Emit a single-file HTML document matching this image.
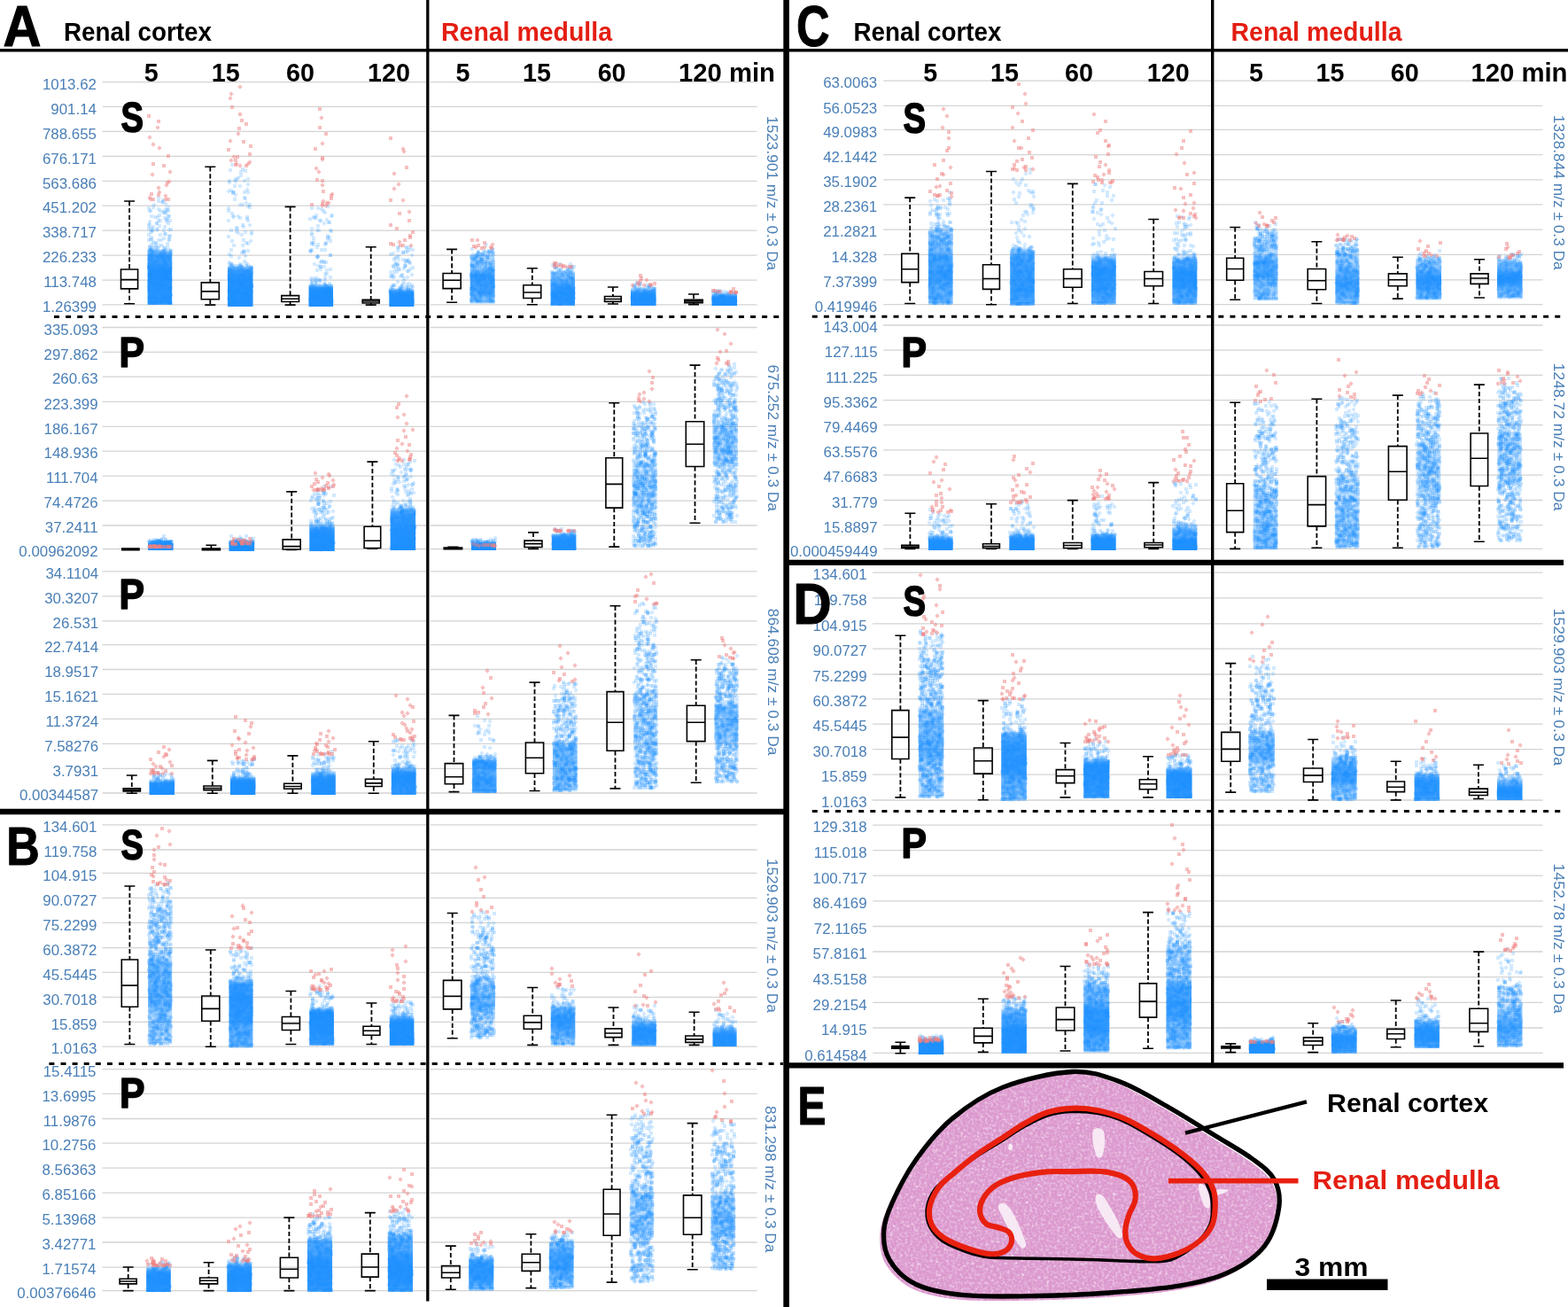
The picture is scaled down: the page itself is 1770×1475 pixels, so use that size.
<!DOCTYPE html><html><head><meta charset="utf-8"><title>Figure</title><style>
html,body{margin:0;padding:0;background:#fff;overflow:hidden}svg{display:block}stop{stop-color:#1e90ff}
text{font-family:"Liberation Sans",Arial,sans-serif}
.k{stroke:#000;stroke-width:1.1;stroke-linejoin:round}.h{font-weight:bold;fill:#000}.r{fill:#e41e12}.t{font-size:16.9px;fill:#4a7fb6}
.g{stroke:#d4d4d4;stroke-width:1.3;fill:none}
.b,.rd{fill:none;stroke:none}
.bx{fill:none;stroke:#000;stroke-width:1.6}.wh{stroke:#000;stroke-width:1.8;stroke-dasharray:5.2 2.7;fill:none}
</style></head><body>
<svg width="1770" height="1475" viewBox="0 0 1770 1475">
<defs>
<marker id="mb" markerUnits="userSpaceOnUse" markerWidth="4" markerHeight="4" refX="2" refY="2" overflow="visible"><rect width="4" height="4" fill="#1e90ff" fill-opacity="0.2"/></marker>
<marker id="mr" markerUnits="userSpaceOnUse" markerWidth="4" markerHeight="4" refX="2" refY="2" overflow="visible"><rect width="4" height="4" fill="#f08080" fill-opacity="0.5"/></marker>
<marker id="mbd" markerUnits="userSpaceOnUse" markerWidth="6" markerHeight="6" refX="0" refY="0" overflow="visible"><path d="M0-2.7L2.7 0 0 2.7-2.7 0z" fill="#1e90ff" fill-opacity="0.2"/></marker>
<marker id="mrd" markerUnits="userSpaceOnUse" markerWidth="6" markerHeight="6" refX="0" refY="0" overflow="visible"><path d="M0-2.7L2.7 0 0 2.7-2.7 0z" fill="#f08080" fill-opacity="0.5"/></marker>
</defs>
<rect width="1770" height="1475" fill="#fff"/>
<path class="g" d="M115.5 92.6H481M486 92.6H854.5M115.5 120.3H481M486 120.3H854.5M115.5 148.3H481M486 148.3H854.5M115.5 176.3H481M486 176.3H854.5M115.5 204.3H481M486 204.3H854.5M115.5 232.2H481M486 232.2H854.5M115.5 260.1H481M486 260.1H854.5M115.5 288.1H481M486 288.1H854.5M115.5 316.1H481M486 316.1H854.5M115.5 343.8H481M486 343.8H854.5M115.5 369.5H481M486 369.5H854.5M115.5 397.3H481M486 397.3H854.5M115.5 425.2H481M486 425.2H854.5M115.5 453.3H481M486 453.3H854.5M115.5 481.3H481M486 481.3H854.5M115.5 509.2H481M486 509.2H854.5M115.5 537.2H481M486 537.2H854.5M115.5 565.2H481M486 565.2H854.5M115.5 593H481M486 593H854.5M115.5 619.5H481M486 619.5H854.5M115.5 644.9H481M486 644.9H854.5M115.5 672.9H481M486 672.9H854.5M115.5 700.9H481M486 700.9H854.5M115.5 727.7H481M486 727.7H854.5M115.5 755.5H481M486 755.5H854.5M115.5 783.4H481M486 783.4H854.5M115.5 811.4H481M486 811.4H854.5M115.5 839.4H481M486 839.4H854.5M115.5 867.3H481M486 867.3H854.5M115.5 895H481M486 895H854.5M115.5 930.8H481M486 930.8H854.5M115.5 959H481M486 959H854.5M115.5 985.3H481M486 985.3H854.5M115.5 1013.4H481M486 1013.4H854.5M115.5 1041.4H481M486 1041.4H854.5M115.5 1069.6H481M486 1069.6H854.5M115.5 1097.3H481M486 1097.3H854.5M115.5 1125.3H481M486 1125.3H854.5M115.5 1153.4H481M486 1153.4H854.5M115.5 1181.2H481M486 1181.2H854.5M115.5 1206.6H481M486 1206.6H854.5M115.5 1234.4H481M486 1234.4H854.5M115.5 1262.5H481M486 1262.5H854.5M115.5 1290.2H481M486 1290.2H854.5M115.5 1318.2H481M486 1318.2H854.5M115.5 1346.1H481M486 1346.1H854.5M115.5 1374.1H481M486 1374.1H854.5M115.5 1402H481M486 1402H854.5M115.5 1430.1H481M486 1430.1H854.5M115.5 1456.7H481M486 1456.7H854.5M997.1 91.1H1367M1371 91.1H1741.5M997.1 119.3H1367M1371 119.3H1741.5M997.1 146.4H1367M1371 146.4H1741.5M997.1 174.6H1367M1371 174.6H1741.5M997.1 202.8H1367M1371 202.8H1741.5M997.1 230.9H1367M1371 230.9H1741.5M997.1 259.1H1367M1371 259.1H1741.5M997.1 287.4H1367M1371 287.4H1741.5M997.1 315.8H1367M1371 315.8H1741.5M997.1 343.6H1367M1371 343.6H1741.5M997.1 367H1367M1371 367H1741.5M997.1 395.1H1367M1371 395.1H1741.5M997.1 423.4H1367M1371 423.4H1741.5M997.1 451.6H1367M1371 451.6H1741.5M997.1 479.6H1367M1371 479.6H1741.5M997.1 507.9H1367M1371 507.9H1741.5M997.1 536.1H1367M1371 536.1H1741.5M997.1 564.5H1367M1371 564.5H1741.5M997.1 592.6H1367M1371 592.6H1741.5M997.1 619.4H1367M1371 619.4H1741.5M984.9 646.1H1367M1371 646.1H1741.5M984.9 674.8H1367M1371 674.8H1741.5M984.9 703.8H1367M1371 703.8H1741.5M984.9 732.1H1367M1371 732.1H1741.5M984.9 761H1367M1371 761H1741.5M984.9 788.8H1367M1371 788.8H1741.5M984.9 817.1H1367M1371 817.1H1741.5M984.9 845.7H1367M1371 845.7H1741.5M984.9 874.2H1367M1371 874.2H1741.5M984.9 903H1367M1371 903H1741.5M985.2 931.1H1367M1371 931.1H1741.5M985.2 959.6H1367M1371 959.6H1741.5M985.2 988.2H1367M1371 988.2H1741.5M985.2 1016.8H1367M1371 1016.8H1741.5M985.2 1045.5H1367M1371 1045.5H1741.5M985.2 1074H1367M1371 1074H1741.5M985.2 1102.7H1367M1371 1102.7H1741.5M985.2 1131.3H1367M1371 1131.3H1741.5M985.2 1160H1367M1371 1160H1741.5M985.2 1188.3H1367M1371 1188.3H1741.5"/>
<defs><linearGradient id="g1" gradientUnits="userSpaceOnUse" x1="0" y1="281" x2="0" y2="344"><stop offset="0.008" stop-opacity="0.13"/><stop offset="0.024" stop-opacity="0.33"/><stop offset="0.040" stop-opacity="0.48"/><stop offset="0.056" stop-opacity="0.57"/><stop offset="0.071" stop-opacity="0.70"/><stop offset="0.087" stop-opacity="0.75"/><stop offset="0.103" stop-opacity="0.80"/><stop offset="0.119" stop-opacity="0.85"/><stop offset="0.262" stop-opacity="0.88"/><stop offset="0.278" stop-opacity="0.90"/><stop offset="0.310" stop-opacity="0.92"/><stop offset="0.325" stop-opacity="0.94"/><stop offset="0.373" stop-opacity="0.97"/><stop offset="0.389" stop-opacity="0.98"/><stop offset="0.913" stop-opacity="0.95"/><stop offset="0.929" stop-opacity="0.93"/><stop offset="0.944" stop-opacity="0.98"/><stop offset="0.960" stop-opacity="0.95"/><stop offset="0.976" stop-opacity="0.90"/><stop offset="0.992" stop-opacity="0.80"/></linearGradient><linearGradient id="g2" gradientUnits="userSpaceOnUse" x1="0" y1="300" x2="0" y2="346"><stop offset="0.011" stop-opacity="0.20"/><stop offset="0.033" stop-opacity="0.42"/><stop offset="0.054" stop-opacity="0.55"/><stop offset="0.076" stop-opacity="0.68"/><stop offset="0.098" stop-opacity="0.78"/><stop offset="0.120" stop-opacity="0.83"/><stop offset="0.141" stop-opacity="0.88"/><stop offset="0.185" stop-opacity="0.92"/><stop offset="0.207" stop-opacity="0.92"/><stop offset="0.337" stop-opacity="0.96"/><stop offset="0.359" stop-opacity="0.97"/><stop offset="0.989" stop-opacity="0.98"/></linearGradient><linearGradient id="g3" gradientUnits="userSpaceOnUse" x1="0" y1="320" x2="0" y2="346"><stop offset="0.019" stop-opacity="0.08"/><stop offset="0.058" stop-opacity="0.35"/><stop offset="0.096" stop-opacity="0.57"/><stop offset="0.135" stop-opacity="0.74"/><stop offset="0.173" stop-opacity="0.87"/><stop offset="0.212" stop-opacity="0.94"/><stop offset="0.250" stop-opacity="0.97"/><stop offset="0.288" stop-opacity="0.99"/><stop offset="0.981" stop-opacity="1.00"/></linearGradient><linearGradient id="g4" gradientUnits="userSpaceOnUse" x1="0" y1="325" x2="0" y2="346"><stop offset="0.024" stop-opacity="0.05"/><stop offset="0.071" stop-opacity="0.29"/><stop offset="0.119" stop-opacity="0.55"/><stop offset="0.167" stop-opacity="0.71"/><stop offset="0.214" stop-opacity="0.86"/><stop offset="0.262" stop-opacity="0.94"/><stop offset="0.310" stop-opacity="0.98"/><stop offset="0.357" stop-opacity="0.99"/><stop offset="0.976" stop-opacity="1.00"/></linearGradient><linearGradient id="g5" gradientUnits="userSpaceOnUse" x1="0" y1="288" x2="0" y2="343"><stop offset="0.009" stop-opacity="0.08"/><stop offset="0.027" stop-opacity="0.15"/><stop offset="0.045" stop-opacity="0.19"/><stop offset="0.064" stop-opacity="0.26"/><stop offset="0.082" stop-opacity="0.29"/><stop offset="0.100" stop-opacity="0.34"/><stop offset="0.118" stop-opacity="0.39"/><stop offset="0.227" stop-opacity="0.42"/><stop offset="0.245" stop-opacity="0.43"/><stop offset="0.264" stop-opacity="0.45"/><stop offset="0.282" stop-opacity="0.48"/><stop offset="0.300" stop-opacity="0.54"/><stop offset="0.318" stop-opacity="0.59"/><stop offset="0.336" stop-opacity="0.65"/><stop offset="0.355" stop-opacity="0.71"/><stop offset="0.373" stop-opacity="0.77"/><stop offset="0.391" stop-opacity="0.81"/><stop offset="0.409" stop-opacity="0.85"/><stop offset="0.427" stop-opacity="0.87"/><stop offset="0.645" stop-opacity="0.84"/><stop offset="0.664" stop-opacity="0.82"/><stop offset="0.700" stop-opacity="0.79"/><stop offset="0.718" stop-opacity="0.76"/><stop offset="0.736" stop-opacity="0.73"/><stop offset="0.755" stop-opacity="0.71"/><stop offset="0.809" stop-opacity="0.68"/><stop offset="0.827" stop-opacity="0.66"/><stop offset="0.864" stop-opacity="0.62"/><stop offset="0.882" stop-opacity="0.59"/><stop offset="0.900" stop-opacity="0.56"/><stop offset="0.918" stop-opacity="0.51"/><stop offset="0.936" stop-opacity="0.66"/><stop offset="0.955" stop-opacity="0.53"/><stop offset="0.973" stop-opacity="0.38"/><stop offset="0.991" stop-opacity="0.19"/></linearGradient><linearGradient id="g6" gradientUnits="userSpaceOnUse" x1="0" y1="305" x2="0" y2="345"><stop offset="0.013" stop-opacity="0.12"/><stop offset="0.037" stop-opacity="0.23"/><stop offset="0.062" stop-opacity="0.31"/><stop offset="0.087" stop-opacity="0.41"/><stop offset="0.113" stop-opacity="0.46"/><stop offset="0.138" stop-opacity="0.51"/><stop offset="0.163" stop-opacity="0.56"/><stop offset="0.188" stop-opacity="0.57"/><stop offset="0.212" stop-opacity="0.60"/><stop offset="0.287" stop-opacity="0.63"/><stop offset="0.312" stop-opacity="0.66"/><stop offset="0.338" stop-opacity="0.70"/><stop offset="0.362" stop-opacity="0.72"/><stop offset="0.388" stop-opacity="0.76"/><stop offset="0.412" stop-opacity="0.79"/><stop offset="0.438" stop-opacity="0.82"/><stop offset="0.463" stop-opacity="0.85"/><stop offset="0.512" stop-opacity="0.89"/><stop offset="0.537" stop-opacity="0.90"/><stop offset="0.637" stop-opacity="0.94"/><stop offset="0.662" stop-opacity="0.95"/><stop offset="0.938" stop-opacity="0.94"/><stop offset="0.963" stop-opacity="0.88"/><stop offset="0.988" stop-opacity="0.77"/></linearGradient><linearGradient id="g7" gradientUnits="userSpaceOnUse" x1="0" y1="324" x2="0" y2="345"><stop offset="0.024" stop-opacity="0.10"/><stop offset="0.071" stop-opacity="0.28"/><stop offset="0.119" stop-opacity="0.46"/><stop offset="0.167" stop-opacity="0.62"/><stop offset="0.214" stop-opacity="0.75"/><stop offset="0.262" stop-opacity="0.84"/><stop offset="0.310" stop-opacity="0.90"/><stop offset="0.357" stop-opacity="0.95"/><stop offset="0.452" stop-opacity="0.98"/><stop offset="0.500" stop-opacity="0.99"/><stop offset="0.976" stop-opacity="0.97"/></linearGradient><linearGradient id="g8" gradientUnits="userSpaceOnUse" x1="0" y1="331" x2="0" y2="345"><stop offset="0.036" stop-opacity="0.30"/><stop offset="0.107" stop-opacity="0.59"/><stop offset="0.179" stop-opacity="0.80"/><stop offset="0.250" stop-opacity="0.92"/><stop offset="0.321" stop-opacity="0.98"/><stop offset="0.964" stop-opacity="1.00"/></linearGradient><linearGradient id="g9" gradientUnits="userSpaceOnUse" x1="0" y1="613" x2="0" y2="621"><stop offset="0.062" stop-opacity="0.98"/><stop offset="0.938" stop-opacity="1.00"/></linearGradient><linearGradient id="g10" gradientUnits="userSpaceOnUse" x1="0" y1="609" x2="0" y2="622"><stop offset="0.038" stop-opacity="0.05"/><stop offset="0.115" stop-opacity="0.52"/><stop offset="0.192" stop-opacity="0.85"/><stop offset="0.269" stop-opacity="0.97"/><stop offset="0.962" stop-opacity="1.00"/></linearGradient><linearGradient id="g11" gradientUnits="userSpaceOnUse" x1="0" y1="591" x2="0" y2="622"><stop offset="0.016" stop-opacity="0.18"/><stop offset="0.048" stop-opacity="0.38"/><stop offset="0.081" stop-opacity="0.52"/><stop offset="0.113" stop-opacity="0.66"/><stop offset="0.145" stop-opacity="0.78"/><stop offset="0.177" stop-opacity="0.84"/><stop offset="0.210" stop-opacity="0.90"/><stop offset="0.242" stop-opacity="0.93"/><stop offset="0.274" stop-opacity="0.94"/><stop offset="0.435" stop-opacity="0.97"/><stop offset="0.468" stop-opacity="0.98"/><stop offset="0.984" stop-opacity="1.00"/></linearGradient><linearGradient id="g12" gradientUnits="userSpaceOnUse" x1="0" y1="572" x2="0" y2="621"><stop offset="0.010" stop-opacity="0.07"/><stop offset="0.031" stop-opacity="0.24"/><stop offset="0.051" stop-opacity="0.44"/><stop offset="0.071" stop-opacity="0.54"/><stop offset="0.092" stop-opacity="0.67"/><stop offset="0.112" stop-opacity="0.75"/><stop offset="0.133" stop-opacity="0.79"/><stop offset="0.153" stop-opacity="0.85"/><stop offset="0.194" stop-opacity="0.87"/><stop offset="0.214" stop-opacity="0.89"/><stop offset="0.418" stop-opacity="0.93"/><stop offset="0.439" stop-opacity="0.93"/><stop offset="0.663" stop-opacity="0.97"/><stop offset="0.684" stop-opacity="0.98"/><stop offset="0.990" stop-opacity="1.00"/></linearGradient><linearGradient id="g13" gradientUnits="userSpaceOnUse" x1="0" y1="611" x2="0" y2="621"><stop offset="0.050" stop-opacity="0.36"/><stop offset="0.150" stop-opacity="0.76"/><stop offset="0.250" stop-opacity="0.94"/><stop offset="0.350" stop-opacity="0.99"/><stop offset="0.950" stop-opacity="1.00"/></linearGradient><linearGradient id="g14" gradientUnits="userSpaceOnUse" x1="0" y1="601" x2="0" y2="621"><stop offset="0.025" stop-opacity="0.05"/><stop offset="0.075" stop-opacity="0.26"/><stop offset="0.125" stop-opacity="0.46"/><stop offset="0.175" stop-opacity="0.66"/><stop offset="0.225" stop-opacity="0.80"/><stop offset="0.275" stop-opacity="0.89"/><stop offset="0.325" stop-opacity="0.95"/><stop offset="0.425" stop-opacity="0.98"/><stop offset="0.475" stop-opacity="0.99"/><stop offset="0.975" stop-opacity="0.99"/></linearGradient><linearGradient id="g15" gradientUnits="userSpaceOnUse" x1="0" y1="516" x2="0" y2="596"><stop offset="0.006" stop-opacity="0.05"/><stop offset="0.019" stop-opacity="0.08"/><stop offset="0.031" stop-opacity="0.10"/><stop offset="0.044" stop-opacity="0.13"/><stop offset="0.056" stop-opacity="0.15"/><stop offset="0.069" stop-opacity="0.18"/><stop offset="0.081" stop-opacity="0.20"/><stop offset="0.256" stop-opacity="0.23"/><stop offset="0.269" stop-opacity="0.25"/><stop offset="0.531" stop-opacity="0.28"/><stop offset="0.544" stop-opacity="0.30"/><stop offset="0.656" stop-opacity="0.27"/><stop offset="0.669" stop-opacity="0.25"/><stop offset="0.694" stop-opacity="0.21"/><stop offset="0.706" stop-opacity="0.19"/><stop offset="0.719" stop-opacity="0.17"/><stop offset="0.731" stop-opacity="0.14"/><stop offset="0.744" stop-opacity="0.10"/><stop offset="0.756" stop-opacity="0.08"/><stop offset="0.769" stop-opacity="0.06"/><stop offset="0.781" stop-opacity="0.05"/><stop offset="0.794" stop-opacity="0.02"/><stop offset="0.994" stop-opacity="0.02"/></linearGradient><linearGradient id="g16" gradientUnits="userSpaceOnUse" x1="0" y1="474" x2="0" y2="529"><stop offset="0.009" stop-opacity="0.05"/><stop offset="0.027" stop-opacity="0.08"/><stop offset="0.045" stop-opacity="0.13"/><stop offset="0.064" stop-opacity="0.16"/><stop offset="0.082" stop-opacity="0.19"/><stop offset="0.100" stop-opacity="0.24"/><stop offset="0.118" stop-opacity="0.26"/><stop offset="0.136" stop-opacity="0.28"/><stop offset="0.336" stop-opacity="0.32"/><stop offset="0.355" stop-opacity="0.33"/><stop offset="0.864" stop-opacity="0.29"/><stop offset="0.882" stop-opacity="0.27"/><stop offset="0.900" stop-opacity="0.24"/><stop offset="0.918" stop-opacity="0.21"/><stop offset="0.936" stop-opacity="0.18"/><stop offset="0.955" stop-opacity="0.13"/><stop offset="0.973" stop-opacity="0.08"/><stop offset="0.991" stop-opacity="0.03"/></linearGradient><linearGradient id="g17" gradientUnits="userSpaceOnUse" x1="0" y1="879" x2="0" y2="897"><stop offset="0.028" stop-opacity="0.15"/><stop offset="0.083" stop-opacity="0.34"/><stop offset="0.139" stop-opacity="0.54"/><stop offset="0.194" stop-opacity="0.73"/><stop offset="0.250" stop-opacity="0.88"/><stop offset="0.306" stop-opacity="0.96"/><stop offset="0.972" stop-opacity="1.00"/></linearGradient><linearGradient id="g18" gradientUnits="userSpaceOnUse" x1="0" y1="875" x2="0" y2="897"><stop offset="0.023" stop-opacity="0.06"/><stop offset="0.068" stop-opacity="0.25"/><stop offset="0.114" stop-opacity="0.46"/><stop offset="0.159" stop-opacity="0.63"/><stop offset="0.205" stop-opacity="0.79"/><stop offset="0.250" stop-opacity="0.89"/><stop offset="0.295" stop-opacity="0.95"/><stop offset="0.341" stop-opacity="0.98"/><stop offset="0.386" stop-opacity="0.99"/><stop offset="0.977" stop-opacity="1.00"/></linearGradient><linearGradient id="g19" gradientUnits="userSpaceOnUse" x1="0" y1="870" x2="0" y2="897"><stop offset="0.019" stop-opacity="0.03"/><stop offset="0.056" stop-opacity="0.22"/><stop offset="0.093" stop-opacity="0.37"/><stop offset="0.130" stop-opacity="0.53"/><stop offset="0.167" stop-opacity="0.67"/><stop offset="0.204" stop-opacity="0.78"/><stop offset="0.241" stop-opacity="0.86"/><stop offset="0.278" stop-opacity="0.90"/><stop offset="0.315" stop-opacity="0.94"/><stop offset="0.352" stop-opacity="0.96"/><stop offset="0.981" stop-opacity="0.98"/></linearGradient><linearGradient id="g20" gradientUnits="userSpaceOnUse" x1="0" y1="865" x2="0" y2="897"><stop offset="0.016" stop-opacity="0.03"/><stop offset="0.047" stop-opacity="0.23"/><stop offset="0.078" stop-opacity="0.38"/><stop offset="0.109" stop-opacity="0.56"/><stop offset="0.141" stop-opacity="0.68"/><stop offset="0.172" stop-opacity="0.79"/><stop offset="0.203" stop-opacity="0.85"/><stop offset="0.234" stop-opacity="0.90"/><stop offset="0.266" stop-opacity="0.92"/><stop offset="0.297" stop-opacity="0.94"/><stop offset="0.359" stop-opacity="0.98"/><stop offset="0.391" stop-opacity="0.99"/><stop offset="0.984" stop-opacity="0.88"/></linearGradient><linearGradient id="g21" gradientUnits="userSpaceOnUse" x1="0" y1="855" x2="0" y2="895"><stop offset="0.013" stop-opacity="0.10"/><stop offset="0.037" stop-opacity="0.32"/><stop offset="0.062" stop-opacity="0.54"/><stop offset="0.087" stop-opacity="0.70"/><stop offset="0.113" stop-opacity="0.81"/><stop offset="0.138" stop-opacity="0.87"/><stop offset="0.263" stop-opacity="0.85"/><stop offset="0.287" stop-opacity="0.82"/><stop offset="0.312" stop-opacity="0.77"/><stop offset="0.338" stop-opacity="0.73"/><stop offset="0.362" stop-opacity="0.70"/><stop offset="0.463" stop-opacity="0.72"/><stop offset="0.487" stop-opacity="0.74"/><stop offset="0.512" stop-opacity="0.77"/><stop offset="0.537" stop-opacity="0.80"/><stop offset="0.588" stop-opacity="0.83"/><stop offset="0.613" stop-opacity="0.86"/><stop offset="0.887" stop-opacity="0.82"/><stop offset="0.912" stop-opacity="0.92"/><stop offset="0.938" stop-opacity="0.85"/><stop offset="0.963" stop-opacity="0.75"/><stop offset="0.988" stop-opacity="0.60"/></linearGradient><linearGradient id="g22" gradientUnits="userSpaceOnUse" x1="0" y1="835" x2="0" y2="894"><stop offset="0.008" stop-opacity="0.06"/><stop offset="0.025" stop-opacity="0.15"/><stop offset="0.042" stop-opacity="0.21"/><stop offset="0.059" stop-opacity="0.27"/><stop offset="0.076" stop-opacity="0.34"/><stop offset="0.093" stop-opacity="0.39"/><stop offset="0.110" stop-opacity="0.45"/><stop offset="0.127" stop-opacity="0.50"/><stop offset="0.161" stop-opacity="0.54"/><stop offset="0.178" stop-opacity="0.55"/><stop offset="0.686" stop-opacity="0.51"/><stop offset="0.703" stop-opacity="0.48"/><stop offset="0.856" stop-opacity="0.47"/><stop offset="0.873" stop-opacity="0.44"/><stop offset="0.890" stop-opacity="0.41"/><stop offset="0.907" stop-opacity="0.40"/><stop offset="0.924" stop-opacity="0.35"/><stop offset="0.941" stop-opacity="0.53"/><stop offset="0.958" stop-opacity="0.40"/><stop offset="0.975" stop-opacity="0.24"/><stop offset="0.992" stop-opacity="0.06"/></linearGradient><linearGradient id="g23" gradientUnits="userSpaceOnUse" x1="0" y1="783" x2="0" y2="888"><stop offset="0.005" stop-opacity="0.03"/><stop offset="0.014" stop-opacity="0.07"/><stop offset="0.024" stop-opacity="0.09"/><stop offset="0.033" stop-opacity="0.11"/><stop offset="0.205" stop-opacity="0.15"/><stop offset="0.214" stop-opacity="0.17"/><stop offset="0.271" stop-opacity="0.14"/><stop offset="0.281" stop-opacity="0.13"/><stop offset="0.310" stop-opacity="0.15"/><stop offset="0.319" stop-opacity="0.18"/><stop offset="0.576" stop-opacity="0.16"/><stop offset="0.586" stop-opacity="0.14"/><stop offset="0.624" stop-opacity="0.12"/><stop offset="0.633" stop-opacity="0.09"/><stop offset="0.662" stop-opacity="0.05"/><stop offset="0.671" stop-opacity="0.04"/><stop offset="0.995" stop-opacity="0.11"/></linearGradient><linearGradient id="g24" gradientUnits="userSpaceOnUse" x1="0" y1="789" x2="0" y2="859"><stop offset="0.007" stop-opacity="0.03"/><stop offset="0.036" stop-opacity="0.05"/><stop offset="0.050" stop-opacity="0.08"/><stop offset="0.064" stop-opacity="0.10"/><stop offset="0.079" stop-opacity="0.17"/><stop offset="0.093" stop-opacity="0.23"/><stop offset="0.107" stop-opacity="0.28"/><stop offset="0.121" stop-opacity="0.34"/><stop offset="0.136" stop-opacity="0.37"/><stop offset="0.150" stop-opacity="0.40"/><stop offset="0.164" stop-opacity="0.45"/><stop offset="0.179" stop-opacity="0.48"/><stop offset="0.193" stop-opacity="0.49"/><stop offset="0.436" stop-opacity="0.45"/><stop offset="0.450" stop-opacity="0.45"/><stop offset="0.607" stop-opacity="0.42"/><stop offset="0.621" stop-opacity="0.41"/><stop offset="0.636" stop-opacity="0.38"/><stop offset="0.650" stop-opacity="0.36"/><stop offset="0.664" stop-opacity="0.32"/><stop offset="0.679" stop-opacity="0.28"/><stop offset="0.693" stop-opacity="0.23"/><stop offset="0.707" stop-opacity="0.19"/><stop offset="0.721" stop-opacity="0.13"/><stop offset="0.736" stop-opacity="0.10"/><stop offset="0.750" stop-opacity="0.06"/><stop offset="0.764" stop-opacity="0.04"/><stop offset="0.779" stop-opacity="0.02"/><stop offset="0.993" stop-opacity="0.04"/></linearGradient><linearGradient id="g25" gradientUnits="userSpaceOnUse" x1="0" y1="1035" x2="0" y2="1179"><stop offset="0.003" stop-opacity="0.04"/><stop offset="0.302" stop-opacity="0.07"/><stop offset="0.309" stop-opacity="0.11"/><stop offset="0.316" stop-opacity="0.16"/><stop offset="0.323" stop-opacity="0.20"/><stop offset="0.330" stop-opacity="0.28"/><stop offset="0.337" stop-opacity="0.33"/><stop offset="0.344" stop-opacity="0.38"/><stop offset="0.351" stop-opacity="0.42"/><stop offset="0.358" stop-opacity="0.46"/><stop offset="0.365" stop-opacity="0.50"/><stop offset="0.378" stop-opacity="0.53"/><stop offset="0.385" stop-opacity="0.54"/><stop offset="0.524" stop-opacity="0.58"/><stop offset="0.531" stop-opacity="0.59"/><stop offset="0.545" stop-opacity="0.63"/><stop offset="0.552" stop-opacity="0.64"/><stop offset="0.684" stop-opacity="0.61"/><stop offset="0.691" stop-opacity="0.58"/><stop offset="0.698" stop-opacity="0.56"/><stop offset="0.705" stop-opacity="0.53"/><stop offset="0.712" stop-opacity="0.50"/><stop offset="0.719" stop-opacity="0.46"/><stop offset="0.726" stop-opacity="0.43"/><stop offset="0.733" stop-opacity="0.41"/><stop offset="0.740" stop-opacity="0.38"/><stop offset="0.747" stop-opacity="0.35"/><stop offset="0.774" stop-opacity="0.32"/><stop offset="0.781" stop-opacity="0.31"/><stop offset="0.830" stop-opacity="0.33"/><stop offset="0.837" stop-opacity="0.37"/><stop offset="0.858" stop-opacity="0.35"/><stop offset="0.865" stop-opacity="0.31"/><stop offset="0.962" stop-opacity="0.28"/><stop offset="0.969" stop-opacity="0.26"/><stop offset="0.976" stop-opacity="0.19"/><stop offset="0.983" stop-opacity="0.38"/><stop offset="0.990" stop-opacity="0.23"/><stop offset="0.997" stop-opacity="0.09"/></linearGradient><linearGradient id="g26" gradientUnits="userSpaceOnUse" x1="0" y1="1104" x2="0" y2="1183"><stop offset="0.006" stop-opacity="0.04"/><stop offset="0.019" stop-opacity="0.17"/><stop offset="0.032" stop-opacity="0.35"/><stop offset="0.044" stop-opacity="0.45"/><stop offset="0.057" stop-opacity="0.59"/><stop offset="0.070" stop-opacity="0.69"/><stop offset="0.082" stop-opacity="0.75"/><stop offset="0.095" stop-opacity="0.80"/><stop offset="0.108" stop-opacity="0.82"/><stop offset="0.120" stop-opacity="0.84"/><stop offset="0.196" stop-opacity="0.87"/><stop offset="0.209" stop-opacity="0.88"/><stop offset="0.272" stop-opacity="0.92"/><stop offset="0.285" stop-opacity="0.92"/><stop offset="0.614" stop-opacity="0.89"/><stop offset="0.627" stop-opacity="0.86"/><stop offset="0.639" stop-opacity="0.84"/><stop offset="0.652" stop-opacity="0.80"/><stop offset="0.665" stop-opacity="0.78"/><stop offset="0.677" stop-opacity="0.75"/><stop offset="0.690" stop-opacity="0.73"/><stop offset="0.703" stop-opacity="0.71"/><stop offset="0.892" stop-opacity="0.68"/><stop offset="0.905" stop-opacity="0.66"/><stop offset="0.918" stop-opacity="0.65"/><stop offset="0.930" stop-opacity="0.62"/><stop offset="0.943" stop-opacity="0.58"/><stop offset="0.956" stop-opacity="0.72"/><stop offset="0.968" stop-opacity="0.59"/><stop offset="0.981" stop-opacity="0.44"/><stop offset="0.994" stop-opacity="0.25"/></linearGradient><linearGradient id="g27" gradientUnits="userSpaceOnUse" x1="0" y1="1137" x2="0" y2="1180"><stop offset="0.012" stop-opacity="0.10"/><stop offset="0.035" stop-opacity="0.29"/><stop offset="0.058" stop-opacity="0.51"/><stop offset="0.081" stop-opacity="0.71"/><stop offset="0.105" stop-opacity="0.85"/><stop offset="0.128" stop-opacity="0.94"/><stop offset="0.151" stop-opacity="0.97"/><stop offset="0.174" stop-opacity="0.99"/><stop offset="0.686" stop-opacity="0.96"/><stop offset="0.709" stop-opacity="0.95"/><stop offset="0.826" stop-opacity="0.91"/><stop offset="0.849" stop-opacity="0.90"/><stop offset="0.895" stop-opacity="0.86"/><stop offset="0.919" stop-opacity="0.94"/><stop offset="0.942" stop-opacity="0.89"/><stop offset="0.965" stop-opacity="0.80"/><stop offset="0.988" stop-opacity="0.65"/></linearGradient><linearGradient id="g28" gradientUnits="userSpaceOnUse" x1="0" y1="1146" x2="0" y2="1180"><stop offset="0.015" stop-opacity="0.13"/><stop offset="0.044" stop-opacity="0.31"/><stop offset="0.074" stop-opacity="0.49"/><stop offset="0.103" stop-opacity="0.66"/><stop offset="0.132" stop-opacity="0.81"/><stop offset="0.162" stop-opacity="0.90"/><stop offset="0.191" stop-opacity="0.95"/><stop offset="0.250" stop-opacity="0.99"/><stop offset="0.279" stop-opacity="0.99"/><stop offset="0.926" stop-opacity="0.98"/><stop offset="0.956" stop-opacity="0.94"/><stop offset="0.985" stop-opacity="0.87"/></linearGradient><linearGradient id="g29" gradientUnits="userSpaceOnUse" x1="0" y1="1104" x2="0" y2="1171"><stop offset="0.007" stop-opacity="0.02"/><stop offset="0.022" stop-opacity="0.10"/><stop offset="0.037" stop-opacity="0.17"/><stop offset="0.052" stop-opacity="0.25"/><stop offset="0.067" stop-opacity="0.30"/><stop offset="0.082" stop-opacity="0.36"/><stop offset="0.097" stop-opacity="0.41"/><stop offset="0.112" stop-opacity="0.44"/><stop offset="0.127" stop-opacity="0.46"/><stop offset="0.216" stop-opacity="0.49"/><stop offset="0.231" stop-opacity="0.50"/><stop offset="0.291" stop-opacity="0.54"/><stop offset="0.306" stop-opacity="0.55"/><stop offset="0.366" stop-opacity="0.59"/><stop offset="0.381" stop-opacity="0.59"/><stop offset="0.470" stop-opacity="0.57"/><stop offset="0.485" stop-opacity="0.53"/><stop offset="0.500" stop-opacity="0.49"/><stop offset="0.515" stop-opacity="0.46"/><stop offset="0.530" stop-opacity="0.42"/><stop offset="0.545" stop-opacity="0.36"/><stop offset="0.560" stop-opacity="0.30"/><stop offset="0.575" stop-opacity="0.25"/><stop offset="0.590" stop-opacity="0.22"/><stop offset="0.604" stop-opacity="0.19"/><stop offset="0.619" stop-opacity="0.16"/><stop offset="0.634" stop-opacity="0.14"/><stop offset="0.903" stop-opacity="0.11"/><stop offset="0.918" stop-opacity="0.09"/><stop offset="0.948" stop-opacity="0.05"/><stop offset="0.963" stop-opacity="0.03"/><stop offset="0.978" stop-opacity="0.21"/><stop offset="0.993" stop-opacity="0.08"/></linearGradient><linearGradient id="g30" gradientUnits="userSpaceOnUse" x1="0" y1="1134" x2="0" y2="1181"><stop offset="0.011" stop-opacity="0.04"/><stop offset="0.032" stop-opacity="0.18"/><stop offset="0.053" stop-opacity="0.32"/><stop offset="0.074" stop-opacity="0.44"/><stop offset="0.096" stop-opacity="0.53"/><stop offset="0.117" stop-opacity="0.61"/><stop offset="0.138" stop-opacity="0.65"/><stop offset="0.160" stop-opacity="0.68"/><stop offset="0.181" stop-opacity="0.72"/><stop offset="0.202" stop-opacity="0.75"/><stop offset="0.223" stop-opacity="0.78"/><stop offset="0.245" stop-opacity="0.80"/><stop offset="0.266" stop-opacity="0.83"/><stop offset="0.309" stop-opacity="0.86"/><stop offset="0.330" stop-opacity="0.88"/><stop offset="0.564" stop-opacity="0.84"/><stop offset="0.585" stop-opacity="0.79"/><stop offset="0.606" stop-opacity="0.76"/><stop offset="0.628" stop-opacity="0.72"/><stop offset="0.649" stop-opacity="0.66"/><stop offset="0.670" stop-opacity="0.62"/><stop offset="0.691" stop-opacity="0.58"/><stop offset="0.713" stop-opacity="0.56"/><stop offset="0.777" stop-opacity="0.53"/><stop offset="0.798" stop-opacity="0.50"/><stop offset="0.840" stop-opacity="0.48"/><stop offset="0.862" stop-opacity="0.44"/><stop offset="0.883" stop-opacity="0.41"/><stop offset="0.904" stop-opacity="0.36"/><stop offset="0.926" stop-opacity="0.53"/><stop offset="0.947" stop-opacity="0.41"/><stop offset="0.968" stop-opacity="0.25"/><stop offset="0.989" stop-opacity="0.07"/></linearGradient><linearGradient id="g31" gradientUnits="userSpaceOnUse" x1="0" y1="1150" x2="0" y2="1181"><stop offset="0.016" stop-opacity="0.13"/><stop offset="0.048" stop-opacity="0.28"/><stop offset="0.081" stop-opacity="0.42"/><stop offset="0.113" stop-opacity="0.54"/><stop offset="0.145" stop-opacity="0.64"/><stop offset="0.177" stop-opacity="0.72"/><stop offset="0.210" stop-opacity="0.77"/><stop offset="0.242" stop-opacity="0.82"/><stop offset="0.274" stop-opacity="0.86"/><stop offset="0.306" stop-opacity="0.89"/><stop offset="0.339" stop-opacity="0.91"/><stop offset="0.403" stop-opacity="0.95"/><stop offset="0.435" stop-opacity="0.96"/><stop offset="0.726" stop-opacity="0.93"/><stop offset="0.758" stop-opacity="0.91"/><stop offset="0.790" stop-opacity="0.89"/><stop offset="0.823" stop-opacity="0.86"/><stop offset="0.855" stop-opacity="0.81"/><stop offset="0.887" stop-opacity="0.90"/><stop offset="0.919" stop-opacity="0.82"/><stop offset="0.952" stop-opacity="0.69"/><stop offset="0.984" stop-opacity="0.53"/></linearGradient><linearGradient id="g32" gradientUnits="userSpaceOnUse" x1="0" y1="1159" x2="0" y2="1181"><stop offset="0.023" stop-opacity="0.15"/><stop offset="0.068" stop-opacity="0.31"/><stop offset="0.114" stop-opacity="0.49"/><stop offset="0.159" stop-opacity="0.61"/><stop offset="0.205" stop-opacity="0.72"/><stop offset="0.250" stop-opacity="0.80"/><stop offset="0.295" stop-opacity="0.86"/><stop offset="0.341" stop-opacity="0.91"/><stop offset="0.386" stop-opacity="0.94"/><stop offset="0.432" stop-opacity="0.96"/><stop offset="0.977" stop-opacity="0.96"/></linearGradient><linearGradient id="g33" gradientUnits="userSpaceOnUse" x1="0" y1="1429" x2="0" y2="1458"><stop offset="0.017" stop-opacity="0.19"/><stop offset="0.052" stop-opacity="0.36"/><stop offset="0.086" stop-opacity="0.54"/><stop offset="0.121" stop-opacity="0.69"/><stop offset="0.155" stop-opacity="0.80"/><stop offset="0.190" stop-opacity="0.88"/><stop offset="0.224" stop-opacity="0.93"/><stop offset="0.259" stop-opacity="0.96"/><stop offset="0.293" stop-opacity="0.98"/><stop offset="0.983" stop-opacity="0.95"/></linearGradient><linearGradient id="g34" gradientUnits="userSpaceOnUse" x1="0" y1="1424" x2="0" y2="1458"><stop offset="0.015" stop-opacity="0.20"/><stop offset="0.044" stop-opacity="0.36"/><stop offset="0.074" stop-opacity="0.51"/><stop offset="0.103" stop-opacity="0.64"/><stop offset="0.132" stop-opacity="0.72"/><stop offset="0.162" stop-opacity="0.80"/><stop offset="0.191" stop-opacity="0.84"/><stop offset="0.221" stop-opacity="0.87"/><stop offset="0.250" stop-opacity="0.90"/><stop offset="0.338" stop-opacity="0.94"/><stop offset="0.368" stop-opacity="0.95"/><stop offset="0.426" stop-opacity="0.98"/><stop offset="0.456" stop-opacity="0.99"/><stop offset="0.985" stop-opacity="0.95"/></linearGradient><linearGradient id="g35" gradientUnits="userSpaceOnUse" x1="0" y1="1396" x2="0" y2="1458"><stop offset="0.008" stop-opacity="0.10"/><stop offset="0.024" stop-opacity="0.24"/><stop offset="0.040" stop-opacity="0.36"/><stop offset="0.056" stop-opacity="0.42"/><stop offset="0.073" stop-opacity="0.55"/><stop offset="0.089" stop-opacity="0.61"/><stop offset="0.105" stop-opacity="0.66"/><stop offset="0.121" stop-opacity="0.72"/><stop offset="0.234" stop-opacity="0.75"/><stop offset="0.250" stop-opacity="0.76"/><stop offset="0.298" stop-opacity="0.79"/><stop offset="0.315" stop-opacity="0.81"/><stop offset="0.331" stop-opacity="0.83"/><stop offset="0.347" stop-opacity="0.86"/><stop offset="0.379" stop-opacity="0.90"/><stop offset="0.395" stop-opacity="0.91"/><stop offset="0.444" stop-opacity="0.95"/><stop offset="0.460" stop-opacity="0.95"/><stop offset="0.895" stop-opacity="0.92"/><stop offset="0.911" stop-opacity="0.91"/><stop offset="0.927" stop-opacity="0.89"/><stop offset="0.944" stop-opacity="0.96"/><stop offset="0.960" stop-opacity="0.91"/><stop offset="0.976" stop-opacity="0.84"/><stop offset="0.992" stop-opacity="0.71"/></linearGradient><linearGradient id="g36" gradientUnits="userSpaceOnUse" x1="0" y1="1390" x2="0" y2="1458"><stop offset="0.007" stop-opacity="0.05"/><stop offset="0.022" stop-opacity="0.15"/><stop offset="0.037" stop-opacity="0.28"/><stop offset="0.051" stop-opacity="0.37"/><stop offset="0.066" stop-opacity="0.46"/><stop offset="0.081" stop-opacity="0.56"/><stop offset="0.096" stop-opacity="0.60"/><stop offset="0.110" stop-opacity="0.65"/><stop offset="0.125" stop-opacity="0.68"/><stop offset="0.140" stop-opacity="0.70"/><stop offset="0.272" stop-opacity="0.72"/><stop offset="0.287" stop-opacity="0.74"/><stop offset="0.316" stop-opacity="0.78"/><stop offset="0.331" stop-opacity="0.79"/><stop offset="0.346" stop-opacity="0.82"/><stop offset="0.360" stop-opacity="0.84"/><stop offset="0.390" stop-opacity="0.88"/><stop offset="0.404" stop-opacity="0.89"/><stop offset="0.449" stop-opacity="0.92"/><stop offset="0.463" stop-opacity="0.93"/><stop offset="0.640" stop-opacity="0.97"/><stop offset="0.654" stop-opacity="0.97"/><stop offset="0.860" stop-opacity="0.93"/><stop offset="0.875" stop-opacity="0.93"/><stop offset="0.919" stop-opacity="0.89"/><stop offset="0.934" stop-opacity="0.87"/><stop offset="0.949" stop-opacity="0.95"/><stop offset="0.963" stop-opacity="0.90"/><stop offset="0.978" stop-opacity="0.82"/><stop offset="0.993" stop-opacity="0.68"/></linearGradient><linearGradient id="g37" gradientUnits="userSpaceOnUse" x1="0" y1="1418" x2="0" y2="1457"><stop offset="0.013" stop-opacity="0.15"/><stop offset="0.038" stop-opacity="0.30"/><stop offset="0.064" stop-opacity="0.45"/><stop offset="0.090" stop-opacity="0.56"/><stop offset="0.115" stop-opacity="0.67"/><stop offset="0.141" stop-opacity="0.73"/><stop offset="0.167" stop-opacity="0.78"/><stop offset="0.192" stop-opacity="0.82"/><stop offset="0.218" stop-opacity="0.84"/><stop offset="0.269" stop-opacity="0.88"/><stop offset="0.295" stop-opacity="0.88"/><stop offset="0.397" stop-opacity="0.92"/><stop offset="0.423" stop-opacity="0.93"/><stop offset="0.628" stop-opacity="0.90"/><stop offset="0.654" stop-opacity="0.87"/><stop offset="0.679" stop-opacity="0.84"/><stop offset="0.705" stop-opacity="0.81"/><stop offset="0.731" stop-opacity="0.79"/><stop offset="0.756" stop-opacity="0.76"/><stop offset="0.782" stop-opacity="0.73"/><stop offset="0.808" stop-opacity="0.71"/><stop offset="0.833" stop-opacity="0.67"/><stop offset="0.859" stop-opacity="0.62"/><stop offset="0.885" stop-opacity="0.57"/><stop offset="0.910" stop-opacity="0.71"/><stop offset="0.936" stop-opacity="0.59"/><stop offset="0.962" stop-opacity="0.44"/><stop offset="0.987" stop-opacity="0.26"/></linearGradient><linearGradient id="g38" gradientUnits="userSpaceOnUse" x1="0" y1="1400" x2="0" y2="1455"><stop offset="0.009" stop-opacity="0.09"/><stop offset="0.027" stop-opacity="0.19"/><stop offset="0.045" stop-opacity="0.27"/><stop offset="0.064" stop-opacity="0.36"/><stop offset="0.082" stop-opacity="0.44"/><stop offset="0.100" stop-opacity="0.51"/><stop offset="0.118" stop-opacity="0.55"/><stop offset="0.136" stop-opacity="0.58"/><stop offset="0.155" stop-opacity="0.59"/><stop offset="0.191" stop-opacity="0.63"/><stop offset="0.209" stop-opacity="0.65"/><stop offset="0.227" stop-opacity="0.68"/><stop offset="0.245" stop-opacity="0.71"/><stop offset="0.282" stop-opacity="0.75"/><stop offset="0.300" stop-opacity="0.78"/><stop offset="0.336" stop-opacity="0.82"/><stop offset="0.355" stop-opacity="0.83"/><stop offset="0.573" stop-opacity="0.81"/><stop offset="0.591" stop-opacity="0.79"/><stop offset="0.609" stop-opacity="0.76"/><stop offset="0.627" stop-opacity="0.74"/><stop offset="0.645" stop-opacity="0.70"/><stop offset="0.664" stop-opacity="0.67"/><stop offset="0.682" stop-opacity="0.62"/><stop offset="0.700" stop-opacity="0.59"/><stop offset="0.718" stop-opacity="0.56"/><stop offset="0.791" stop-opacity="0.52"/><stop offset="0.809" stop-opacity="0.51"/><stop offset="0.845" stop-opacity="0.48"/><stop offset="0.864" stop-opacity="0.47"/><stop offset="0.882" stop-opacity="0.44"/><stop offset="0.900" stop-opacity="0.41"/><stop offset="0.918" stop-opacity="0.37"/><stop offset="0.936" stop-opacity="0.56"/><stop offset="0.955" stop-opacity="0.43"/><stop offset="0.973" stop-opacity="0.29"/><stop offset="0.991" stop-opacity="0.11"/></linearGradient><linearGradient id="g39" gradientUnits="userSpaceOnUse" x1="0" y1="1342" x2="0" y2="1398"><stop offset="0.009" stop-opacity="0.04"/><stop offset="0.027" stop-opacity="0.10"/><stop offset="0.045" stop-opacity="0.14"/><stop offset="0.062" stop-opacity="0.17"/><stop offset="0.080" stop-opacity="0.22"/><stop offset="0.116" stop-opacity="0.25"/><stop offset="0.134" stop-opacity="0.26"/><stop offset="0.366" stop-opacity="0.30"/><stop offset="0.384" stop-opacity="0.30"/><stop offset="0.527" stop-opacity="0.34"/><stop offset="0.545" stop-opacity="0.35"/><stop offset="0.866" stop-opacity="0.32"/><stop offset="0.884" stop-opacity="0.29"/><stop offset="0.902" stop-opacity="0.26"/><stop offset="0.920" stop-opacity="0.23"/><stop offset="0.938" stop-opacity="0.18"/><stop offset="0.955" stop-opacity="0.15"/><stop offset="0.973" stop-opacity="0.09"/><stop offset="0.991" stop-opacity="0.04"/></linearGradient><linearGradient id="g40" gradientUnits="userSpaceOnUse" x1="0" y1="1348" x2="0" y2="1432"><stop offset="0.006" stop-opacity="0.03"/><stop offset="0.018" stop-opacity="0.10"/><stop offset="0.030" stop-opacity="0.14"/><stop offset="0.042" stop-opacity="0.19"/><stop offset="0.054" stop-opacity="0.24"/><stop offset="0.065" stop-opacity="0.26"/><stop offset="0.077" stop-opacity="0.29"/><stop offset="0.208" stop-opacity="0.33"/><stop offset="0.220" stop-opacity="0.34"/><stop offset="0.292" stop-opacity="0.38"/><stop offset="0.304" stop-opacity="0.39"/><stop offset="0.315" stop-opacity="0.41"/><stop offset="0.327" stop-opacity="0.43"/><stop offset="0.351" stop-opacity="0.47"/><stop offset="0.363" stop-opacity="0.48"/><stop offset="0.494" stop-opacity="0.46"/><stop offset="0.506" stop-opacity="0.44"/><stop offset="0.518" stop-opacity="0.39"/><stop offset="0.530" stop-opacity="0.37"/><stop offset="0.542" stop-opacity="0.33"/><stop offset="0.554" stop-opacity="0.28"/><stop offset="0.565" stop-opacity="0.25"/><stop offset="0.577" stop-opacity="0.19"/><stop offset="0.589" stop-opacity="0.16"/><stop offset="0.601" stop-opacity="0.12"/><stop offset="0.613" stop-opacity="0.10"/><stop offset="0.625" stop-opacity="0.08"/><stop offset="0.923" stop-opacity="0.05"/><stop offset="0.935" stop-opacity="0.04"/><stop offset="0.970" stop-opacity="0.00"/><stop offset="0.982" stop-opacity="0.14"/><stop offset="0.994" stop-opacity="0.02"/></linearGradient><linearGradient id="g41" gradientUnits="userSpaceOnUse" x1="0" y1="258" x2="0" y2="344"><stop offset="0.006" stop-opacity="0.02"/><stop offset="0.017" stop-opacity="0.11"/><stop offset="0.029" stop-opacity="0.22"/><stop offset="0.041" stop-opacity="0.28"/><stop offset="0.052" stop-opacity="0.35"/><stop offset="0.064" stop-opacity="0.40"/><stop offset="0.087" stop-opacity="0.44"/><stop offset="0.099" stop-opacity="0.44"/><stop offset="0.250" stop-opacity="0.46"/><stop offset="0.262" stop-opacity="0.49"/><stop offset="0.273" stop-opacity="0.52"/><stop offset="0.285" stop-opacity="0.53"/><stop offset="0.297" stop-opacity="0.56"/><stop offset="0.308" stop-opacity="0.60"/><stop offset="0.320" stop-opacity="0.64"/><stop offset="0.331" stop-opacity="0.67"/><stop offset="0.343" stop-opacity="0.70"/><stop offset="0.355" stop-opacity="0.72"/><stop offset="0.366" stop-opacity="0.75"/><stop offset="0.378" stop-opacity="0.77"/><stop offset="0.459" stop-opacity="0.81"/><stop offset="0.471" stop-opacity="0.82"/><stop offset="0.587" stop-opacity="0.86"/><stop offset="0.599" stop-opacity="0.86"/><stop offset="0.680" stop-opacity="0.83"/><stop offset="0.692" stop-opacity="0.81"/><stop offset="0.715" stop-opacity="0.78"/><stop offset="0.727" stop-opacity="0.76"/><stop offset="0.738" stop-opacity="0.74"/><stop offset="0.750" stop-opacity="0.71"/><stop offset="0.773" stop-opacity="0.68"/><stop offset="0.785" stop-opacity="0.66"/><stop offset="0.901" stop-opacity="0.64"/><stop offset="0.913" stop-opacity="0.62"/><stop offset="0.936" stop-opacity="0.59"/><stop offset="0.948" stop-opacity="0.54"/><stop offset="0.959" stop-opacity="0.71"/><stop offset="0.971" stop-opacity="0.59"/><stop offset="0.983" stop-opacity="0.42"/><stop offset="0.994" stop-opacity="0.25"/></linearGradient><linearGradient id="g42" gradientUnits="userSpaceOnUse" x1="0" y1="281" x2="0" y2="345"><stop offset="0.008" stop-opacity="0.09"/><stop offset="0.023" stop-opacity="0.22"/><stop offset="0.039" stop-opacity="0.36"/><stop offset="0.055" stop-opacity="0.50"/><stop offset="0.070" stop-opacity="0.57"/><stop offset="0.086" stop-opacity="0.66"/><stop offset="0.102" stop-opacity="0.71"/><stop offset="0.133" stop-opacity="0.75"/><stop offset="0.148" stop-opacity="0.76"/><stop offset="0.227" stop-opacity="0.79"/><stop offset="0.242" stop-opacity="0.80"/><stop offset="0.336" stop-opacity="0.84"/><stop offset="0.352" stop-opacity="0.84"/><stop offset="0.492" stop-opacity="0.88"/><stop offset="0.508" stop-opacity="0.89"/><stop offset="0.758" stop-opacity="0.85"/><stop offset="0.773" stop-opacity="0.84"/><stop offset="0.867" stop-opacity="0.81"/><stop offset="0.883" stop-opacity="0.80"/><stop offset="0.914" stop-opacity="0.76"/><stop offset="0.930" stop-opacity="0.72"/><stop offset="0.945" stop-opacity="0.87"/><stop offset="0.961" stop-opacity="0.79"/><stop offset="0.977" stop-opacity="0.67"/><stop offset="0.992" stop-opacity="0.51"/></linearGradient><linearGradient id="g43" gradientUnits="userSpaceOnUse" x1="0" y1="289" x2="0" y2="344"><stop offset="0.009" stop-opacity="0.14"/><stop offset="0.027" stop-opacity="0.29"/><stop offset="0.045" stop-opacity="0.47"/><stop offset="0.064" stop-opacity="0.60"/><stop offset="0.082" stop-opacity="0.70"/><stop offset="0.100" stop-opacity="0.77"/><stop offset="0.118" stop-opacity="0.80"/><stop offset="0.136" stop-opacity="0.83"/><stop offset="0.191" stop-opacity="0.87"/><stop offset="0.209" stop-opacity="0.88"/><stop offset="0.282" stop-opacity="0.92"/><stop offset="0.300" stop-opacity="0.93"/><stop offset="0.664" stop-opacity="0.90"/><stop offset="0.682" stop-opacity="0.88"/><stop offset="0.700" stop-opacity="0.86"/><stop offset="0.718" stop-opacity="0.83"/><stop offset="0.809" stop-opacity="0.80"/><stop offset="0.827" stop-opacity="0.79"/><stop offset="0.864" stop-opacity="0.77"/><stop offset="0.882" stop-opacity="0.75"/><stop offset="0.900" stop-opacity="0.72"/><stop offset="0.918" stop-opacity="0.68"/><stop offset="0.936" stop-opacity="0.82"/><stop offset="0.955" stop-opacity="0.73"/><stop offset="0.973" stop-opacity="0.60"/><stop offset="0.991" stop-opacity="0.42"/></linearGradient><linearGradient id="g44" gradientUnits="userSpaceOnUse" x1="0" y1="289" x2="0" y2="344"><stop offset="0.009" stop-opacity="0.07"/><stop offset="0.027" stop-opacity="0.21"/><stop offset="0.045" stop-opacity="0.34"/><stop offset="0.064" stop-opacity="0.49"/><stop offset="0.082" stop-opacity="0.58"/><stop offset="0.100" stop-opacity="0.66"/><stop offset="0.118" stop-opacity="0.72"/><stop offset="0.136" stop-opacity="0.75"/><stop offset="0.155" stop-opacity="0.76"/><stop offset="0.209" stop-opacity="0.78"/><stop offset="0.227" stop-opacity="0.81"/><stop offset="0.245" stop-opacity="0.84"/><stop offset="0.264" stop-opacity="0.86"/><stop offset="0.282" stop-opacity="0.89"/><stop offset="0.300" stop-opacity="0.91"/><stop offset="0.336" stop-opacity="0.95"/><stop offset="0.355" stop-opacity="0.96"/><stop offset="0.627" stop-opacity="0.93"/><stop offset="0.645" stop-opacity="0.91"/><stop offset="0.664" stop-opacity="0.88"/><stop offset="0.682" stop-opacity="0.85"/><stop offset="0.700" stop-opacity="0.82"/><stop offset="0.718" stop-opacity="0.80"/><stop offset="0.809" stop-opacity="0.77"/><stop offset="0.827" stop-opacity="0.75"/><stop offset="0.864" stop-opacity="0.72"/><stop offset="0.882" stop-opacity="0.70"/><stop offset="0.900" stop-opacity="0.69"/><stop offset="0.918" stop-opacity="0.65"/><stop offset="0.936" stop-opacity="0.79"/><stop offset="0.955" stop-opacity="0.69"/><stop offset="0.973" stop-opacity="0.54"/><stop offset="0.991" stop-opacity="0.35"/></linearGradient><linearGradient id="g45" gradientUnits="userSpaceOnUse" x1="0" y1="266" x2="0" y2="339"><stop offset="0.007" stop-opacity="0.03"/><stop offset="0.021" stop-opacity="0.06"/><stop offset="0.034" stop-opacity="0.10"/><stop offset="0.048" stop-opacity="0.14"/><stop offset="0.062" stop-opacity="0.15"/><stop offset="0.103" stop-opacity="0.18"/><stop offset="0.116" stop-opacity="0.19"/><stop offset="0.267" stop-opacity="0.22"/><stop offset="0.281" stop-opacity="0.27"/><stop offset="0.295" stop-opacity="0.32"/><stop offset="0.308" stop-opacity="0.36"/><stop offset="0.322" stop-opacity="0.41"/><stop offset="0.336" stop-opacity="0.46"/><stop offset="0.349" stop-opacity="0.52"/><stop offset="0.363" stop-opacity="0.57"/><stop offset="0.377" stop-opacity="0.62"/><stop offset="0.390" stop-opacity="0.66"/><stop offset="0.404" stop-opacity="0.69"/><stop offset="0.432" stop-opacity="0.72"/><stop offset="0.445" stop-opacity="0.73"/><stop offset="0.637" stop-opacity="0.70"/><stop offset="0.651" stop-opacity="0.68"/><stop offset="0.664" stop-opacity="0.65"/><stop offset="0.678" stop-opacity="0.63"/><stop offset="0.692" stop-opacity="0.61"/><stop offset="0.705" stop-opacity="0.57"/><stop offset="0.719" stop-opacity="0.54"/><stop offset="0.733" stop-opacity="0.51"/><stop offset="0.747" stop-opacity="0.47"/><stop offset="0.760" stop-opacity="0.46"/><stop offset="0.856" stop-opacity="0.43"/><stop offset="0.870" stop-opacity="0.42"/><stop offset="0.897" stop-opacity="0.39"/><stop offset="0.911" stop-opacity="0.37"/><stop offset="0.925" stop-opacity="0.35"/><stop offset="0.938" stop-opacity="0.32"/><stop offset="0.952" stop-opacity="0.27"/><stop offset="0.966" stop-opacity="0.44"/><stop offset="0.979" stop-opacity="0.30"/><stop offset="0.993" stop-opacity="0.14"/></linearGradient><linearGradient id="g46" gradientUnits="userSpaceOnUse" x1="0" y1="279" x2="0" y2="344"><stop offset="0.008" stop-opacity="0.03"/><stop offset="0.023" stop-opacity="0.07"/><stop offset="0.038" stop-opacity="0.10"/><stop offset="0.054" stop-opacity="0.14"/><stop offset="0.069" stop-opacity="0.18"/><stop offset="0.085" stop-opacity="0.20"/><stop offset="0.100" stop-opacity="0.24"/><stop offset="0.115" stop-opacity="0.26"/><stop offset="0.285" stop-opacity="0.30"/><stop offset="0.300" stop-opacity="0.30"/><stop offset="0.315" stop-opacity="0.36"/><stop offset="0.331" stop-opacity="0.39"/><stop offset="0.346" stop-opacity="0.44"/><stop offset="0.362" stop-opacity="0.49"/><stop offset="0.377" stop-opacity="0.53"/><stop offset="0.392" stop-opacity="0.56"/><stop offset="0.408" stop-opacity="0.60"/><stop offset="0.423" stop-opacity="0.64"/><stop offset="0.454" stop-opacity="0.68"/><stop offset="0.469" stop-opacity="0.70"/><stop offset="0.531" stop-opacity="0.74"/><stop offset="0.546" stop-opacity="0.76"/><stop offset="0.592" stop-opacity="0.79"/><stop offset="0.608" stop-opacity="0.80"/><stop offset="0.731" stop-opacity="0.77"/><stop offset="0.746" stop-opacity="0.75"/><stop offset="0.762" stop-opacity="0.73"/><stop offset="0.777" stop-opacity="0.70"/><stop offset="0.808" stop-opacity="0.67"/><stop offset="0.823" stop-opacity="0.66"/><stop offset="0.869" stop-opacity="0.63"/><stop offset="0.885" stop-opacity="0.61"/><stop offset="0.900" stop-opacity="0.57"/><stop offset="0.915" stop-opacity="0.54"/><stop offset="0.931" stop-opacity="0.50"/><stop offset="0.946" stop-opacity="0.67"/><stop offset="0.962" stop-opacity="0.55"/><stop offset="0.977" stop-opacity="0.40"/><stop offset="0.992" stop-opacity="0.22"/></linearGradient><linearGradient id="g47" gradientUnits="userSpaceOnUse" x1="0" y1="292" x2="0" y2="339"><stop offset="0.011" stop-opacity="0.08"/><stop offset="0.032" stop-opacity="0.18"/><stop offset="0.053" stop-opacity="0.27"/><stop offset="0.074" stop-opacity="0.36"/><stop offset="0.096" stop-opacity="0.40"/><stop offset="0.117" stop-opacity="0.45"/><stop offset="0.138" stop-opacity="0.49"/><stop offset="0.202" stop-opacity="0.53"/><stop offset="0.223" stop-opacity="0.54"/><stop offset="0.245" stop-opacity="0.56"/><stop offset="0.266" stop-opacity="0.60"/><stop offset="0.287" stop-opacity="0.65"/><stop offset="0.309" stop-opacity="0.69"/><stop offset="0.330" stop-opacity="0.74"/><stop offset="0.351" stop-opacity="0.79"/><stop offset="0.372" stop-opacity="0.82"/><stop offset="0.394" stop-opacity="0.86"/><stop offset="0.436" stop-opacity="0.90"/><stop offset="0.457" stop-opacity="0.91"/><stop offset="0.628" stop-opacity="0.88"/><stop offset="0.649" stop-opacity="0.87"/><stop offset="0.670" stop-opacity="0.84"/><stop offset="0.691" stop-opacity="0.82"/><stop offset="0.713" stop-opacity="0.78"/><stop offset="0.734" stop-opacity="0.75"/><stop offset="0.755" stop-opacity="0.72"/><stop offset="0.777" stop-opacity="0.70"/><stop offset="0.798" stop-opacity="0.68"/><stop offset="0.819" stop-opacity="0.66"/><stop offset="0.840" stop-opacity="0.64"/><stop offset="0.862" stop-opacity="0.59"/><stop offset="0.883" stop-opacity="0.56"/><stop offset="0.904" stop-opacity="0.50"/><stop offset="0.926" stop-opacity="0.65"/><stop offset="0.947" stop-opacity="0.52"/><stop offset="0.968" stop-opacity="0.37"/><stop offset="0.989" stop-opacity="0.17"/></linearGradient><linearGradient id="g48" gradientUnits="userSpaceOnUse" x1="0" y1="293" x2="0" y2="338"><stop offset="0.011" stop-opacity="0.08"/><stop offset="0.033" stop-opacity="0.20"/><stop offset="0.056" stop-opacity="0.30"/><stop offset="0.078" stop-opacity="0.40"/><stop offset="0.100" stop-opacity="0.46"/><stop offset="0.122" stop-opacity="0.52"/><stop offset="0.144" stop-opacity="0.55"/><stop offset="0.167" stop-opacity="0.57"/><stop offset="0.211" stop-opacity="0.60"/><stop offset="0.233" stop-opacity="0.64"/><stop offset="0.256" stop-opacity="0.68"/><stop offset="0.278" stop-opacity="0.72"/><stop offset="0.300" stop-opacity="0.78"/><stop offset="0.322" stop-opacity="0.83"/><stop offset="0.344" stop-opacity="0.87"/><stop offset="0.367" stop-opacity="0.90"/><stop offset="0.411" stop-opacity="0.94"/><stop offset="0.433" stop-opacity="0.95"/><stop offset="0.567" stop-opacity="0.92"/><stop offset="0.589" stop-opacity="0.90"/><stop offset="0.611" stop-opacity="0.88"/><stop offset="0.633" stop-opacity="0.84"/><stop offset="0.656" stop-opacity="0.81"/><stop offset="0.678" stop-opacity="0.76"/><stop offset="0.700" stop-opacity="0.71"/><stop offset="0.722" stop-opacity="0.69"/><stop offset="0.744" stop-opacity="0.66"/><stop offset="0.789" stop-opacity="0.62"/><stop offset="0.811" stop-opacity="0.61"/><stop offset="0.833" stop-opacity="0.58"/><stop offset="0.856" stop-opacity="0.54"/><stop offset="0.878" stop-opacity="0.50"/><stop offset="0.900" stop-opacity="0.44"/><stop offset="0.922" stop-opacity="0.59"/><stop offset="0.944" stop-opacity="0.46"/><stop offset="0.967" stop-opacity="0.29"/><stop offset="0.989" stop-opacity="0.10"/></linearGradient><linearGradient id="g49" gradientUnits="userSpaceOnUse" x1="0" y1="604" x2="0" y2="621"><stop offset="0.029" stop-opacity="0.14"/><stop offset="0.088" stop-opacity="0.36"/><stop offset="0.147" stop-opacity="0.57"/><stop offset="0.206" stop-opacity="0.75"/><stop offset="0.265" stop-opacity="0.87"/><stop offset="0.324" stop-opacity="0.94"/><stop offset="0.382" stop-opacity="0.98"/><stop offset="0.441" stop-opacity="0.99"/><stop offset="0.971" stop-opacity="1.00"/></linearGradient><linearGradient id="g50" gradientUnits="userSpaceOnUse" x1="0" y1="602" x2="0" y2="621"><stop offset="0.026" stop-opacity="0.14"/><stop offset="0.079" stop-opacity="0.34"/><stop offset="0.132" stop-opacity="0.52"/><stop offset="0.184" stop-opacity="0.70"/><stop offset="0.237" stop-opacity="0.82"/><stop offset="0.289" stop-opacity="0.89"/><stop offset="0.342" stop-opacity="0.94"/><stop offset="0.395" stop-opacity="0.97"/><stop offset="0.447" stop-opacity="0.99"/><stop offset="0.974" stop-opacity="1.00"/></linearGradient><linearGradient id="g51" gradientUnits="userSpaceOnUse" x1="0" y1="601" x2="0" y2="621"><stop offset="0.025" stop-opacity="0.02"/><stop offset="0.075" stop-opacity="0.23"/><stop offset="0.125" stop-opacity="0.44"/><stop offset="0.175" stop-opacity="0.65"/><stop offset="0.225" stop-opacity="0.79"/><stop offset="0.275" stop-opacity="0.89"/><stop offset="0.325" stop-opacity="0.95"/><stop offset="0.375" stop-opacity="0.97"/><stop offset="0.425" stop-opacity="0.99"/><stop offset="0.975" stop-opacity="1.00"/></linearGradient><linearGradient id="g52" gradientUnits="userSpaceOnUse" x1="0" y1="593" x2="0" y2="621"><stop offset="0.018" stop-opacity="0.10"/><stop offset="0.054" stop-opacity="0.21"/><stop offset="0.089" stop-opacity="0.35"/><stop offset="0.125" stop-opacity="0.46"/><stop offset="0.161" stop-opacity="0.52"/><stop offset="0.196" stop-opacity="0.61"/><stop offset="0.232" stop-opacity="0.65"/><stop offset="0.268" stop-opacity="0.67"/><stop offset="0.304" stop-opacity="0.70"/><stop offset="0.411" stop-opacity="0.73"/><stop offset="0.446" stop-opacity="0.76"/><stop offset="0.482" stop-opacity="0.81"/><stop offset="0.518" stop-opacity="0.87"/><stop offset="0.554" stop-opacity="0.93"/><stop offset="0.589" stop-opacity="0.97"/><stop offset="0.625" stop-opacity="0.99"/><stop offset="0.982" stop-opacity="1.00"/></linearGradient><linearGradient id="g53" gradientUnits="userSpaceOnUse" x1="0" y1="547" x2="0" y2="621"><stop offset="0.007" stop-opacity="0.06"/><stop offset="0.020" stop-opacity="0.09"/><stop offset="0.034" stop-opacity="0.12"/><stop offset="0.047" stop-opacity="0.14"/><stop offset="0.061" stop-opacity="0.17"/><stop offset="0.101" stop-opacity="0.20"/><stop offset="0.115" stop-opacity="0.21"/><stop offset="0.385" stop-opacity="0.25"/><stop offset="0.399" stop-opacity="0.28"/><stop offset="0.453" stop-opacity="0.32"/><stop offset="0.466" stop-opacity="0.33"/><stop offset="0.669" stop-opacity="0.37"/><stop offset="0.682" stop-opacity="0.37"/><stop offset="0.696" stop-opacity="0.38"/><stop offset="0.709" stop-opacity="0.41"/><stop offset="0.736" stop-opacity="0.45"/><stop offset="0.750" stop-opacity="0.47"/><stop offset="0.818" stop-opacity="0.51"/><stop offset="0.831" stop-opacity="0.52"/><stop offset="0.885" stop-opacity="0.49"/><stop offset="0.899" stop-opacity="0.48"/><stop offset="0.912" stop-opacity="0.45"/><stop offset="0.926" stop-opacity="0.42"/><stop offset="0.939" stop-opacity="0.37"/><stop offset="0.953" stop-opacity="0.55"/><stop offset="0.966" stop-opacity="0.41"/><stop offset="0.980" stop-opacity="0.26"/><stop offset="0.993" stop-opacity="0.08"/></linearGradient><linearGradient id="g54" gradientUnits="userSpaceOnUse" x1="0" y1="539" x2="0" y2="619"><stop offset="0.006" stop-opacity="0.05"/><stop offset="0.019" stop-opacity="0.08"/><stop offset="0.031" stop-opacity="0.11"/><stop offset="0.044" stop-opacity="0.14"/><stop offset="0.056" stop-opacity="0.15"/><stop offset="0.094" stop-opacity="0.17"/><stop offset="0.106" stop-opacity="0.19"/><stop offset="0.356" stop-opacity="0.22"/><stop offset="0.369" stop-opacity="0.24"/><stop offset="0.381" stop-opacity="0.25"/><stop offset="0.394" stop-opacity="0.30"/><stop offset="0.469" stop-opacity="0.33"/><stop offset="0.481" stop-opacity="0.34"/><stop offset="0.919" stop-opacity="0.31"/><stop offset="0.931" stop-opacity="0.30"/><stop offset="0.944" stop-opacity="0.26"/><stop offset="0.956" stop-opacity="0.21"/><stop offset="0.969" stop-opacity="0.38"/><stop offset="0.981" stop-opacity="0.23"/><stop offset="0.994" stop-opacity="0.07"/></linearGradient><linearGradient id="g55" gradientUnits="userSpaceOnUse" x1="0" y1="502" x2="0" y2="566"><stop offset="0.008" stop-opacity="0.04"/><stop offset="0.023" stop-opacity="0.07"/><stop offset="0.039" stop-opacity="0.11"/><stop offset="0.070" stop-opacity="0.14"/><stop offset="0.086" stop-opacity="0.18"/><stop offset="0.117" stop-opacity="0.22"/><stop offset="0.133" stop-opacity="0.23"/><stop offset="0.539" stop-opacity="0.19"/><stop offset="0.555" stop-opacity="0.17"/><stop offset="0.914" stop-opacity="0.14"/><stop offset="0.930" stop-opacity="0.11"/><stop offset="0.961" stop-opacity="0.08"/><stop offset="0.977" stop-opacity="0.06"/><stop offset="0.992" stop-opacity="0.05"/></linearGradient><linearGradient id="g56" gradientUnits="userSpaceOnUse" x1="0" y1="487" x2="0" y2="549"><stop offset="0.008" stop-opacity="0.04"/><stop offset="0.024" stop-opacity="0.09"/><stop offset="0.040" stop-opacity="0.11"/><stop offset="0.056" stop-opacity="0.13"/><stop offset="0.089" stop-opacity="0.17"/><stop offset="0.105" stop-opacity="0.21"/><stop offset="0.169" stop-opacity="0.25"/><stop offset="0.185" stop-opacity="0.25"/><stop offset="0.460" stop-opacity="0.22"/><stop offset="0.476" stop-opacity="0.21"/><stop offset="0.589" stop-opacity="0.18"/><stop offset="0.605" stop-opacity="0.17"/><stop offset="0.960" stop-opacity="0.13"/><stop offset="0.976" stop-opacity="0.08"/><stop offset="0.992" stop-opacity="0.05"/></linearGradient><linearGradient id="g57" gradientUnits="userSpaceOnUse" x1="0" y1="796" x2="0" y2="900"><stop offset="0.005" stop-opacity="0.03"/><stop offset="0.014" stop-opacity="0.05"/><stop offset="0.024" stop-opacity="0.08"/><stop offset="0.034" stop-opacity="0.13"/><stop offset="0.043" stop-opacity="0.18"/><stop offset="0.053" stop-opacity="0.26"/><stop offset="0.062" stop-opacity="0.30"/><stop offset="0.072" stop-opacity="0.35"/><stop offset="0.082" stop-opacity="0.39"/><stop offset="0.091" stop-opacity="0.41"/><stop offset="0.101" stop-opacity="0.45"/><stop offset="0.120" stop-opacity="0.48"/><stop offset="0.130" stop-opacity="0.49"/><stop offset="0.332" stop-opacity="0.53"/><stop offset="0.341" stop-opacity="0.54"/><stop offset="0.351" stop-opacity="0.57"/><stop offset="0.361" stop-opacity="0.60"/><stop offset="0.457" stop-opacity="0.63"/><stop offset="0.466" stop-opacity="0.64"/><stop offset="0.543" stop-opacity="0.60"/><stop offset="0.553" stop-opacity="0.59"/><stop offset="0.562" stop-opacity="0.55"/><stop offset="0.572" stop-opacity="0.53"/><stop offset="0.582" stop-opacity="0.51"/><stop offset="0.591" stop-opacity="0.47"/><stop offset="0.601" stop-opacity="0.45"/><stop offset="0.611" stop-opacity="0.41"/><stop offset="0.620" stop-opacity="0.37"/><stop offset="0.630" stop-opacity="0.35"/><stop offset="0.639" stop-opacity="0.32"/><stop offset="0.649" stop-opacity="0.30"/><stop offset="0.938" stop-opacity="0.26"/><stop offset="0.947" stop-opacity="0.25"/><stop offset="0.957" stop-opacity="0.23"/><stop offset="0.966" stop-opacity="0.18"/><stop offset="0.976" stop-opacity="0.38"/><stop offset="0.986" stop-opacity="0.25"/><stop offset="0.995" stop-opacity="0.11"/></linearGradient><linearGradient id="g58" gradientUnits="userSpaceOnUse" x1="0" y1="825" x2="0" y2="904"><stop offset="0.006" stop-opacity="0.11"/><stop offset="0.019" stop-opacity="0.27"/><stop offset="0.032" stop-opacity="0.38"/><stop offset="0.044" stop-opacity="0.52"/><stop offset="0.057" stop-opacity="0.62"/><stop offset="0.070" stop-opacity="0.69"/><stop offset="0.082" stop-opacity="0.75"/><stop offset="0.095" stop-opacity="0.77"/><stop offset="0.108" stop-opacity="0.80"/><stop offset="0.184" stop-opacity="0.82"/><stop offset="0.196" stop-opacity="0.84"/><stop offset="0.247" stop-opacity="0.88"/><stop offset="0.259" stop-opacity="0.88"/><stop offset="0.411" stop-opacity="0.92"/><stop offset="0.424" stop-opacity="0.92"/><stop offset="0.576" stop-opacity="0.89"/><stop offset="0.589" stop-opacity="0.88"/><stop offset="0.614" stop-opacity="0.84"/><stop offset="0.627" stop-opacity="0.80"/><stop offset="0.639" stop-opacity="0.77"/><stop offset="0.652" stop-opacity="0.74"/><stop offset="0.665" stop-opacity="0.71"/><stop offset="0.677" stop-opacity="0.69"/><stop offset="0.690" stop-opacity="0.66"/><stop offset="0.703" stop-opacity="0.63"/><stop offset="0.905" stop-opacity="0.61"/><stop offset="0.918" stop-opacity="0.58"/><stop offset="0.930" stop-opacity="0.55"/><stop offset="0.943" stop-opacity="0.52"/><stop offset="0.956" stop-opacity="0.69"/><stop offset="0.968" stop-opacity="0.57"/><stop offset="0.981" stop-opacity="0.42"/><stop offset="0.994" stop-opacity="0.25"/></linearGradient><linearGradient id="g59" gradientUnits="userSpaceOnUse" x1="0" y1="856" x2="0" y2="901"><stop offset="0.011" stop-opacity="0.12"/><stop offset="0.033" stop-opacity="0.32"/><stop offset="0.056" stop-opacity="0.49"/><stop offset="0.078" stop-opacity="0.65"/><stop offset="0.100" stop-opacity="0.79"/><stop offset="0.122" stop-opacity="0.87"/><stop offset="0.144" stop-opacity="0.92"/><stop offset="0.167" stop-opacity="0.95"/><stop offset="0.189" stop-opacity="0.97"/><stop offset="0.700" stop-opacity="0.93"/><stop offset="0.722" stop-opacity="0.92"/><stop offset="0.833" stop-opacity="0.89"/><stop offset="0.856" stop-opacity="0.87"/><stop offset="0.878" stop-opacity="0.85"/><stop offset="0.900" stop-opacity="0.83"/><stop offset="0.922" stop-opacity="0.93"/><stop offset="0.944" stop-opacity="0.88"/><stop offset="0.967" stop-opacity="0.79"/><stop offset="0.989" stop-opacity="0.66"/></linearGradient><linearGradient id="g60" gradientUnits="userSpaceOnUse" x1="0" y1="864" x2="0" y2="901"><stop offset="0.014" stop-opacity="0.08"/><stop offset="0.041" stop-opacity="0.23"/><stop offset="0.068" stop-opacity="0.38"/><stop offset="0.095" stop-opacity="0.50"/><stop offset="0.122" stop-opacity="0.63"/><stop offset="0.149" stop-opacity="0.74"/><stop offset="0.176" stop-opacity="0.82"/><stop offset="0.203" stop-opacity="0.87"/><stop offset="0.230" stop-opacity="0.91"/><stop offset="0.257" stop-opacity="0.93"/><stop offset="0.311" stop-opacity="0.96"/><stop offset="0.338" stop-opacity="0.97"/><stop offset="0.986" stop-opacity="0.91"/></linearGradient><linearGradient id="g61" gradientUnits="userSpaceOnUse" x1="0" y1="825" x2="0" y2="893"><stop offset="0.007" stop-opacity="0.05"/><stop offset="0.022" stop-opacity="0.11"/><stop offset="0.037" stop-opacity="0.18"/><stop offset="0.051" stop-opacity="0.25"/><stop offset="0.066" stop-opacity="0.29"/><stop offset="0.081" stop-opacity="0.35"/><stop offset="0.096" stop-opacity="0.38"/><stop offset="0.110" stop-opacity="0.40"/><stop offset="0.199" stop-opacity="0.43"/><stop offset="0.213" stop-opacity="0.44"/><stop offset="0.257" stop-opacity="0.48"/><stop offset="0.272" stop-opacity="0.49"/><stop offset="0.301" stop-opacity="0.52"/><stop offset="0.316" stop-opacity="0.54"/><stop offset="0.346" stop-opacity="0.57"/><stop offset="0.360" stop-opacity="0.58"/><stop offset="0.463" stop-opacity="0.55"/><stop offset="0.478" stop-opacity="0.50"/><stop offset="0.493" stop-opacity="0.47"/><stop offset="0.507" stop-opacity="0.42"/><stop offset="0.522" stop-opacity="0.37"/><stop offset="0.537" stop-opacity="0.30"/><stop offset="0.551" stop-opacity="0.25"/><stop offset="0.566" stop-opacity="0.19"/><stop offset="0.581" stop-opacity="0.15"/><stop offset="0.596" stop-opacity="0.12"/><stop offset="0.610" stop-opacity="0.10"/><stop offset="0.625" stop-opacity="0.08"/><stop offset="0.919" stop-opacity="0.05"/><stop offset="0.934" stop-opacity="0.03"/><stop offset="0.993" stop-opacity="0.07"/></linearGradient><linearGradient id="g62" gradientUnits="userSpaceOnUse" x1="0" y1="853" x2="0" y2="904"><stop offset="0.010" stop-opacity="0.08"/><stop offset="0.029" stop-opacity="0.20"/><stop offset="0.049" stop-opacity="0.29"/><stop offset="0.069" stop-opacity="0.38"/><stop offset="0.088" stop-opacity="0.45"/><stop offset="0.108" stop-opacity="0.48"/><stop offset="0.127" stop-opacity="0.52"/><stop offset="0.167" stop-opacity="0.55"/><stop offset="0.186" stop-opacity="0.58"/><stop offset="0.206" stop-opacity="0.61"/><stop offset="0.225" stop-opacity="0.65"/><stop offset="0.245" stop-opacity="0.70"/><stop offset="0.265" stop-opacity="0.72"/><stop offset="0.284" stop-opacity="0.76"/><stop offset="0.304" stop-opacity="0.80"/><stop offset="0.324" stop-opacity="0.82"/><stop offset="0.363" stop-opacity="0.85"/><stop offset="0.382" stop-opacity="0.86"/><stop offset="0.539" stop-opacity="0.84"/><stop offset="0.559" stop-opacity="0.82"/><stop offset="0.578" stop-opacity="0.78"/><stop offset="0.598" stop-opacity="0.73"/><stop offset="0.618" stop-opacity="0.69"/><stop offset="0.637" stop-opacity="0.62"/><stop offset="0.657" stop-opacity="0.55"/><stop offset="0.676" stop-opacity="0.51"/><stop offset="0.696" stop-opacity="0.47"/><stop offset="0.716" stop-opacity="0.45"/><stop offset="0.794" stop-opacity="0.43"/><stop offset="0.814" stop-opacity="0.40"/><stop offset="0.853" stop-opacity="0.38"/><stop offset="0.873" stop-opacity="0.35"/><stop offset="0.892" stop-opacity="0.33"/><stop offset="0.912" stop-opacity="0.29"/><stop offset="0.931" stop-opacity="0.50"/><stop offset="0.951" stop-opacity="0.38"/><stop offset="0.971" stop-opacity="0.24"/><stop offset="0.990" stop-opacity="0.07"/></linearGradient><linearGradient id="g63" gradientUnits="userSpaceOnUse" x1="0" y1="872" x2="0" y2="904"><stop offset="0.016" stop-opacity="0.14"/><stop offset="0.047" stop-opacity="0.30"/><stop offset="0.078" stop-opacity="0.46"/><stop offset="0.109" stop-opacity="0.57"/><stop offset="0.141" stop-opacity="0.68"/><stop offset="0.172" stop-opacity="0.74"/><stop offset="0.203" stop-opacity="0.80"/><stop offset="0.234" stop-opacity="0.83"/><stop offset="0.266" stop-opacity="0.87"/><stop offset="0.328" stop-opacity="0.90"/><stop offset="0.359" stop-opacity="0.92"/><stop offset="0.766" stop-opacity="0.89"/><stop offset="0.797" stop-opacity="0.86"/><stop offset="0.828" stop-opacity="0.83"/><stop offset="0.859" stop-opacity="0.79"/><stop offset="0.891" stop-opacity="0.90"/><stop offset="0.922" stop-opacity="0.83"/><stop offset="0.953" stop-opacity="0.72"/><stop offset="0.984" stop-opacity="0.57"/></linearGradient><linearGradient id="g64" gradientUnits="userSpaceOnUse" x1="0" y1="877" x2="0" y2="903"><stop offset="0.019" stop-opacity="0.03"/><stop offset="0.058" stop-opacity="0.15"/><stop offset="0.096" stop-opacity="0.26"/><stop offset="0.135" stop-opacity="0.38"/><stop offset="0.173" stop-opacity="0.48"/><stop offset="0.212" stop-opacity="0.55"/><stop offset="0.250" stop-opacity="0.62"/><stop offset="0.288" stop-opacity="0.67"/><stop offset="0.327" stop-opacity="0.72"/><stop offset="0.365" stop-opacity="0.78"/><stop offset="0.404" stop-opacity="0.84"/><stop offset="0.442" stop-opacity="0.89"/><stop offset="0.481" stop-opacity="0.93"/><stop offset="0.519" stop-opacity="0.95"/><stop offset="0.635" stop-opacity="0.98"/><stop offset="0.673" stop-opacity="0.99"/><stop offset="0.981" stop-opacity="0.91"/></linearGradient><linearGradient id="g65" gradientUnits="userSpaceOnUse" x1="0" y1="1172" x2="0" y2="1190"><stop offset="0.028" stop-opacity="0.30"/><stop offset="0.083" stop-opacity="0.63"/><stop offset="0.139" stop-opacity="0.87"/><stop offset="0.194" stop-opacity="0.97"/><stop offset="0.972" stop-opacity="1.00"/></linearGradient><linearGradient id="g66" gradientUnits="userSpaceOnUse" x1="0" y1="1137" x2="0" y2="1189"><stop offset="0.010" stop-opacity="0.08"/><stop offset="0.029" stop-opacity="0.17"/><stop offset="0.048" stop-opacity="0.26"/><stop offset="0.067" stop-opacity="0.38"/><stop offset="0.087" stop-opacity="0.43"/><stop offset="0.106" stop-opacity="0.53"/><stop offset="0.125" stop-opacity="0.61"/><stop offset="0.144" stop-opacity="0.64"/><stop offset="0.163" stop-opacity="0.71"/><stop offset="0.202" stop-opacity="0.73"/><stop offset="0.221" stop-opacity="0.75"/><stop offset="0.337" stop-opacity="0.78"/><stop offset="0.356" stop-opacity="0.81"/><stop offset="0.375" stop-opacity="0.84"/><stop offset="0.394" stop-opacity="0.87"/><stop offset="0.413" stop-opacity="0.89"/><stop offset="0.433" stop-opacity="0.92"/><stop offset="0.471" stop-opacity="0.96"/><stop offset="0.490" stop-opacity="0.97"/><stop offset="0.952" stop-opacity="0.96"/><stop offset="0.971" stop-opacity="0.91"/><stop offset="0.990" stop-opacity="0.81"/></linearGradient><linearGradient id="g67" gradientUnits="userSpaceOnUse" x1="0" y1="1109" x2="0" y2="1188"><stop offset="0.006" stop-opacity="0.09"/><stop offset="0.019" stop-opacity="0.20"/><stop offset="0.032" stop-opacity="0.27"/><stop offset="0.044" stop-opacity="0.36"/><stop offset="0.057" stop-opacity="0.42"/><stop offset="0.070" stop-opacity="0.47"/><stop offset="0.082" stop-opacity="0.52"/><stop offset="0.108" stop-opacity="0.56"/><stop offset="0.120" stop-opacity="0.57"/><stop offset="0.272" stop-opacity="0.59"/><stop offset="0.285" stop-opacity="0.61"/><stop offset="0.297" stop-opacity="0.66"/><stop offset="0.310" stop-opacity="0.68"/><stop offset="0.323" stop-opacity="0.72"/><stop offset="0.335" stop-opacity="0.76"/><stop offset="0.348" stop-opacity="0.79"/><stop offset="0.361" stop-opacity="0.83"/><stop offset="0.373" stop-opacity="0.86"/><stop offset="0.386" stop-opacity="0.88"/><stop offset="0.411" stop-opacity="0.91"/><stop offset="0.424" stop-opacity="0.92"/><stop offset="0.690" stop-opacity="0.89"/><stop offset="0.703" stop-opacity="0.87"/><stop offset="0.715" stop-opacity="0.85"/><stop offset="0.728" stop-opacity="0.83"/><stop offset="0.753" stop-opacity="0.79"/><stop offset="0.766" stop-opacity="0.77"/><stop offset="0.892" stop-opacity="0.74"/><stop offset="0.905" stop-opacity="0.71"/><stop offset="0.918" stop-opacity="0.71"/><stop offset="0.930" stop-opacity="0.67"/><stop offset="0.943" stop-opacity="0.61"/><stop offset="0.956" stop-opacity="0.75"/><stop offset="0.968" stop-opacity="0.62"/><stop offset="0.981" stop-opacity="0.45"/><stop offset="0.994" stop-opacity="0.27"/></linearGradient><linearGradient id="g68" gradientUnits="userSpaceOnUse" x1="0" y1="1065" x2="0" y2="1185"><stop offset="0.004" stop-opacity="0.05"/><stop offset="0.013" stop-opacity="0.12"/><stop offset="0.021" stop-opacity="0.15"/><stop offset="0.029" stop-opacity="0.18"/><stop offset="0.054" stop-opacity="0.22"/><stop offset="0.062" stop-opacity="0.22"/><stop offset="0.071" stop-opacity="0.25"/><stop offset="0.079" stop-opacity="0.27"/><stop offset="0.121" stop-opacity="0.25"/><stop offset="0.129" stop-opacity="0.23"/><stop offset="0.296" stop-opacity="0.25"/><stop offset="0.304" stop-opacity="0.30"/><stop offset="0.338" stop-opacity="0.31"/><stop offset="0.346" stop-opacity="0.37"/><stop offset="0.354" stop-opacity="0.45"/><stop offset="0.362" stop-opacity="0.53"/><stop offset="0.371" stop-opacity="0.58"/><stop offset="0.379" stop-opacity="0.63"/><stop offset="0.388" stop-opacity="0.67"/><stop offset="0.396" stop-opacity="0.71"/><stop offset="0.404" stop-opacity="0.75"/><stop offset="0.412" stop-opacity="0.78"/><stop offset="0.421" stop-opacity="0.80"/><stop offset="0.529" stop-opacity="0.83"/><stop offset="0.537" stop-opacity="0.84"/><stop offset="0.671" stop-opacity="0.82"/><stop offset="0.679" stop-opacity="0.80"/><stop offset="0.688" stop-opacity="0.78"/><stop offset="0.696" stop-opacity="0.75"/><stop offset="0.704" stop-opacity="0.72"/><stop offset="0.713" stop-opacity="0.69"/><stop offset="0.721" stop-opacity="0.64"/><stop offset="0.729" stop-opacity="0.62"/><stop offset="0.738" stop-opacity="0.58"/><stop offset="0.754" stop-opacity="0.55"/><stop offset="0.762" stop-opacity="0.53"/><stop offset="0.938" stop-opacity="0.49"/><stop offset="0.946" stop-opacity="0.48"/><stop offset="0.954" stop-opacity="0.45"/><stop offset="0.963" stop-opacity="0.39"/><stop offset="0.971" stop-opacity="0.54"/><stop offset="0.979" stop-opacity="0.40"/><stop offset="0.988" stop-opacity="0.23"/><stop offset="0.996" stop-opacity="0.07"/></linearGradient><linearGradient id="g69" gradientUnits="userSpaceOnUse" x1="0" y1="1173" x2="0" y2="1189"><stop offset="0.031" stop-opacity="0.11"/><stop offset="0.094" stop-opacity="0.42"/><stop offset="0.156" stop-opacity="0.71"/><stop offset="0.219" stop-opacity="0.88"/><stop offset="0.281" stop-opacity="0.96"/><stop offset="0.469" stop-opacity="1.00"/><stop offset="0.531" stop-opacity="1.00"/><stop offset="0.969" stop-opacity="0.95"/></linearGradient><linearGradient id="g70" gradientUnits="userSpaceOnUse" x1="0" y1="1160" x2="0" y2="1189"><stop offset="0.017" stop-opacity="0.11"/><stop offset="0.052" stop-opacity="0.23"/><stop offset="0.086" stop-opacity="0.38"/><stop offset="0.121" stop-opacity="0.52"/><stop offset="0.155" stop-opacity="0.63"/><stop offset="0.190" stop-opacity="0.72"/><stop offset="0.224" stop-opacity="0.79"/><stop offset="0.259" stop-opacity="0.85"/><stop offset="0.293" stop-opacity="0.89"/><stop offset="0.328" stop-opacity="0.92"/><stop offset="0.362" stop-opacity="0.94"/><stop offset="0.776" stop-opacity="0.91"/><stop offset="0.810" stop-opacity="0.89"/><stop offset="0.845" stop-opacity="0.84"/><stop offset="0.879" stop-opacity="0.93"/><stop offset="0.914" stop-opacity="0.86"/><stop offset="0.948" stop-opacity="0.75"/><stop offset="0.983" stop-opacity="0.60"/></linearGradient><linearGradient id="g71" gradientUnits="userSpaceOnUse" x1="0" y1="1150" x2="0" y2="1183"><stop offset="0.015" stop-opacity="0.08"/><stop offset="0.045" stop-opacity="0.24"/><stop offset="0.076" stop-opacity="0.38"/><stop offset="0.106" stop-opacity="0.49"/><stop offset="0.136" stop-opacity="0.58"/><stop offset="0.167" stop-opacity="0.66"/><stop offset="0.197" stop-opacity="0.70"/><stop offset="0.227" stop-opacity="0.75"/><stop offset="0.258" stop-opacity="0.80"/><stop offset="0.288" stop-opacity="0.84"/><stop offset="0.318" stop-opacity="0.87"/><stop offset="0.348" stop-opacity="0.90"/><stop offset="0.409" stop-opacity="0.93"/><stop offset="0.439" stop-opacity="0.94"/><stop offset="0.712" stop-opacity="0.91"/><stop offset="0.742" stop-opacity="0.90"/><stop offset="0.773" stop-opacity="0.88"/><stop offset="0.803" stop-opacity="0.85"/><stop offset="0.833" stop-opacity="0.82"/><stop offset="0.864" stop-opacity="0.78"/><stop offset="0.894" stop-opacity="0.90"/><stop offset="0.924" stop-opacity="0.82"/><stop offset="0.955" stop-opacity="0.70"/><stop offset="0.985" stop-opacity="0.55"/></linearGradient><linearGradient id="g72" gradientUnits="userSpaceOnUse" x1="0" y1="1116" x2="0" y2="1182"><stop offset="0.008" stop-opacity="0.05"/><stop offset="0.023" stop-opacity="0.08"/><stop offset="0.038" stop-opacity="0.11"/><stop offset="0.220" stop-opacity="0.12"/><stop offset="0.235" stop-opacity="0.15"/><stop offset="0.265" stop-opacity="0.19"/><stop offset="0.280" stop-opacity="0.23"/><stop offset="0.295" stop-opacity="0.24"/><stop offset="0.311" stop-opacity="0.28"/><stop offset="0.326" stop-opacity="0.32"/><stop offset="0.341" stop-opacity="0.35"/><stop offset="0.356" stop-opacity="0.39"/><stop offset="0.371" stop-opacity="0.41"/><stop offset="0.386" stop-opacity="0.45"/><stop offset="0.402" stop-opacity="0.48"/><stop offset="0.432" stop-opacity="0.52"/><stop offset="0.447" stop-opacity="0.53"/><stop offset="0.508" stop-opacity="0.56"/><stop offset="0.523" stop-opacity="0.58"/><stop offset="0.538" stop-opacity="0.60"/><stop offset="0.553" stop-opacity="0.63"/><stop offset="0.568" stop-opacity="0.66"/><stop offset="0.583" stop-opacity="0.69"/><stop offset="0.614" stop-opacity="0.73"/><stop offset="0.629" stop-opacity="0.74"/><stop offset="0.735" stop-opacity="0.72"/><stop offset="0.750" stop-opacity="0.69"/><stop offset="0.765" stop-opacity="0.66"/><stop offset="0.780" stop-opacity="0.63"/><stop offset="0.795" stop-opacity="0.60"/><stop offset="0.811" stop-opacity="0.59"/><stop offset="0.856" stop-opacity="0.56"/><stop offset="0.871" stop-opacity="0.54"/><stop offset="0.886" stop-opacity="0.53"/><stop offset="0.902" stop-opacity="0.49"/><stop offset="0.917" stop-opacity="0.46"/><stop offset="0.932" stop-opacity="0.42"/><stop offset="0.947" stop-opacity="0.61"/><stop offset="0.962" stop-opacity="0.49"/><stop offset="0.977" stop-opacity="0.35"/><stop offset="0.992" stop-opacity="0.17"/></linearGradient></defs>
<rect x="166.6" y="281" width="27.6" height="63" fill="url(#g1)"/><rect x="257" y="300" width="28.5" height="46" fill="url(#g2)"/><rect x="348.5" y="320" width="27.5" height="26" fill="url(#g3)"/><rect x="439.3" y="325" width="28.1" height="21" fill="url(#g4)"/><rect x="530.7" y="288" width="27.8" height="55" fill="url(#g5)"/><rect x="621.6" y="305" width="27.4" height="40" fill="url(#g6)"/><rect x="712" y="324" width="28.5" height="21" fill="url(#g7)"/><rect x="803.5" y="331" width="28.5" height="14" fill="url(#g8)"/><rect x="167" y="613" width="28.6" height="8" fill="url(#g9)"/><rect x="258.5" y="609" width="28.5" height="13" fill="url(#g10)"/><rect x="349.3" y="591" width="28.4" height="31" fill="url(#g11)"/><rect x="440.6" y="572" width="28.5" height="49" fill="url(#g12)"/><rect x="532" y="611" width="28" height="10" fill="url(#g13)"/><rect x="622.8" y="601" width="27.6" height="20" fill="url(#g14)"/><rect x="713.8" y="516" width="27.7" height="80" fill="url(#g15)"/><rect x="804.8" y="474" width="27.9" height="55" fill="url(#g16)"/><rect x="168.5" y="879" width="28.5" height="18" fill="url(#g17)"/><rect x="259.9" y="875" width="28.4" height="22" fill="url(#g18)"/><rect x="351.2" y="870" width="27.6" height="27" fill="url(#g19)"/><rect x="441.8" y="865" width="27.8" height="32" fill="url(#g20)"/><rect x="533.1" y="855" width="27.4" height="40" fill="url(#g21)"/><rect x="623.9" y="835" width="27.7" height="59" fill="url(#g22)"/><rect x="715" y="783" width="27.4" height="105" fill="url(#g23)"/><rect x="806.5" y="789" width="26.9" height="70" fill="url(#g24)"/><rect x="167.1" y="1035" width="27.1" height="144" fill="url(#g25)"/><rect x="258.5" y="1104" width="27" height="79" fill="url(#g26)"/><rect x="349.3" y="1137" width="27.6" height="43" fill="url(#g27)"/><rect x="439.8" y="1146" width="27.6" height="34" fill="url(#g28)"/><rect x="530.8" y="1104" width="28.1" height="67" fill="url(#g29)"/><rect x="621.8" y="1134" width="27.5" height="47" fill="url(#g30)"/><rect x="713.3" y="1150" width="27.5" height="31" fill="url(#g31)"/><rect x="804.6" y="1159" width="27" height="22" fill="url(#g32)"/><rect x="165.2" y="1429" width="27.6" height="29" fill="url(#g33)"/><rect x="256.3" y="1424" width="27.9" height="34" fill="url(#g34)"/><rect x="347" y="1396" width="28" height="62" fill="url(#g35)"/><rect x="437.9" y="1390" width="28.1" height="68" fill="url(#g36)"/><rect x="529.2" y="1418" width="28.1" height="39" fill="url(#g37)"/><rect x="620" y="1400" width="27.6" height="55" fill="url(#g38)"/><rect x="711" y="1342" width="27" height="56" fill="url(#g39)"/><rect x="802.5" y="1348" width="27.5" height="84" fill="url(#g40)"/><rect x="1048" y="258" width="27.6" height="86" fill="url(#g41)"/><rect x="1140.2" y="281" width="27.6" height="64" fill="url(#g42)"/><rect x="1232" y="289" width="27.7" height="55" fill="url(#g43)"/><rect x="1323.4" y="289" width="27.9" height="55" fill="url(#g44)"/><rect x="1414.7" y="266" width="27.7" height="73" fill="url(#g45)"/><rect x="1507.4" y="279" width="27" height="65" fill="url(#g46)"/><rect x="1598.4" y="292" width="28.6" height="47" fill="url(#g47)"/><rect x="1690" y="293" width="28.5" height="45" fill="url(#g48)"/><rect x="1048" y="604" width="27.6" height="17" fill="url(#g49)"/><rect x="1139.3" y="602" width="28.5" height="19" fill="url(#g50)"/><rect x="1231.5" y="601" width="28.2" height="20" fill="url(#g51)"/><rect x="1323.4" y="593" width="27.9" height="28" fill="url(#g52)"/><rect x="1414.7" y="547" width="27.7" height="74" fill="url(#g53)"/><rect x="1507" y="539" width="27.4" height="80" fill="url(#g54)"/><rect x="1598.4" y="502" width="28.1" height="64" fill="url(#g55)"/><rect x="1690" y="487" width="28" height="62" fill="url(#g56)"/><rect x="1036.9" y="796" width="28.4" height="104" fill="url(#g57)"/><rect x="1130.2" y="825" width="28.7" height="79" fill="url(#g58)"/><rect x="1223.2" y="856" width="29" height="45" fill="url(#g59)"/><rect x="1316.5" y="864" width="29" height="37" fill="url(#g60)"/><rect x="1409.6" y="825" width="29.3" height="68" fill="url(#g61)"/><rect x="1503" y="853" width="28.6" height="51" fill="url(#g62)"/><rect x="1596.6" y="872" width="28.3" height="32" fill="url(#g63)"/><rect x="1690" y="877" width="28.5" height="26" fill="url(#g64)"/><rect x="1036.9" y="1172" width="28.4" height="18" fill="url(#g65)"/><rect x="1130.5" y="1137" width="28.4" height="52" fill="url(#g66)"/><rect x="1223.2" y="1109" width="29" height="79" fill="url(#g67)"/><rect x="1316.5" y="1065" width="28.5" height="120" fill="url(#g68)"/><rect x="1410" y="1173" width="29" height="16" fill="url(#g69)"/><rect x="1503" y="1160" width="28.6" height="29" fill="url(#g70)"/><rect x="1596.6" y="1150" width="28.3" height="33" fill="url(#g71)"/><rect x="1690" y="1116" width="28.5" height="66" fill="url(#g72)"/>
<path class="b" marker-start="url(#mb)" marker-mid="url(#mb)" marker-end="url(#mb)" d="M274 191l-14 1 12 2 5-1-5 5-5 4 2-1-10 3 17 0-11 6-4 5 2 3 0-1 1 0 12 0 0 6 1 1-98 3 5-1 81-1-81 3 96 5 2-2 88 2-202 2 5-1 17 0 92 0 70 1-165 4 2-2 69 1 107 0-180 2 77 1-91 3 4 1 5-2 10 1 1 0 88 1 75 0 3-2 18 0-189 3 2 2 83-2 8 1 71 0 5-1-176 3 2 0 11 0 179 2 1 0-204 3 9-2 13 0 84 2-101 2 7-1 6 1 81 1 92-2-191 3 9 1 8 1 8-1 68 1 99 0 13 0-203 2 97-1 10 1 7 0 68 1 22-2-206 4 13 0 5-1 1 0 5 2 160-1 18 1-199 2 14 1 6-2 67 0 96 2 16-1 2 0-204 3 2-1 21 0 71 2 13-1 98 1-197 2 0 1 13 0 89-1 2 1 72 0 0-1 16 0-197 2 12 1 81 0 10 0 80-1 5 0-190 5 0-2 3 1 1-1 4 0 2 1 7 0 3-1 169 0 91 0 10 0 4 0 70 2-365 2 2-1 3 2 4-1 7 0 1 0 1 1 1-2 6 1 68-1 14 1 1 1 4-1 70 0 2-1 11 0 4 0 91 2 82 0 6-1 6 0 3 1-384 3 10 0 1-1 4 0 6 1 1-1 66 1 14-2 2 0 166 2 14-2 0 0 85 2 4 0 1 0 6 0 6-2-387 3 1 0 11 1 1-1 2 2 4-1 0 1 1 0 71-1 112-1 0 0 75 2 2-1 82 0 1 1 3-1 0 1 2-2 0 1 2 1 0-2 1 1 3-1 4 0 2 2 0 0 2 0 1-2 3 1-388 3 1 1 2-1 7-1 5 0 3 1 0 1 5 0 254 0 10 0 79 0 2-2 1 2 6-1 0 1 1-1 0 1 2 0 5-1 5 1-382 3 0-1 9-1 4 2 4-1 85 0 87 0 3 1 2 0 91-2 2 1 1 1 76 0 0-1 3 0 0 0 16 1-385 3 12-1 1 0 2 1 0-1 1 1 5-2 68 1 1 0 9 0 177 1 1-1 14-1 70 1 6 0 0-1 6 0 3 1 5-1 0 0 1 2 70 0 8-1-464 4 0-1 0 1 5-2 3 0 3 0 2 0 0 2 4-2 3 0 75 0 1 2 2-2 3 0 4 1 0 0 5-1 2 1 4 1 0 0 78-1 0 0 82-1 0 1 5-1 8 1 1-1 8 2 67-1 0-1 0 0 5 0 3 1 6 1 1-1 5 1 73 0 1 0 1-1 15 0 2 1 1-1 2 0-476 4 1-1 6 0 1 1 0-1 1 1 4 0 5 0 0-2 2 0 67 1 1 1 3 0 9 0 1-1 0 1 3-2 3 2 5-1 74 1 15-1 74-1 3 1 1 0 5-1 82 1 6 0 2 1 4 0 0-1 3 0 1-1 1 1 1 1 1-1 71-1 3 1 2 1 8-1-470 3 0 0 2 1 1 0 1 0 3 0 2 0 3 0 1-1 2-1 1 1 2 0 1 0 0 0 1 1 70-2 2 2 1-1 5 0 7 1 1-2 2 1 2 1 3 0 177-2 73 0 5 1 10 0 2-1 5 0 1 0 66 1 6 0 5 1 3-1 2 0 5 1-475 1 0 0 0 1 0 1 0-2 1 0 1 2 2-1 2 1 0-1 3 0 0 1 2-1 2 0 3-1 1 1 3-1 71 1 3 0 3 1 1-1 2 1 2-1 1 0 2-1 95 0 73 2 2-1 10 1 78 0 3 0 2 0 0 0 5 0 1-1 2 0 0-1 2 1 2 0 3 0 1-1 2 2 69-2 1 0 2 0 9 2 4-2 1 0 6 1-477 2 1 2 2-2 0 1 2-1 0 2 0-2 4 0 1 0 2 1 1 1 3-1 1-1 1 1 0 0 1 1 77 0 9 0 2 0 1-2 4 1 73 1 18-1 79-1 4 2 76-1 2 0 3-1 1 0 1 1 3 0 1-1 4 2 0-1 0 0 6-1 72 2 0-2 4 1 3-1 9 1 2 0 1 1 1 0-476 1 3 2 3-1 6 0 1 0 0-1 1 1 7 0 0-1 1 1 2 0 67-1 1 2 3 0 4-2 4 0 5 0 3 2 1-1 75 0 4 0 1 1 1-1 5 0 167 1 4 0 0-2 3 1 12-1 3 0 0 1 67 1 4-2 4 0 3 2 2 0 3-1 6-1 2 1-479 4 1-2 7 2 88 0 0 0 7-2 3 0 1 0 81 1 1 0 9 1 6 0 83 0 7 0 78 0 2-2 6 1 6 1 1-2 1 0 1 2 68 0 2 0 12-2 2 1 4 0 2 0 72 0-538 2 2 0 1 2 76 0 5-2 5 0 2 0 9 2 2 0 1 0 0-1 67 1 1-2 1 1 2 1 12-2 2 2 0 0 75-1 0 0 9 1 6-2 6 1 74-1 4 1 1-1 3 0 1 2 8 0 1 0 66-1 2 0 1-1 1 1 2 1 2 0 9 0 2-1 1 1 73-1 2-1 4 0 8 1 3 0 1 1-566 2 8 0 5 1 10-1 1 0 76 1 4-2 4 1 3-1 0 0 73 0 6 2 4-1 1 1 2-2 5 1 1 0 0 1 1-1 70-1 1 0 8 1 4 0 3 0 2-1 1 0 3 0 68 2 0 0 2-1 3 1 6 0 4-1 2-1 2 1 4-1 2 0 72 2 6-1 4 0 3 0 2 1 1-1 3 0 68-1 6 2 9-2 1 2 1-2 5 2 1 0-563 1 2 0 1 0 0 0 0 0 1 0 4 0 75 1 0 1 2 0 0 0 1-1 4-1 1 1 2 0 1 0 1 1 0 0 8 0 79-1 0 1 2 0 6 0 1-2 4 0 0 0 1 0 68 2 1-1 0 1 2-2 1 0 1 2 16-2 1 1 1-1 69 2 2 0 2-2 1 0 3 1 5 1 3-2 3 1 2 0 2 1 0 0 0-1 2 1 73-1 1 0 2 1 3-2 5 1 2-1 3 2 0-1 75-1 6 2 0-1 8 0 0 1 1-1 2 0 67 1 3 0 2 0 2-1 0 1 5 0-645 1 17 1 3-1 70 0 2 1 2 0 4-1 3 2 1 0 4 0 0 0 6-2 71 0 0 2 5-1 2-1 2 0 2 2 3 0 0-2 2 1 2 1 68-2 2 2 1-1 6 1 0-1 4-1 2 0 6 0 2 1 1 0 0 0 67 1 0 0 8-2 0 0 1 2 6 0 3-2 1 1 2 1 0-1 1 0 69 1 3-1 0 1 1-1 4-1 3 1 0-1 1 1 0-1 2 1 3 1 0-2 0 0 2 0 2 1 4-1 69 0 1 1 0-1 2 2 3 0 6 0 1-2 2 0 1 0 0 1 4-1 71 1 0 1 0-1 5-1 0 2 10-1 5-1 2 1-656 3 2 0 7-1 1 2 2-1 0 1 2-2 2 2 2-1 72-1 15 1 1-1 3 0 1 2 70 0 6-1 0 1 0-1 1-1 1 2 2 0 2 0 3 0 3-2 74 1 0 0 1 1 1-2 3 1 2 1 5-1 3 0 1 0 1 1 1 0 1-1 69-1 2 1 6 1 2-2 10 0 0 0 3 1 0-1 68 1 1 0 1 1 1-1 6-1 0 1 4 0 8 1 1-2 67 2 9-2 2 2 3-1 1 1 0 0 0 0 1-1 1 1 6-2 0 1 1-1 75 1 0 0 0 1 2 0 2-1 12-1-653 4 2-1 7 0 4 2 69-1 5 1 0-2 5 1 1 0 3-1 1 2 6 0 1-2 71 2 2-2 1 2 4-2 1 1 6 1 1-1 3 0 1 0 2-1 2 2 0-1 0 0 0-1 72 1 7-1 6 0 2 1 4 0 0-1 69 1 2 0 1 1 1 0 3-2 2 0 9 0 1 0 1 2 74-2 5 2 2-1 2-1 2 2 1 0 0 0 0-1 3-1 1 0 69 0 2 0 2 2 4-2 0 1 1 0 1 0 2-1 0 0 2 2 1-1 1-1 3 1 0 1 4-1 69 1 3 0 0-1 3 1 5-2 8 0 1 1 0 1 2-1-655 2 8 2 2-1 1 0 1 0 2 1 2-2 0 1 3 1 1 0 0 0 68-1 0 0 1 1 4 0 2 0 1-2 3 2 13-1 66-1 10 1 2-1 1 0 5 2 1 0 0-1 2 1 3-1 76 1 4 0 0 0 4 0 3-2 1 1 4 0 0-1 66 1 0-1 6 1 1-1 0 1 1 0 2-1 9 1 2 0 1 0 2 0 68 1 1-1 4-1 4 2 2-2 2 1 3-1 3 0 2 0 2 2 70 0 2-1 0 1 0-2 1 2 3-2 1 2 0-2 7 1 1-1 2 2 4-1 1-1 68 0 4 0 2 2 8-2 5 2 2 0 0 0-658 1 3 0 3 0 0 0 16 0 0 0 1 0 68 0 3 0 2 1 2-1 10 1 0 0 3 0 2 0 68-1 3 1 3 0 1 0 5 0 3 0 1 0 0 0 1 0 5 0 69 0 2 0 0 0 6 0 1 0 2 0 4 0 6-1 1 0 159 1 2-1 7 1 2 0 6-1 3 0 2 1 73-1 1 0 2 0 2 0 3 0 2 0 2 0 0 0 77 1 1 0 1 0 0 0 1-1 2 1 2-1 1 0 10 1-2 69 6-1-4 5 4-1-8 3 1 0-10 4 6 0 6 0 4-1 1 1 2-2-22 5 1 0 6 0 4-2 6 0-18 4 3 1 1-1 13-1-19 5 8-2 3 0 3 1-14 4 6-1 4-1 2 0 1 2 3-2 1 2 1-2 3 1 4 0-22 2 2 0 6 0 7 1 1 0-15 2 2 1 3 1 5-2 6 2 6-2-21 3 3 2 1-2 3 1 3-1 1 0 2 2 7-2-20 4 13-1 0 1 3 1 1-1 0 1 3 0-19 1 4 0 3 2 6 0-15 3 2-2 2 2 2 0 5 0 2 0 1-1 6 0-22 4 0 0 5-1 1-1 7 1 8 0 1 1-102 1 6 0 4 0 72 0 1 2 3-1 4 0 4 0 3 1 2-2-110 4 2 1 15-1 4 1 72-1 6-1 2 1 4-1 6 1 2 1 0-1-104 3 3-1 78 2 3-1 1-1 7 1 7 1 4-2 1 1 1 1 1-1-116 3 3 0 1 0 2 1 5-1 8-1 5 2-20 3 0 0 16 0 0 0 1-2 69 0 0 1 2-1 3 1 14-1 1 1 1-1 3 0 0 2-111 3 2-1 1 0 7-1 1 1 1 1 0 0 7-2 1 2 67 0 0 0 2-1 6 1 1-2 3 1 1 1 2 0 10-1-115 3 5 1 9-2 1 2 4 0 71 0 4-1 5 0 3-1 3 1 5-1 6 0-117 4 6 1 4-2 4 0 82 0 5 0 1 1 3 0 2 0 2-1 2 2 1-1 0 0 1 0 0-1 3 1-114 2 5 1 84-1 2 2 2-2 1 2 3 0 0-2 1 1 0 1 1 0 1 0 0-2 5 0 7 1 2-1-116 3 1 1 3-1 6 2 2-1 1 0 1 0 10-1 0 2 1-1 66 0 2 1 1-2 6 2 3-2 7 2 4-1 2 1-112 2 4 1 5-1 7 1 71 0 1 0 3 0 6-1 2-1 1 0 7 1 0 1 5-1-116 2 0 0 2 0 1 2 1 0 1-2 3 0 2 0 1 2 2-2 2 2 6-1 0 1 1-2 76 1 5 0 0 1 3 0 6 0-107 1 7 1 79 0 2 0 2-1 2 2 5 0 8-2 0 2 3-2 1 2 1 0-115 2 5 1 5-1 5 0 1 1 7 0 0-2 69 0 0 2 2-2 4 2 3-2 3 2 1-2 2 0 0 1 6 0 3 1-107 1 7 2 7-1 68 1 1-1 4 1 2 0 7-2 1 2 0-1 1-1 4 2 0-2 2 1 3-1-115 5 7-1 2-1 0 2 1 0 3-1 3-1 78 0 3 1 6 0 4 1 2-1 2-1-108 3 6 1 12 1 69-1 2 0 1 1 0-1 12 1 1 0 1-1 2 0 3 0 2-1-113 3 3 1 3-1 2 2 3-2 2 1 3 1 3-1 72 0 1 1 6 0 0-2 3 0 1 2 3-2 0 0 2 2 1 0 3 0 3 0-115 2 0 1 1-2 6 2 5 0 0 0 1 0 0-1 10-1 1 2 68-2 2 2 6 0 6 0 0-1 0 0 2-1 1 1 6 1-111 1 0 1 3-1 4 2 2-1 0-1 5 2 4-1 1-1 0 1 1 0 71 1 1-1 5 1 9-2 0 0 3 1 0 1-110 2 1 1 3-2 9 0 0 2 6-1 1 1 71-1 9 0 0 0 6 1 1-1 1 1 1 0 3 0-375 1 7 2 5-1 256 1 2 0 10-2 0 1 1 0 1 1 71 0 2-2 8 1 1-1 1 2 3 0 2-2 1 2-371 3 4 0 1 0 260-2 1 1 2-1 0 0 1 2 4-1 1 1 6 0 1-2 70 1 2 1 2-1 4 1 2-1 1 1 8-2 2 2 4 0-382 1 2 2 7 0 258-2 2 1 2-1 6 0 1 2 1-2 3 0 1 1 4 1 2-2 69 0 3 2 2 0 5 0 5 0 4 0 3-2-384 5 11-1 278 0 1 0 80-1 15 2-388 1 1 1 14-1 6 0 254 0 8 1 3 0 0 0 2-1 4 0 2 2 3-2 71 2 4-2 1 2 0-2 4 1 2-1 2 2 5 0-387 2 16 0 1 1 257-1 1 0 0 0 3-1 9 0 1 0 7 1 3 1 0-2 69 1 2 0 0 0 1 1 6-2 2 2 10-2-381 4 7 0 259 1 4-1 0 1 1-2 5 2 0-2 0 0 11 2 1-2 1 0 68 1 3 1 7 0 3-1 1-1 10 1 0 1-385 3 4-1 10 0 1-1 260 1 2 0 3-1 2 0 1 1 2-1 6 2 2-1 69 1 1-1 7-1 6 0 10 1-384 3 9-1 261 2 4-1 2 0 0 1 2 0 0-1 9 0 1 0 2-1 2 0 1 2 0-2 71 2 0-1 8-1 8 0 5 1-388 2 12 2 10-1 249 0 1 1 0 0 2-2 2 2 1-2 1 2 3-2 0 2 0-2 1 2 0 0 2-2 4 2 1 0 3 0 3-1 69-1 2 0 4 1 3-1 5 1 3 1 0 0 6-1-465 2 8 0 68 2 276 0 1-2 1 2 0 0 2 0 6-1 1 1 5-1 2 0 1-1 3 0 67 1 14-1 1 1 1 0 3 1 1-2 1 2 3-2-472 4 83 1 6-2 1 1 12 1 4-2 252 0 8 1 5 0 10-1 0 0 69 0 0 2 3 0 4 0 2-1 1 0 0 1 4-1-464 3 6 1 1-1 0-1 2 2 79-1 11-1 6 2 252-1 0-1 0 2 1 0 0-1 1 1 0 0 6-1 3 0 0 0 3 0 5 1 2 0 1-1 72 1 6-1 12 0 0-1 3 0-478 5 8-1 16 0 72-1 11 1 1-1 255 2 1-2 0 0 1 1 2-1 1 2 8-1 3 1 1-1 3 1 2-1 70 0 2 1 18-1 4 1-480 2 4 1 4-1 1 0 102 1 252-1 5 1 2-1 4 1 6 0 2-1 73 1 2 0 0-2 0 2 2 0 3-2 2 1 1 1 13 0 1-1-480 3 7 0 2 1 5-1 8 1 72-1 18 0 256 1 4 0 2-2 1 2 5-1 2 1 0 0 5 0 68 0 6 0 2-1 7-1 8 0-470 5 0 0 7-1 3 0 75-1 5 0 14 0 260 2 1-1 8 0 2 0 2 1 1 0 72 0 3-2 4 0 0 2 8 0 5-2-463 4 6 1 73 0 7 0 1-1 5-1 5 0 3 2 249-2 3 0 1 1 2 0 1 1 2-1 1 1 0 0 3-1 1 1 1-2 0 2 0-2 6 0 0 0 73 2 6 0 5 0 7 0 0-2 3 1-470 4 5-2 1 0 3 2 75 0 6 0 1-2 3 1 0 0 9 0 2 0 0 1 254 0 7-1 4-1 1 1 4 0 0 1 80-2 1 1 5 0 1-1 1 2 1-2 2 0-470 3 6 2 1-2 1 2 7 0 83-1 0-1 2 0 2 1 3-1 2 0 1 0 3 0 248 2 3 0 7 0 0-2 2 2 1-2 1 0 2 1 2 1 76-1 2-1 5 1 3 1 5 0 1 0-468 1 12 0 75 0 9 1 0-1 4 2 10-1 0 1 253-1 5-1 1 0 2 1 0 0 0 0 8 0 3 1 0-2 70 0 3 0 0 2 1 0 8-2 3 2 1 0 1-1 1-1-471 4 9 0 11 1 66 0 3-1 0 0 1 1 2 0 1 0 0 0 7-2 5 2 3-2 251 0 1 2 8 0 1-2 4 1 1 0 1-1 2 1 3 0 70-1 17 0 0 2 1-2 2 2-464 1 6 1 4 0 2-1 68 2 0 0 2 0 10-2 4 0 0 1 3 0 5-1 252 1 3-1 5 1 0 1 7-1 2 0 0 0 2-1 3 1 0-1 69 0 2 1 2-1 1 1 3 1 8-1 0 0-474 2 6 2 0-1 2 0 10 1 1-2 2 1 3 1 69-2 6 1 0 0 5 0 0 0 0 1 0-2 2 2 2-2 1 2 4-2 3 1 248-1 4 2 0-2 2 1 0-1 5 1 0 0 2 0 1 1 1-1 1 1 0-1 1 1 3-2 3 2 70-1 8 0 10 0 4 0-479 2 2 0 15 0 1 0 3 0 1 1 2-1 68 1 1-1 1 0 3 2 2-1 1-1 2 1 5 0 3 1 4-1 252 1 0-2 2 1 1 1-364 3 2 0 5 0 1-1 2 1 4 0 2-1 75-1 3 0 1 0 0 2 2 0 4-2 2 2 1-2 2 1 1-1 2 2 1 0 2 0 248-1 1-1 2 0 5 0 1 2 2-1 5 0 2-1 1 1-379 2 0 1 3 1 4-2 1 1 3-1 1 1 1 0 4 1 70-1 1-1 1 2 1 0 0-1 2 0 6 1 1-2 2 0 1 0 2 0 0 2 0-1 1 1 3-1 2 0 1 0 159-1 2 1 2 1 4-2 11 2 0 0 74-1 3 1 2 0 0-1 2 0-375 4 2-1 3 0 1 1 1 0 0-2 2 2 3 0 2-2 1 1 77 0 5 0 5-1 1 2 3-2 5 0 1 1 4 0 162 1 7 0 6 0 4-2 2 0 74 2 4-1 2 0 2-1 3 1 1 0 0 0 2-1-551 5 76 0 17 0 74-1 3 0 0 0 1-1 1 2 3 0 4 0 2 0 1-2 1 0 3 0 2 0 2 2 68-1 0 1 5-1 2-1 4 0 2 1 10-1 1 1 157 1 3 0 8 0 0 0 3-1 0 0 1-1 5 0 1 1 2 1 1-1 0 0 67 1 6 0 0 0 6 0 6-1 4 0 0 1 2-2-555 5 88 0 14 0 68-2 1 1 2 1 1-1 2-1 0 2 1 0 2-2 9 0 2 0 82 2 0 0 2 0 0-1 3-1 7 2 157 0 2 0 3-2 0 0 3 2 7 0 1-1 4 1 3-2 0 2 0-1 75 0 0 1 1-2 5 2 0-2 3 2 1-2 4 0 3 2-570 2 3 1 1-2 2 1 2 1 0-1 0 0 0 0 1 1 1 0 0-1 1 1 1-2 5 0 0 0 2 2 3 0 0 0 1 0 1 0 68-1 5-1 0 2 2 0 3-1 0-1 3 0 1 1 1 1 1 0 6 0 1 0 73-1 3-1 4 2 4 0 4-2 0 0 2 0 82 2 2-1 1 0 0 1 0-1 2 1 1 0 2 0 2-1 70-1 2 1 1 1 2 0 0-2 4 2 4 0 1 0 0 0 3-2 1 2 2-1 2 0 66 0 5 0 9 0 3 0 1-1 1 0 3 1 0 0 0 0 68 0 2 0 3 0 1 1 1-1 5-1 0 0 4 2 2 0-564 1 0 1 2 0 1-1 1 1 0-1 1 1 0 0 1 0 1-1 1 1 0 0 0-1 1 2 0-1 2-1 0 0 0 0 1 1 0-1 1 0 1 2 0-2 0 0 0 0 1 1 0 0 1-1 1 0 0 0 0 2 1-2 0 0 0 1 1-1 0 0 0 0 1 1 1-1 1 0 0 0 0 1 0-1 1 2 0-1 0-1 1 0 0 0 67 2 1-2 6 1 6 0 1-1 0 2 3-1 1 0 2 0 1 0 1 0 2 0 0 0 1 1 1-2 70 1 8 0 3 1 2-2 0 1 5 0 79 0 5-1 1 1 0 1 74-1 1 0 7 1 1-1 3-1 0 2 3-2 1 0 1 0 4 1 1 1 72 0 5-2 0 2 2-2 12 1 71 1 10-2 1 2 10-1 2 0-570 4 3 0 6-1 2 1 13-2 67 1 1-1 3 0 3 0 3 2 4-2 6 1 1 0 2 1 1-2 0 2 0-2 1 0 66 0 1 2 3-1 3-1 3 2 3 0 0-2 6 2 3-1 70-1 1 0 1 0 1 0 9 2 7-2 75 0 4 2 0-1 1-1 5 2 0-2 5 2 4-1 68-1 3 1 5 0 0-1 5 1 0 1 10-2 68 1 2 0 4 0 3 0 1 0 5 0 1 0 0 0 2 0 3-1 0 0-566 4 1-1 0 1 1 0 3 0 2 0 1 0 3 0 3 0 1 0 2 0 4 0 1 0 69 0 0-1 3 0 0 1 2 0 5-1 2 1 1 0 4 0 0 0 0 0 3 0 2 0 0 0 0-1 71 2 10 0 3 0 4-2 0 2 1 0 71-2 1 0 1 0 0 0 2 0 2 0 1 0 2 0 1 0 3 0 3 0 2 0 1 0 4 0 0 0 72 0 0 0 1 0 0 0 5 0 4 0 0 0 2 0 0 0 1 0 6 0 67 0 3 0 2 0 8 0 1 0 8 0 75 65 3-2 14 1 1 4-21 3-2 3 2-2 10 0 2 0 0 2-5 4 9 1-10 2 3 0 13 2-15 1 1 0 1 2 2 0 3-1-10 2 13 1 2 1-16 2 16 1 2-2-21 4 10 1 10-1-18 3 3 1 10-1-13 3 5 0 13-1-22 3 1 0 13 2-13 1 3 2 3-2 8 1-2 3 2 0 5 1-16 2 1 1 14 0 1 0 1-1 0-1 2 2-23 3 2-2 1 1 2 0 3 1 12-1-20 4 16-2 1 2 7-1-20 3 7 0 1 1 1-2 2 1 0-1 1 1 3 0 2 0 0-1 1 1 2-1-11 5 7-1-16 2 1 2 13-1 2 0 3 1-11 3 5-1 5-1-20 3 11 2 0 0 1 0 4-1 5 1-15 1 4 0 2 0 1 2 5 0-13 1 8 0 5 1 2 1 0-1-14 2 2 2 2 1 0 0 6 0-16 3 3 1 1 1 2 0 6-2 1 2 5-1-101 4 82-2 5 0 1 2 15-1 2-1-104 4 4 0 7-1 1 1 1 0 71 0-95 2 11 1 11 0 72-1 5 2 0-1 2 1 8-2 2 0-101 4 4 1 83-1 0 1 1-1 6 1 3 0 7-2-100 5 0-1 4 1 75-1 3 0 1 1 9 0 4-1 0-1 1 1 4-1 83 2-190 1 3 0 5 1 76 1 0 0 6-2 1 2 3-1 1 1 1-2 0 0 1 1 0 0 4-1 4 1-104 4 2 0 0 0 0-1 10-1 2 2 68 0 10-2 1 2 0-1 10 0 3-1 72 2 7-2 4 0 5 1-204 4 2 0 3 0 2 0 5-1 0 0 5 0 74 1 1-2 5 1 1-1 1 0 3 0 6 1 0-1 2 0 74 0 1 2 1 0-169 1 3 2 1 0 70-2 4 2 7 0 0-2 0 1 3 1 8-2 3 0 82 1 0-1 2 2 2 0 0-1-200 4 4-1 1 0 7 0 2 1 5 0 3 0 74-1 7 0 0 0 0 0 7 0 4-1 67 1 4 1 1-1 0 0 1-1 9 0 0 0 4 2 3 0 0 0 2-2-206 5 4 0 3-2 0 0 4 2 1 0 2-2 5 0 77 1 4 1 2 0 2 0 2-1 3-1 4 1 70-1 1 1 3 0 3 0 0 1 1-1 1 0 5 1 2-2 2 0 2 0-204 5 4-1 2 0 1-1 2 1 2 1 0-2 2 1 5-1 5 2 69 0 6 0 1-2 1 2 2 0 5 0 0-2 0 2 2-1 1 0 0 1 3-1 1 0 1 1 0-1 69-1 3 0 2 0 3 1-190 4 3-2 14 0 0 2 78 0 1-1 1 1 2-2 2 2 2-1 7 0 3 0 72-1 5 0 3 2 1-2 3 1 0-1 0 2 6-1-291 3 89 0 1 1 2-1 0 0 5 1 14-1 66 0 0 1 1-1 5 0 2 1 1-1 6 1 2-1 5 1 2-2 70 2 8 0 7 0 1-2 3 2 3-1-201 4 0 0 19-2 66 2 11 0 9 0 1-1 2-1 1 1 68 0 0 1 12 0 2-2 0 2 7-1 1 0 0 0-283 2 78 1 2-1 3 0 0 2 5-2 4 2 2-2 3 1 1 1 72-2 7 0 2 2 1-2 1 2 1-2 0 1 8 1 77-2 1 0 1 2 5-2 3 0 2 0 1 0 0 1 2-1 1 0 1 1 1 0-207 2 11 1 2 0 3-1 1 2 3 0 3-1 0 1 69 0 2-2 6 0 1 1 3 0 1 1 0-2 2 2 0-2 2 0 0 2 3-2 2 2 2 0 68-1 0 0 6 1 1 0 5 0 2-2 0 2 1-1 1 1 3-2 3 1-291 3 12-1 80 2 2-2 6 1 0 0 7 1 71-1 3 1 4-1 9 1 2-1 0 0 73 1 5-1 2-1 1 1 3-1 5 0 3 0 4 0-281 5 74-2 3 2 3-1 2 0 3-1 0 2 12 0 69-1 5 1 1-2 1 2 1-2 1 2 2 0 3-2 8 0 71 0 10 1 1 0 4-1 6 1-290 4 11 0 76-1 12-1 6 1 0 0 1-1 2 1 72 0 3 1 4 0 2 0 0 0 0 0 2-1 1 1 3 0 5-1 69 0 8 0 5-1-276 4 83-1 8 1 4 1 1-1 5 1 70 0 5 0 3-1 6-1 0 0 1 2 3-1 0-1 3 0 1 1 68 0 2 0 3-1 0 1 6-1 7 1 4-1-196 3 2 0 7 0 0 1 7 1 0 0 67-2 0 0 1 2 2-1 1-1 3 2 9 0 2 0 73 0 4 0 0-2 0 2 8-1 4-1 5 2 1-2 1 1-383 4 1-1 15 0 79 0 10-1 4 2 80 0 3-2 0 1 8-1 0 2 2-2 0 1 67 1 3 0 1-1 4-1 5 0 4 0 5 2 75-2 12 2 5-1 1-1-388 3 181 2 3 0 1 0 0 0 2-2 4 1 11 0 2 1 1-1 68-1 10 1 3-1 1 2 0-2 5 2 2-1 2 1 0 0 69 0 1-2 0 0 2 1 2 0 4-1 3 2 9 0 1-2-383 5 6 0 7 0 5-1 159-1 3 2 0-1 1 0 1-1 1 2 2-2 1 0 1 1 8-1 0 1 1 1 0-2 4 1 2 1 72-1 2 0 6-1 1 0 1 2 3 0 4-2 1 0 1 1 69-1 2 2 1-2 1 0 5 2 0 0 5-2 5 1 0-1 2 1 1 1-380 2 7 0 88-1 86 1 2-1 5 2 1 0 3-1 1-1 1 2 1-2 71 1 5 1 0-1 4-1 3 1 3 1 0-1 1 0 75 0 4-1 5 2 2 0 2 0 4-1 4 1 1-2-456 5 69-1 2 0 12 1 5-1 164 1 0-2 1 2 12 0 0-2 3 0 2 0 1 1 2 0 71 1 3-1 3 1 6-1 6 0 1 1 2-2 1 0 73 2 3 0 10-2 1 0-368 3 8 0 158 1 0-1 5 2 4-2 10 2 1-2 4 0 73 0 0 0 5 0 1 1 5-1 2 0 2 1 1 0 1-1 1 2 70-1 1 0 5-1 0 2 2-2 5 0 0 2 5 0 3 0-457 3 77 0 6-1 2 1 7 0 74 0 1 0 3 0 3 0 4 0 2-1 1 1 73-2 1 1 0 0 1 1 5 0 2-2 82 0 0 0 1 1 2 1 3 0 4-2 5 1 3 1 71 0 4-2 9 2 7-2-541 5 66-1 3 1 15-2 0 1 6-1 74 0 85 0 6 0 1 2 10 0 4-1 76-1 1 2 0 0 4 0 1-1 0 0 4-1 77 2 5 0 1-2 2 1 0-1 2 0 2 0 1 1 4 1 2-1 69 0 1 1 2-1 3 1 1-1 3 1 0 0 7 0-555 3 5-1 4 1 5-1 75 0 1-1 7 2 4 0 0-1 5-1 70 0 9 2 84 0 1-2 1 2 1-1 2 0 1 0 1 0 4 0 4 1 71 0 5-1 4 0 5 1 2-1 1 0 5 1 3 0 69-2 2 2 0-1 8 1 0-1 3 1 1 0 3-1 2-1 72 2 2-1 9 0 1 1 0-2 9 0 1 0-569 4 12 1 1-1 9 0 0 1 69-2 7 1 2 0 0-1 3 0 85 1 9-1 75 0 1 0 0 1 0 1 1-2 11 1 1-1 1 2 0 0 76 0 1-2 0 0 0 0 2 0 3 2 5-2 0 2 2 0 7 0 1-2 73 1 1-1 1 0 3 0 1 0 0 2 3 0 2-2 2 1 0-1 1 2 0-2 4 2 2 0 1-2 68 1 4-1 3 0 1 2 1-1 6 1 4-1-550 4 88-2 77 1 3-1 2 1 2-1 10 1 1 0 2 0 1 0 1-1 1 1 69 0 2 1 3-1 3 1 3-1 1 1 3-2 2 2 1-1 0-1 0 0 3 1 0-1 2 2 68-2 2 0 1 1 3 1 10-1 7 1 71 0 3-2 4 0 6 2 1-2 75 0 4 0 2 0 4 2 4-1 5 0 0 1 1-1 2-1-557 5 1-1 82 0 1 1 7-2 5 0 74 1 1 0 3 0 1-1 0 1 1-1 4 2 0 0 5-2 8 0 1 2 67 0 1-1 1 1 2-1 8-1 5 2 5 0 1-1 0-1 76 1 1-1 0 1 8 0 1 1 5-2 1 0 1 1 67-1 3 1 1 1 4-1 8 0 0 0 1 1 2-2 3 0 1 0 68 2 1-2 3 1 1 1 1-2 2 0 7 0 3 0 1 1 1-1 1 0 0 1 1 0-653 4 86 0 5-1 2-1 3 1 1 1 4-1 85-1 0 0 1 2 0 0 3-2 3 0 74 0 3 2 1 0 2-1 2 0 9 0 74-1 0 2 3-1 3 1 3 0 0-2 3 0 2 2 3-1 3-1 1 0 75 1 1 0 2 0 2-1 1 1 0 1 1 0 3 0 2-1 5 0 68 1 1-1 4-1 2 1 3 0 3 0 1 0 3 0 1-1 1 2 2-1 1 1 1 0 0-2 69 1 2 1 6-2 4 2 2-2 1 2 3 0 5-2-659 4 1 1 7-1 0 1 13 0 70 0 0 0 0-2 5 2 9 0 2 0 0-2 2 1 74 1 4-2 1 1 1 1 0-2 1 2 0-2 1 2 4-2 2 1 1 1 1 0 3 0 70 0 2-2 7 1 2 1 0-1 2 1 1 0 1-2 0 0 3 1 3 1 1-2 0 0 69 0 1 0 1 2 1-1 2 1 0-1 5-1 0 0 2 1 0 1 2-1 6 1 72-1 4 1 1-2 2 2 3-2 8 2 4 0 0 0 70 0 8-1 1 0 2 0 2 1 4-2 3 1 1 1 70 0 1 0 6 0 4 0 1-1 5 1 0-2 2 0-656 4 2-1 3 2 5 0 10 0 68-2 2 1 2 1 5-1 4 1 2-2 2 0 5 0 69 1 5 1 1 0 3-1 6 0 3 0 1-1 2 2 3-1 67 1 0 0 0-1 1 1 10-1 4 1 0-1 1 0 1-1 0 0 2 2 74 0 1 0 2-1 1 1 0 0 4 0 1 0 9-1 70 1 3-1 1 1 5 0 1-1 1-1 3 0 1 2 2 0 1-1 1 1 4 0 70-2 2 0 6 2 4-1 4 0 74 1 1-2 4 0 7 0 0 0 0 1 1 0 2-1 4 1 1 0 1 0-652 3 1-1 3 2 6-1 4 1 3-2 2 1 67-1 1 0 2 1 3-1 0 2 2-2 3 2 1-2 1 2 4-1 7-1 68 2 2 0 1-1 8-1 7 2 1-1 0-1 3 2 80 0 1 0 1 0 0-2 1 1 0 0 1 1 0-2 1 1 4 0 0-1 1 0 68 1 5 1 4-2 2 1 2 1 8 0 71 0 2-2 0 2 4-2 1 1 2 1 6-2 0 0 1 1 1 0 1 0 1 0 2 1 2 0 74-2 4 1 1 0 1 1 5-1 1 0 74-1 11 0 0 2 2-1 4 1 2-1-653 3 5-1 1 2 4-2 0 1 1-1 2 0 4 0 0 1 2 1 0 0 68-1 1 0 5 0 1 0 7 1 4-1 3-1 2 1 73 1 1 0 2-1 2 0 9 0 0-1 80 1 3-1 5 0 5 2 68-1 5 0 0 1 1 0 1-2 9 1 1 0 3 0 71 1 13-2 1 2 3-2 7 2 70 0 0-1 2-1 3 0 4 2 3-1 2 0 4 0 3-1 0 1 69-1 0 0 2 0 3 0 11 0 7 0-645 5 2-2 4 0 69 1 4 0 0-1 1 2 0-2 2 0 1 0 3 1 1 0 2 1 6 0 2 0 3-1 66 1 1-2 0 0 1 2 0-2 1 2 7-2 0 0 1 0 0 1 3 0 2 1 1-1 4 1 2 0 1 0 68-2 0 1 10 1 1-2 1 0 8 1 70 1 3-2 0 0 2 2 3-1 11 1 0-1 1-1 2 1 1 1 71-2 1 0 0 2 2-2 1 0 4 1 1-1 2 0 2 1 1 1 0 0 8 0 67-2 0 0 6 0 3 1 1 0 3-1 3 0 7 2-569 2 3 0 1-1 0 2 2-1 10 1 0-2 1 0 73 0 1 2 1-2 1 0 6 0 2 2 1-1 0 0 7-1 0 2 6 0 67-2 1 1 4-1 4 1 3 0 1 0 2 0 0-1 1 0 0 2 1-2 5 0 67 2 1 0 2 0 5-1 1 0 1-1 5 1 1-1 1 2 0-1 5 0 4-1 67 2 3-1 7 0 3 1 4-2 73 2 0-1 1 0 2-1 0 1 3 1 3-2 1 2 8-2 3 1 3-1 66 1 7 0 2 0 3-1 1 1 4 0 1 0 1-1 0 1 3 0-567 3 2-1 1 0 0 2 5-1 1 0 0 0 8 1 1 0 4-1 69 0 9 1 4-1 10 0 73 0 5-1 10 2 2 0 89-1 3 0 72 0 3 1 5 0 0-1 1 1 4 0 0 0 5-1 1 1 1-1 66 0 5 0 2 0 0 0 1 0 2 0 4-1 4 1 0 0-469 2 4 0 4 0 1 0 0 0 6 0 4 0 69 0 3 0 1 0 1 0 1 0 1 0 11 0 3 0 3 0 67 0 1 0 2 0 0 0 2 0 1 0 0 0 15 0 72 0 1 0 5 0 1 0 2 0 7 0 1 0 0 0 2 0 0 0 3 0"/>
<path class="b" marker-start="url(#mb)" marker-mid="url(#mb)" marker-end="url(#mb)" d="M1144 202l10 0-2 4 6 3 3 6-89 2 79 1 15-2-96 8 80-2-95 3 10 1 7 0 73-1-73 4 75 0-88 4 13-2 92 0 2 2-108 1 1 2 3-1 5-1 3 2 97 0-110 1-7 5 0-2 7 1 4 1 8-1 3 0-15 2 2 2 11-2 85 0-2 5-80 3 69 0 15-1-106 2 4 1 3 0 7 0 84-1-92 4 2 0 7-1 4 1 0 0 80 0-99 2 5 0 1 1 0 1 0 0 2 0 1-1 1 0 2 1 1-1 4 0 5-1 1 2 0 0 76 0-101 2 1 1 9-1 2 0 1 1 6-2 0 2 85-1-103 4 2 0 12-2 2 0 3 0 2 2 3-1-21 4 2-1 2-1 1 1 1 1 0-2 1 1 6 1 1-2 3 0 0 0 0 0 0 1 4 1 88-2-112 4 12 1 0-2 0 1 0-1 1 2 2-2 1 1 83 1-100 2 1 1 0-1 3 1 0-2 1 0 2 1 2 1 5-2 2 2 1-1 3 0 2 1 1-2 0 0 2 1 77 0-101 3 1 0 6 1 3-2 3 0 6 1 78 1-95 3 8-1 3 1 3-2 3 2 1 0 1 0 0-1 72 1 1 0 7 0 0-1 5 0 5 1 1 0 2-2-114 4 1 0 0-1 1 0 17 0 1 1 75-1 3 0 4 0 4 2 3 0 1-2 1 2 1-1 1 0 3 1-115 3 1 0 15 0 78 0 5-1 5 0 1 1 7-2 2 1 0 1 2-2-117 3 5 1 0 0 7 0 2-1 2 2 0 0 2 0 1-1 0 1 78-1 1-1 3 0 5 2 6-2 0 0 1 2 1-1 2 1-112 3 1-2 0 1 1 1 2 0 1 0 3-2 2 1 2-1 3 2 3-2 70 2 3 0 1 0 1-2 2 0 0 0 0 2 2-2 0 1 2 0 3-1 7 1 2 0-115 4 3 0 7-2 11 0 78 1 4-1 0 0 1 1 7-1-94 4 5 1 3 0 68 0 0-1 6-1 3 1 6 1 2-2 5 1 2-1-103 4 7 0 1 1 1-1 74-1 2 0 5 0 3 2 2-1 4 0-100 2 8 2 1 0 1-2 72 1 0 0 4 1 9 0 1-1 6 1 1-2-115 3 1 1 6-1 1 2 1 0 2-1 1 0 3-1 2 0 1 2 4-1 1 0 70 1 6-2 2 1 1-1 1 2 6-1 0-1 3 2-109 3 10 0 3-1 0 0 4 0 76 0 2-1 1 2 6 0 5-2 1 2 1-1 1-1-96 4 1 0 3 1 1-2 82 1 7 0 1 0-112 2 5 0 1 1 5 1 81 0 1 0 1-1 1-1 8 2 11-1-115 4 0-1 3 0 2 0 2 1 0-2 1 0 2 1 1 0 9 0 0 0 2 0 69 0 4 0 11 1 7-1 3 1 0-2 0 1-117 3 1-1 3 2 2 0 6-1 2 1 3-2 0 1 1 0 0-1 3 0 1 0 73 2 3-2 1 0 3 1 0 1 3-2 0 0 2 2 4 0 3 0-114 3 3 0 0-1 1-1 2 2 7-2 2 0 1 1 3 1 79 0 1-2 2 2 5-2 1 2 3 0 0-1 1 0 4-1 1 1 1 1 81 0-194 3 0-2 1 0 14 2 2-1 74 1 1-1 4-1 0 2 1 0 2-2 0 1 3-1 3 0 1 0 2 1 3 1 1 0 1 0 0-1 67 0 5-1 7 2 10-1 0 1 1 0-202 1 14 1 3 0 1-1 1 1 74 0 7 1 4-1 1 0 3-1 80 1 7 0 1 0 1 1 3 0 4-1-207 2 7 0 0 0 2 2 2 0 2-2 8 0 75 2 9-2 1 1 0 0 4 1 73-2 0 1 4-1 4 0 8 1 1 0 2 1 1-2 1 0 0 1 3-1-207 3 3 2 2-2 0 1 1 0 0 1 3-2 1 2 3-2 3 2 77-2 2 0 0 2 2-1 0 0 1 1 0-2 8 1 1 0 79 0 7-1 1 2 0-2 1 0 3 2 3 0 4 0 1-1-206 3 4-1 7 0 2 0 5 2 2-2 0 1 72 1 2-2 9 1 4 1 1 0 8-1 73-1 6 0 3 1 0-1 1 2-196 1 0 0 2 0 0 0 8 0 1 0 5 0 1 0 78 1 1 0 1-1 4 0 3 1 81-1 6 0 9 0-440 406 9-1-12 3 1 0 7 0 7 0 1 0 0 0-15 4 6 1 2 0 8-1 0 1-19 2 7 0 7 0 5 0 3 1 1-1-23 3 3 0 0-1 1 2 1-1 0 1 15 0 2-1 0 1-19 2 4 0 1-1 5 2 5-2-17 3 2 0 0 0 2 0 0 1 3 0 13-1 0 2 1 0-22 2 4 0 5-1 1 0 3 2 0-2 2 0 1 2 4-1 3-1-22 4 5 0 1-1 2 1 3-1 1 2 3-1 7 0-23 2 6 1 1 1 1-2 5 0 1 1 1-1 2 0 1 0 1 0 0 1 4-1-22 4 2-1 9 0 0 2 1-2 5 1 1-1 3 2-22 2 1 1 2 0 0-1 15-1 1 1 2-1-17 4 1 0 4 0 5 1 1-1-16 3 4-1 1 1 6-1 1 0 7 0-17 5 3-2 0 2 2-2 12 1-2 4-635 202-4 3-17 4 2-1 10 1 1 0 6 1 4-2 1 0-22 4 19 0 0 1-20 2 6-1-4 3 1 2 11-2 5 2-20 3 3-1 1 1-3 3 15-2 5 1 2-1 0 1-13 2 14 2-25 3 1-2 3 0 0 1 4 0 3-1 1 2 2-2 6 0 5 1-16 2 1 1 1 1 1-2 1 0 2 0 3 1 2 1 4-2 0 0-22 5 1-2 0 1 7 0 0-1 4 0 1 1 0 1 4-2 3 2 3-1 350-1 3 1 12 1-385 1 1 0 0 1 5 0 2 1 4-1 4-1 1 2 3 0 342-2 14 2-374 2 4-1 1 2 3-2 0 0 2 1 1-1 1 2 6 0 340-1 5-1 3 2 6 0 5-2 0 2-382 3 2 0 2-2 3 1 3 1 2-1 0 0 1 0 5 0-19 2 4 1 3 0 1 0 1 1 9-1 3 0 1 1 2-1 340-1 10 0-375 3 2 2 1 0 0-2 4 0 1 0 1 1 2 1 3 0 3-1 1 1 3-1 2 1 342 0 18-1-383 2 3 1 7 0 2-1 12 0 353 0 11 0 0 1-384 3 0 0 11 1 3-1 5 1 342 0 6-1 8 1 7-2 4 2-390 3 2-2 4 2 3-2 2 2 1-2 10 1 0 1 3 0 347 0 5 0 0-2 5 2 1-2 5 0-381 4 2 1 1 0 3 0 1 0 2 0 5-2 351 2 3 0 0-2 5 2 1-1 1 1 5-1-386 2 4 2 2 0 4-1-10 4 0-2 1 2 4-2 2 1 2-1 1 1 1 1 0-2 5 2 3 0 350 0 1 0-370 1 1 2 3-2 1 2 9-1 1-1 1 1 3 0 346 1 11-1 7 1-382 3 1-1 2-1 3 0 11 1 97 1 248 0 6 0 0-1 1 1 1 0-364 1 0 0 2 1 4 0 5-1 0 1 3-1 2 0 1 0 353 2 8 0 1-1 2 1 0-2-388 3 1 1 1 0 1-1 10 0 0 1 2 1 3 0 2-2 2 1 1 1 1-2 74 0 12 2 256-1 1-1 15 1 4 0-385 4 3-1 0-1 4 0 3 2 1-2 9 0 0 0 74 1 5-1 10 1 253 1 5-2 2 2 5-2 0 1 3 1 1-2 5 1 3-1 2 1-387 4 1 0 1-1 1-1 4 0 0 0 2 2 3-1 2 0 1 1 86-1 12 0 256 1 0 0 7 0 0 0-379 2 2-1 0 0 1 0 0 0 2 1 5 0 2 0 1 1 3 0 4-2 0 1 76-1 273 1 12 0 4 1 3-1 0-1-388 4 9 1 1-1 2-1 0 1 2 0 2 0 4 1 1 0 2-1 2 1 83-1 4 0 1-1 1 0 1 0 255 2 8-2 9 1 2 1-388 2 1 0 3-1 1 1 0-1 1 1 3 1 4-2 7 0 1 2 80-1 265 0 4-1 1 0 7 1 1 0 0 1 1-1 3 1-384 3 2 0 3 0 1-2 2 0 1 1 4 0 6 1 0 0 76-2 280 2 1-2 12 2 1-2-389 4 8-1 2 1 1 1 7-1 0-1 1 1 1 1 2-1 74 0 3 0 1-1 8 0 1 0 6 1 252 0 10 0 3 0 3 0-381 3 2-1 1 2 0-2 1 0 0 2 4-1 7 0 1-1 4 1 1-1 72 1 1-1 0 1 19 0 256 0 4-1 4 1 2 1 7 0-388 3 1-2 0 0 1 2 0-1 6 1 3-2 2 0 6 1 4 0 89 1 256-1 1 0 0 1 5 0 4 0 1 0 0 0 3-2 8 2-387 3 2-2 3 1 2-1 0 0 1 1 6 1 0-1 2 0 2-1 78 0 3 1 1-1 1 1 2 0 7-1 2 0 256 2 3-1 0 0 6 0 1 0 1-1 1 2 0-1 1 1 4 0-387 3 2-2 4 2 1-1 0-1 1 2 3-1 5 0 5 1 1-2 1 2 68-2 0 1 20 0 2-1 2 0 250 2 3-1 1 0 1-1 1 1 2-1 14 1-382 4 8 0 3-2 3 2 5-1 67 1 2-1 3-1 1 1 1 1 2-2 2 2 1 0 3-1 0 0 2 1 2 0 2 0 3-2 250 1 1 0 1-1 1 2 1-1 0-1 3 2 6-1 8-1 1 2 0-2-386 3 6 2 1-2 0 1 1-1 2 2 6-1 2 0 0 0 5-1 67 1 1-1 5 2 0 0 3 0 10-1 1-1 252 0 3 0 0 1 1 1 7 0 4-1 1 0 1-1 3 0 1 0 3 0 0 1 1 0 0 1 1-1 72 1-462 2 2 0 3 0 1 0 1 1 2 0 10 0 4-1 72-1 2 2 2-2 2 2 2-1 1 0 1 0 0-1 4 0 1 1 73-1 182 1 2-1 1 2 1 0 2-2 1 1 7 0 3 0 5 0 2 0 82 0-470 2 4 1 3-1 7 0 1 2 2-2 1 1 1 0 1 0 71-1 6 2 3 0 3 0 79 0 7 0 6-1 6 0 167 1 0-1 1 0 7 1 0 0 100 0-475 1 0 1 5 0 1 1 1-1 1-1 1 1 8 0 1 0 1 1 1 0 0-2 3 2 71-2 4 2 3-2 2 1 2-1 9 1 66 0 11 0 9-1 0 0 163 2 1-1 3 1 10 0 5-1 1-1 0 2 70-1 11 1 9-2-474 5 1-1 0 0 5-1 7 0 1 0 0 1 8-1 69 1 2 1 7-1 2 1 1 0 1 0 2 0 1-2 0 2 1-2 0 2 1 0 2-2 2 0 71 2 15-1 3 0 2 0 160 1 0 0 1-1 0-1 0 1 2 0 9 1 1-1 4 0 0-1 1 1 1-1 1 1 70 0-452 4 5 0 2-2 3 0 5 0 4 2 3-2 0 2 68 0 4-2 3 1 0 1 3-1 0 0 1 0 1-1 3 2 2-2 75 1 13 0 87-1 83 1 3 1 1-2 0 1 3 1 14 0 68 0 15-1 7 1-475 1 3 0 6 2 5 0 1-1 3 0 82 1 4 0 0-2 3 0 3 2 1-1 0-1 70 1 11 1 6-1 91-1 3 2 69 0 1-1 0 0 4 0 5 0 2 0 3 0 8 1 73-2 2 2 5 0 4-1 0 1 4 0-475 2 1-1 2 2 3-1 1-1 1 2 9-2 3 1 3 0 0 0 69-1 2 1 0 0 2 0 1-1 4 1 3 1 4 0 1 0 2-2 89 0 81 1 7 0 9-1 66 1 1-1 4 0 4 2 2 0 1-1 2 0 2-1 4 1 5-1 67 1 1 0 8 0 6 1 5 0 75-1 20 0-564 4 1 0 5-2 0 2 1 0 2-2 3 0 4 1 1 0 70-1 16 1 5 1 0-2 1 0 68 0 1 2 2-1 4 1 1-1 6-1 3 2 2-1 1 0 2 0 0-1 1 1 71 0 1 0 4 0 6 1 3 0 4-1 68-1 2 2 0-1 3 0 1-1 2 0 2 1 0-1 0 2 3-1 3 0 1 1 3-2 74 0 3 2 3-1 2-1 3 2 1-2 0 1 6 0 0 1 2-1 2-1 68 0-546 5 4-1 4-1 5 0 7 1 72-1 4 1 0-1 4 1 3 0 11 0 0 0 67 1 2-1 1 0 0 1 2-1 0 1 1-2 2 0 5 1 4 1 1-1 0-1 2 0 0 2 1 0 1-2 0 2 1-1 70 0 0 0 2-1 14 1 74-1 6 1 1-1 2 1 0 0 3 0 3-1 1 1 1 1 3 0 0-2 71 2 1 0 1-1 5-1 6 2 4-1 0 1 1-1 0-1 2 0 78 0 0 0 9 0 3 1 73-1-638 4 9 1 2-1 0 1 4-1 2 1 73 0 7-1 0 0 1-1 4 2 7-2 2 0 1 0 2 1 67 0 0 0 3 0 1 0 6 0 1-1 9 2 3 0 71 0 10-2 1 0 4 2 1-2 3 2 1 0 68-1 1 1 0-2 4 0 2 2 7-1 0 1 2-1 0-1 1 2 1-2 3 1 3 0 74 0 1-1 5 2 2 0 3-2 0 0 5 2 1-1 69-1 19 1 2 0 75 1-645 2 6-1 7 2 1-1 1 0 3-1 0 0 1 2 0 0 2-2 72 0 4 0 1 1 0 0 7 1 5 0 2 0 78 0 4-2 0 1 4 0 7 1 2-1 69 1 2-2 1 2 2-1 1 1 3 0 1-1 1-1 2 0 1 0 2 2 1 0 2 0 71 0 2-1 0 0 3-1 0 2 3-2 1 1 5 0 1 1 3 0 1-1 4 1 67-2 3 1 1 0 1 0 1 1 0-1 6 0 1 1 2-2 6 1 0 1 1-2 0 1 69-1 0 2 1-1 16 0 83-1 2 0-648 3 7 1 3 0 1-1 1 1 1-1 1 0 2 1 1 0 1 1 2 0 2 0 76-2 1 0 7 0 1 0 3 0 2 1 1 1 1 0 69-1 7 1 2-2 5 0 1 1 1 0 0 1 0-1 75 0 7 1 4 0 2-2 1 2 1-1 1 1 1-1 3 1 1-2 71 2 0-1 1-1 6 0 0 1 0 1 1-2 1 0 8 0 3 2 72 0 7 0 4 0 2 0 3 0 76-1 3 0 1 1 3 0 3-2 9 0 78 0 3 1 3 0-652 4 3-2 0 2 0 0 4-1 1-1 4 0 4 0 2 1 1 1 2 0 71 0 7-2 1 0 1 0 2 0 0 2 5 0 3-2 2 2 0 0 68 0 0-2 7 0 2 0 10 1 5-1 67 1 3 1 1-2 4 2 6-1 5 0 1 0 2 0 1 0 67 0 4-1 1 0 0 0 1 2 10 0 2-1 3 1 1-1 71-1 3 0 2 0 3 1 0 0 7 0 3 1 73-2 2 2 8-1 2-1 6 1 5-1 69 1 2 1 7 0 9-1 4 0-653 4 2-1 4-1 8 0 72 0 1 1 5-1 7 1 3-1 71 1 1 0 0-1 6 0 2 2 2 0 0 0 1-1 3 1 3-1 1-1 2 1 1-1 3 1 67 1 0 0 1-2 3 1 5-1 4 0 2 0 4 1 74 0 2 1 2 0 0 0 0 0 2 0 2-1 11-1 76 1 1 0 1 1 1-1 2-1 1 0 7 1 79-1 1 0 2 1 1-1 1 2 7 0 2-2 70 1 10 1 1-1-648 2 7 0 1 2 0-2 1 2 3-2 2 0 4 2 2-2 71 1 1 0 3-1 5 2 5 0 2-1 1-1 5 0 68 2 4-1 2-1 1 2 2 0 1-1 2 0 2 1 2-1 1-1 1 1 73-1 0 0 8 1 4 0 1-1 0 1 1 1 1-2 1 2 5 0 1 0 2 0 71-2 2 2 1 0 1-1 3 1 2-2 3 2 3-2 1 2 1-1 77 0 1 0 2-1 2 0 2 2 7-1 72 0 4 1 1 0 6 0 0-2 1 2 4-2 75 0 5 1 3 0 0 1 0-1 6 1 1-1 1-1 2 0 1 1-652 2 3 0 2 0 3 1 1 0 4 0 1 1 1-2 1 0 70 0 0 1 0-1 5 0 2 1 0 0 0-1 10 2 1-2 80 1 2 0 4 1 4-1 5-1 74 2 0-1 2 0 1-1 0 0 0 0 3 0 1 0 2 2 77-1 0-1 3 2 2-2 8 2 2 0 1-1 3 0 1-1 2 0 3 2 72 0 2 0 0-1 5 1 0-2 4 0 0 0 6 2 69 0 2-2 1 0 3 0 1 1 1 0 3 0 1-1 79 0 6 1 2-1 1 2 2-2 1 1 5 0 2 0 2-1-658 3 1 1 3 0 4-1 9 0 2 0 1 2 71-2 0 0 7 2 1-1 4-1 2 2 1-1 0 1 1-1 3-1 71 2 2-2 7 0 2 1 0 0 5 1 1 0 5-2 69 1 2-1 1 2 0-2 1 0 1 0 3 2 5-1 3-1 2 0 3 2 81-1 4 1 0-1 2-1 0 0 1 0 2 2 5 0 83 0 0-1 4 1 0 0 2 0 1-1 68 0 7 0 8-1 2 0 3 2 0 0 3-2 67 2 8-2 1 1 1 0 0 1 3-2 1 2 2-2 1 0 2 2 0-2-656 4 1 1 1-1 0 1 3-1 1 0 0-1 3 1 2 1 3-2 0 0 8 1 70 0 2 1 3-1 1 0 0-1 2 1 2 0 6-1 2 1 1 1 0-2 1 0 1 0 70 2 3-1 15 1 3-2 1 0 1 0 67 0 3 0 3 1 1 1 2-2 4 1 1-1 2 2 2 0 5-1 1-1 67 1 5-1 2 1 0 1 3-1 4-1 6 0 76 1 0-1 0 0 1 0 2 2 3-2 1 1 3 0 1-1 2 0 0 0 2 2 3 0 75 0 0 0 3-1 0 0 1 1 2-1 5 1 78 0 1 0 7 0 4-1 1 1 2 0 2-1-655 4 8 0 6 0 1 0 74-1 7 0 0-1 3 0 5 2 4-2 74 1 1 1 6-2 1 0 2 1 8 1 69-1 2 1 2-2 1 0 0 1 4 0 3 1 1-1 1 1 1-2 6 1 1 1 0 0 68-1 8 0 2-1 1 1 7 0 73 0 1-1 0 0 2 2 0-1 3 1 0-1 0 1 13-2 4 1 71-1 3 0 3 2 0 0 2-2 0 1 4-1 1 0 3 1 4-1 2 1 72 1 0-1 0 1 4-1 1 1 2-2 1 2 2-2 3 2 2-2 0 2 3-1-661 3 4-1 2 2 4-1 1 0 7 0 2-1 3 1 1 1 68-1 1 1 8-1 2-1 5 0 1 0 73 0 1 0 9 0 2 1 7 0 0-1 4 0 2 1 69 1 9-2 2 1 11-1 0 2 161-2 7 1 1 0 6 1 6-1 68-1 6 2 8 0 1 0 7-1 2-1 73 2 12-1 3 1 0-2-656 3 0 2 4 0 7 0 0 0 7 0 74-1 9 0 2 0 1 0 2 1 2-1 72 0 10 0 3 1 1 0 0 0 1 0 2 0 3-2 75 2 7-1 0-1 12 2 160-2 2 2 0-1 0-1 3 0 5 2 0-1 1 0 0 1 5-2 2 0 4 2 67 0 3-2 5 2 1 0 1 0 3 0 3 0 1-2 0 1 4-1 0 1 2 1 2-2 73 0 2 1 2 1 0-1 1-1 1 2 0 0 0 0 1 0 4-2 2 1 3 1-568 2 2 0 0-1 1 1 1-1 4 1 8 0 5 0 0 0 450 73 1 3-4 3 4-1-18 3 3 0 6-1 2 1-4 2-2 5 5-2 9 1 2-1 81 1 9 1-112 1 4 2 5-2 4 2 0-2 92 2 7-2 4 0-105 4 6 0 77 0-88 3 6-1 88 1 4 0 9 0-105 3 2-1 12 1 71-1 2 1 1 1 2-2 18 2-111 1 8 0 2 0 4 2 1 0 80 0-100 1 1 2 1-2 2 1 1-1 5 2 3 0 87 0 8-2-105 4 15 1 2 0 2 0 1-1-19 2 1 2 2-2 1 0 12 2 73 0 1 0 13-2 0 1 6-1-112 4 0-1 0 2 5-1 12 0 79 0 2 1 4-1 0 1 3 0 4-2 3 1 0 0 1 1-115 2 5 0 3-1 3 1 86 0 9 0-102 3 0 0 3 0 3 1 8-2 4 1 1 1 74-2 0 1 1-1 3 1 0 0 3-1 1 2 1 0 1-2 9 0 1 1-111 3 12-1 4 2 70-1 17 0 0-1 4 0 3 2-100 2 2-1 2 2 2-2 80 0 10 2 4-2 0 0-112 5 6-1 11 1 73 0 1-2 2 0 10 2 0-1 5 1-105 3 3-2 0 0 4 2 7-2 81 1 5-1 1 2 2-2-108 4 11 1 1 0 10-2 76 0 3 1 0 1 0 0 1-2 3 0 0 2 4 0 2 0-110 1 2 1 9-1 3 2 1-2 3 0 74 0 6 1 4-1 3 0-106 3 1 1 6 1 4 0 6 0 1 0 76-1 4 1 4 0 3 0 4-1 4 1-115 2 17 1 1-1 0-1 2 0 2 2 2-2 68 2 0-1 4 1 3-2 8 2 5-1 2 0 2-1-111 3 2 2 1-1 1-1 8 0 6 1 2 0 67 1 1-2 2 2 7 0 5-2-97 3 7 1 5 0 78 0 2-1-100 4 3-1 1 2 12 0 3 0 3 0 69-1 3-1 2 1 0 1 2-1 2-1 2 2 12-2-114 4 2 0 3 1 9 0 7-2 1 0 68 0 5 2 1 0 3-2-101 3 2 1 8 0 3 0 2 1 3-1 4 0 1 1 80-2 8 0 5 0 0 2-116 1 1 0 2 2 3-2 1 1 0 1 6-2 0 1 2-1 2 2 2-1 3-1 1 2 1-2 68 1 15 1 7-1 0 1-113 1 1 1 0 1 1-1 0-1 1 2 19-2 78 2 11 0 1 0-111 2 1 1 2-1 1-1 0 1 2 1 2-2 7 1 0 1 0-1 2-1 0 2 6-2 80 1 1-1 7 0 2 2-108 1 6 1 1 0 3-1 0 1 1-1 1 0 4 1 1 0 68 1 0-2 4 2 4 0 0-2 1 1 1 1 7-2 0 1 1 0 5 1-114 1 5 1 2 1 2-2 4 1 5 0 3 0 0-1 75 0 6 1 4 0 0 1 1 0 3-2 2 1 1 0 2-1-109 4 0 0 4 1 4-2 4 1 73 0 0-1 1 2 8-1 1-1 4 1 1 1 4 0 3-1 1-1-108 5 0-2 1 1 3 1 1-2 1 2 2 0 2 0 1-2 1 2 5-1 1 0 68 1 6 0 0 0 2-2 9 1 2 1-111 2 5 0 1-1 6 2 4-1 5-1 73 2 3-1 1 1 2-1 2 0 10 0-385 4 8 0 9-2 261 0 2 2 2-1 5-1 1 0 0 0 3 0 2 1 72 0 2-1 1 0 5 2 4-2 3 1 0 1 8-2-475 5 96 0 3-1 261 1 1-2 0 1 2 0 15-1 1 0 1 0 1 1 1 1 0-1 71 0 1-1 0 0 1 1 1-1 4 1 4-1 5 2 0-1 1-1 1 1-379 4 1 0 10 0 5-1 251-1 7 2 6 0 5-2 2 1 1 1 3-2 70 0 6 2 0-1 2-1 2 2 2-2 1 2 2-2 1 1 1 1 2-1 4 1-474 3 3 0 3-2 6 1 4-1 1 0 69 0 10 0 1 1 1 1 4-1 3 1 5-2 249 1 8 1 3-2 3 2 0 0 1-1 6-1 1 2 68 0 3-1 0-1 2 1 1 0 4-1 6 1 2 1 0-2 2 0 2 2-473 3 1 0 89 0 0-1 5-1 2 0 1 1 5-1 2 0 1 1 3 0 260-1 5 0 4 2 74 0 3-1 1 1 6-1 1 1 3-1 2 0 5 0 1-1 1 2-478 3 0 0 4-1 0-1 1 2 1-2 7 1 1 0 84-1 265 2 3-1 2 1 3-1 4-1 0 1 1 1 7-2 1 0 2 2 72-2 5 0 0 1 1 0 0-1 11 0-476 5 0-2 2 1 9 1 3 0 82-2 17 0 250 1 2-1 0 0 1 1 2 1 2-2 1 1 4-1 92 1 4 1 6-1-478 4 6-1 3-1 0 1 2 0 1 0 81 0 4-1 267 2 5 0 1-2 1 1 1 1 1 0 2-1 5 1 7-2 74 1 3 0 4 0 3 0 0 1 3-2 2 0 0 0 2 0 1 2 2-2-480 4 1 0 2 0 4 0 0-1 4 2 5 0 1-2 4 2 70 0 1-2 0 2 3-2 2 2 2-2 5 0 6 0 3 0 1 2 0-2 1 2 163 0 13 0 6 0 69 0 1 0 0-1 10-1 2 2 5-2 3 2 68 0 1 0 6 0 3-1 0 0 1 1 2 0-469 1 5 0 2 1 10 1 3-1 2 0 1 0 1-1 67 0 1 1 1-1 1 1 2 0 0 0 6 1 1 0 4-2 1 1 0-1 2 0 1 1 0 0 5 1 173 0 76-1 8 0 3 1 7-2 2 0 3 2 70-2 3 2 0-2 0 2 2-2 2 2 1-1 5 0 1 0 4 0 2 1 2 0-478 2 5 0 6 0 1 0 5-1 5 2 67 0 3 0 5-1 5 0 2 0 1 0 5-1 1 1 1 0 0 1 160 0 2 0 2-1 2 1 7-2 6 0 75 2 1-1 5-1 0 2 2-1 1-1 2 0 1 2 1-1 4 0 2 1 70-2 2 0 4 2 0 0 0 0 7-2 4 1 3 1 0-2 3 1-479 4 1 0 4-1 2 0 1-1 7 2 1 0 2-2 74 0 2 2 1-1 1-1 1 1 1 0 0 1 5 0 1-2 2 2 0-1 3 1 2 0 2-2 1 0 0 2 160-2 1 0 0 1 8 1 0 0 0 0 2-1 0 0 1 0 1 1 0 0 3-1 3 1 4 0 66-1 5 0 3 0 0-1 5 1 0 1 4 0 0-2 1 2 2-1 72-1 0 1 4-1 0 1 8 0 5 0 0 0 4 0-477 2 2 0 1 0 1 1 3-1 0 1 1-1 2 0 1 0 0 1 3-1 0 0 6 1 4 0 1 0 0-1 67 1 6 1 1 0 6-1 6-1 1 0 1 2 166-2 2 1 2 1 3-2 1 0 2 1 3 1 1 0 0 0 1-2 3 1 68 0 4 1 3 0 3 0 4-1 3 1 1 0 75 0 0 0 10-2 1 0 1 1 0-1 2 2 0-1 1 1 7-2-479 4 11 0 3 0 0-1 3 0 73 1 1 1 7 0 2-2 1 0 2 1 1-1 7 1 3 1 85-1 74-1 0 1 1-1 5 0 2 1 0 1 2-2 4 0 0 2 0-1 9-1 1 1 70-1 1 0 9 0 1 1 85 0 10-1 2 2 2 0 1-1 1 0-472 2 2 0 0 0 1 1 0 1 1-2 8 1 1 1 4 0 66-1 3 1 1-1 1-1 1 2 0-2 2 1 2 0 3-1 0 1 6-1 0 0 73 2 8-2 94 2 1-2 2 2 0-2 1 2 10-2 67 0 2 1 1 0 0 0 1-1 5 0 4 0 3 1 4 0 1 0 73 1 1-2 1 2 3-2 5 0 2 2 5-1-473 4 0-2 1 2 3 0 2-1 9-1 1 0 1 1 1-1 1 2 68-1 2 0 1-1 1 1 1 1 6-2 82 1 3-1 5 1 6 0 2-1 74 2 1 0 3-2 4 1 1 1 6-2 0 1 7-1 1 0 68 1 8 1 6 0 3 0 1-2 1 2 5-1 71 0 0-1 3 2 1-2 0 1 1 0 1 0 2-1 4 1 1 1 0-2 2 2 1 0-476 1 1 0 2 2 9-1 1-1 1 2 0 0 2-1 4 0 0-1 4 2 0-2 2 1 66 0 3 1 1-2 6 1 1 0 3-1 5 1 80 0 86-1 2 2 0 0 5 0 2-1 5 0 1 1 4-1 68 0 7 1 1-2 0 2 2-1 1 1 3 0 1-1 7 1 78-1 5 0 3 1 8-1-561 4 84-1 6 1 3-1 1 0 8 1 5-2 73 2 6-1 2 0 4 1 0-1 1-1 0 1 1 1 72-2 0 2 1-2 2 2 8-1 4 0 6 1 77-2 3 2 3-2 3 2 2-1 1-1 3 2 67-1 9 0 3-1 3 0 0 0 3 1 0 0 1-1 2 0 2 1 73-1 0 1 2 0 15 1-561 2 3 1 0-1 7 0 5 1 73-2 0 0 0 2 4-1 4-1 4 0 4 2 2-1 72-1 0 2 0-2 1 1 1 0 3 0 0-1 12 2 1-1 1 0 71-1 4 2 1-1 5-1 0 2 1 0 0-2 0 2 7 0 1-2 70 0 8 2 2-1 12 0 1 0 1-1 77 0 9 0 2 0 74 0 3 1 1 1 1-1 2-1 4 0 1 1 0-1 1 2 0-2 3 1 1 1 3 0-644 3 82 0 1 0 0 0 7-2 3 1 2 1 72-1 7-1 1 0 3 0 2 1 4 0 0 1 73 0 6-2 4 2 9-1 71 0 0-1 1 1 0 0 0 0 2 0 1 0 2 0 3 1 1-2 1 1 0 1 13-2 1 0 73 2 6-1 0-1 3 0 4 1 72 1 9-1 5-1 1 0 3 2 0-2 1 1 4 0 68 0 2 0 5 0 1 1 0-2 3 0 0 0 6 1 2 0-656 4 12 0 10-2 1 1 68-1 2 2 7-1 9 1 1-2 2 1 1 0 2 0 65-1 1 1 4-1 4 2 3-2 0 2 2 0 1-2 3 0 2 1 1-1 2 0 1 1 68-1 6 0 2 2 2-2 0 1 1 1 0 0 0 0 10-1 1 1 77-1 1-1 0 0 1 0 3 1 4 0 1 1 0-2 1 1 2-1 73 1 3-1 10 2 0-1 1 1 1-1 85 1 4-2 2 2 75 0 5 0 5-2 1 1 1 1 0 0 7-1 1 0 1 0-649 3 0 1 5 0 4-2 0 2 1 0 69 0 1-1 1 0 1 0 0 1 2 0 3-2 3 1 0 1 0-2 2 0 7 0 0 1 3 1 0 0 2-1 0 1 71-2 0 0 1 2 2-2 2 0 3 1 1 0 5-1 1 1 0-1 0 2 2 0 73-1 1 0 4-1 0 0 10 1 4-1 2 2 68-1 4 1 0-2 0 0 1 2 2 0 0 0 1-1 1-1 2 1 2 0 3-1 8 1 69 1 4-2 1 2 0-1 1 0 8 1 2 0 4-1 69 0 2 0 1 0 1-1 3 1 1-1 3 2 2-2 1 2 5-2 1 0 77 1 4 1 4 0 2-2 1 1 4-1 0 0 1 1-659 4 5-1 2 1 0 0 2-2 7 2 1-2 1 1 1-1 2 0 74 2 2-2 2 1 1 0 2 0 1 1 0-1 3 0 1 0 4 0 1 0 3 0 65 1 1-2 1 0 2 1 1 1 0 0 1-2 4 0 6 0 0 0 1 0 3 0 4 2 0-1 67-1 8 2 2-1 1 1 2-2 9 0 2 2 1-2 0 1 68 0 1 1 0 0 1-1 9-1 5 2 4-1 2 0 67-1 1 1 6-1 1 2 2-2 1 0 2 1 2-1 1 1 1 0 0 1 75 0 0-1 1 0 1-1 0 2 3-1 1-1 4 2 81-2 3 1 3-1 1 1 3 0 5 0 1 0 4-1 0 0 2 1-654 2 1 2 4-2 5 0 78 0 1 0 0 2 1-1 3-1 2 1 3 0 1-1 2 0 3 0 3 2 3-1 72 1 4-1 1 0 1 1 3 0 7 0 3 0 66-2 1 1 2 0 4 1 1-1 2-1 1 1 12 1 1 0 2-1 67 1 12-2 90 0 3 1 2-1 73 0 3 1 3-1 0 1 3-1 3 0 11 0-556 3 1 1 0 0 1-1 77 2 2-1 0-1 1 2 3-2 2 0 2 0 0 1 5 0 3 1 5-2 2 2 67-1 1 1 0 0 0-1 7 1 2 0 4-1 4-1 2 0 71 2 1 0 3-1 2 1 1-2 2 2 3 0 1-1 7 0 4 0 0 1 80-1 1-1 9 0 0 0 68 2 2-2 8 1 1 1 0 0 1-1 3-1 1 2 0-2 0 2 1-2 2 0 74 0 1 2 0-2 3 2 6 0 7-2-566 4 1 1 0-2 3 1 1 0 4 1 2 0 8-2 0 2 1 0 1-2 72 1 4 0 3 1 2-1 0 0 4 1 1-2 2 0 2 1 5 1 69-2 2 2 6 0 0 0 8-1 3 1 3 0 65-1 1 0 1-1 0 1 1 1 2-2 2 2 4 0 2-1 4-1 2 1 1 0 1-1 2 0 0 1 1 0 74 0 1 0 1 0 4 0 5 0 1 1 72-1 6 1 1 0 0-1 3 1 2-1 5 0 2 1 2 0 1 0 2-2 1 2 72 0 0-1 2-1 5 2 5 0 0-2 2 2 0 0 4-1 0 0-568 2 1 0 4 0 1 0 1 1 1 0 3-1 2 1 7 1 1-1 69 0 4 0 1 0 1 0 7-1 6 1 2 1 0-1 2 0 70 1 4-2 2 0 2 0 9 1 3-1 0 0 71 0 1 0 4 0 2 0 2 0 4 2 2-2 7 2 70-2 2 0 0 2 5-2 0 1 3 0 2 1 1-1 0 1 4 0 71 0 2-2 2 0 1 2 5-2 0 0 1 0 1 1 0-1 4 2 2-2 4 2 69-2 2 0-548 3 5 1 6 0 0-1 0 1 6 1 3-1 3 1 74 0 2 0 1-1 4 1 4-1 5-1 70 2 0-2 1 0 0 1 1 0 0-1 3 0 3 1 1 0 6 1 5 0 2 0 68-2 0 2 9-2 1 0 1 1 5-1 2 1 4 0 0 1 70 0 0-1 1 0 4-1 6 2 2 0 4-1 2 0 73 1 3-1 0-1 3 2 11-1 3 0 1 1 78-2 2 0-558 3 3 0 2 1 1 0 0 1 3-2 2 2 2-2 3 1 0-1 2 0 4 1 73-1 2 1 9 0 10-1 67 1 9-1 0 0 3 1 2 1 4-1 1-1 0 1 70 0 5 1 1-2 2 1 1 0 0 0 2-1 6 0 1 0 4 2 70-2 2 0 0 0 1 2 6-2 2 0 0 2 4-2 5 2 2-2 72 1 0-1 1 0 1 2 1-1 5-1 0 0 12 0-477 5 8-1 12 1 3-2 1 0 77 1 5-1 0 2 8-1 76 0 1-1 7 0 3 1 2 1 0 0 2-1 67-1 2 2 1-1 3 0 0-1 1 2 2-1 13 0 70 1 0-2 1 0 8 2 1-2 1 1 0-1 1 1 1 1 9-2 1 0 1 2 65-1 5 0 2 0 3-1 2 1 1 0 3 0 1-1 4 1-476 2 1 1 2 0 17 0 1-1 1 0 2 0 73 1 3-1 11 1 0 0 2 0 0 0 2 0 1-1 70 1 4-1 8 1 2 0 0 0 0 0 2 0 0 0 3 0 1 0 0 0 0 0 2 0 0 0 66-1 4 1 0 0 9 0 9 0 2 0"/>
<path class="b" marker-start="url(#mb)" marker-mid="url(#mb)" marker-end="url(#mb)" d="M1236 208l1 0 16 3-8 4-10 1 15 1 0 4 7 0-19 5 17 0-19 3 8 0-11 10 1 0 9-2-4 3 90 4-79 2 92 1-90 3 79 1 86 0-178 2 6 0 83-1 9 2 84 0 19-1-111 3 9 0 2 0 80-1 13 0-186 5 12-2 160 1 0-1 1 0 9 1 1 0 9 0-198 2 85 2 3 0 15 0 81 0 3-2 2 1 1 1 2-1 3 1 1-2-103 4 4 0 3-1 82 0 0 0 2 2 5-2 5 0 1 2 2 0-21 3 3-1 4 1 1-2 3 0 2 0 6 0 0 0 3 0-190 3 8 0 68 1 3-1 3 2 85 0 1 0 1-2 1 2 2 0 0 0 1-2 0 2 6-2 7 2 0-1 2 0 1 0 0 1 72-1 5-1 3 0 8 2 5 0-296 3 5-1 6-1 170 2 9-1 2-1 3 2 4 0 4 0 81-1 4 1-193 1 7 1 79-1 3 2 4 0 1-2 1 2 3-2 0 1 8 1 3-1 0-1 1 2 68-1 1 0 4-1 8 0 6 2 4 0-204 3 90-2 1 1 4 1 0 0 1-2 6 2 6-2 3 0 2 1 0 1 1-1 75 0 0 0 3 1 2 0 1 0 3-1 0-1 1 1-270 2 88 1 74 1 3-2 1 2 5-2 3 2 79 0 1 0 15-1 2 1 0-1 5-1 0 0 93 1-386 2 9 1 10 1 73 0 5-2 13 2 75-2 9 2 2-1 1 1 4-2 69 0 0 1 1-1 1 2 0-2 1 2 4-2 8 2 182 0 2 0 9 0-484 2 4 0 8 0 3 0 7-1 3 1 0 1 68 0 4-2 5 1 4 1 4-1 4-1 1 1 74-1 0 2 1-2 4 2 2-1 4-1 1 1 3-1 3 2 69-2 3 0 5 1 1 1 5-1 1 0 5 1 2 0 80-1 2 1 5 0 1 0 1-2 73 1 7 1 9-2 4 1 0 0-475 2 3 2 1-1 4 0 3-1 2 2 78 0 8 0 3-1 0-1 0 2 0-1 2 0 2 1 1-1 2-1 2 1 72 0 8 1 2-2 1 1 9 1 69 0 6-1 5 1 4-2 5 0 1 2 70-2 2 2 0-1 1 0 3 1 4-1 3-1 1 2 7-1 1 0 2-1 0 1 67 1 12 0 3 0 3 0 2-1 3-1-474 3 1 0 0 2 2-2 8 1 0-1 3 0 1 2 73-1 3 1 2 0 2 0 0 0 2-2 3 0 0 0 2 0 2 1 1-1 4 1 69-1 1 2 2-1 2 0 1 1 0-1 2 1 0-1 2 0 0 0 4 0 2 0 1 1 2 0 71-1 6-1 3 1 1-1 1 0 3 2 8 0 1-2 68 0 3 0 7 0 2 2 1 0 5-1 2 0 4-1 68 1 4-1 1 1 2-1 1 0 3 0 3 2 4-2 0 2 4-1-477 2 0 0 2 1 2-1 12 1 1 1 2 0 1 0 0-2 68 0 9 0 4 0 7 0 4 1 0-1 1 1 67 1 1-1 1-1 3 1 5 0 1-1 3 1 82-1 1 0 3 1 0-1 7 2 2-1 6 1 0-2 77 2 2 0 3-2 1 1 1 1 3-2 0 0 74 2 1 0 1-1 2 0 3 0 1 0 1 0 5 1 4 0 1-1 1 1 0-1 3-1 0 1-483 4 1 0 1 0 1-1 2-1 0 0 7 2 13-1 0 0 0 0 67 0 0 1 2-1 6 1 0 0 9 0 4 0 0-2 1 2 3-1 69 1 1 0 1-1 8 1 3-1 5-1 2 2 2-2 70 0 2 0 2 0 3 1 3 0 1 0 1 1 1 0 1 0 5-2 3 1 67 1 2-2 1 1 1-1 3 1 3-1 0 1 1 0 4 1 2 0 1 0 8 0 75-1 9-1 2 2 5 0 0-1-482 4 1-2 0 0 2 0 0 1 2-1 1 1 2 1 3-2 1 1 5-1 0 2 3-2 2 2 0 0 1-1 71 1 4-1 4 0 1 0 7 1 4 0 1-2 72 2 11 0 79-1 1-1 0 2 1-2 1 0 0 2 4-2 0 0 2 2 0-2 7 2 2-1 70 0 2 1 5-1 1 1 0-2 5 0 2 0 1 0 4 1 0 0 72-1 1 2 3-2 4 2 6-1 1 0-474 4 4-2 4 2 1-2 0 2 1-2 0 2 1-1 3-1 8 1 1-1 72 2 4 0 1-2 1 1 0 1 1-1 0 0 1-1 1 2 3 0 4-1 1 1 0 0 1-1 70-1 1 0 1 0 1 2 4 0 6 0 0-1 2 1 2-2 3 1 2-1 82 0 0 0 2 2 0-2 2 1 2 0 5 0 0 0 1-1 1 2 71-1 0 0 1-1 0 0 7 2 2 0 0-2 2 0 0 0 8 0 69 1 0-1 4 2 1 0 10 0 0 0 4 0 3-2 0 1-477 3 2 1 2-1 0-1 1 1 2-1 2 0 3 2 1-1 2 0 1 0 0 0 4 0 73 1 0-1 5 1 1-1 5-1 2 2 0 0 1 0 2-2 69 2 2 0 1-1 1-1 2 2 0-2 1 1 2 1 1-2 5 1 0 1 0 0 3-1 0 1 3 0 4-2 77 1 1-1 12 2 77-2 2 2 6-1 77 1 3 0 5-1 3 0 1-1 3 0 3 2 2 0 1 0 1-2-479 3 1 1 2-1 2 0 4 2 9-2 0 1 0-1 0 1 4-1 76 0 4 1 10 0 0 0 72 0 6-1 0 2 0-1 0 0 4 0 0-1 3 1 3-1 80 1 3 0 1 1 4-1 81-1 5 2 1 0 1-1 4-1 1 1 6 0 2-1 67 2 2 0 1-2 1 0 4 2 2 0 1 0 1 0 5-1 1-1 4 1 3-1-481 3 1 2 3 0 0-2 2 2 0-2 2 2 0 0 3-2 2 1 0 0 2-1 4 2 77-2 3 1 0-1 1 2 7 0 1-1 1 1 3 0 1-2 1 2 69-1 12 1 1-2 4 1 3-1 77 0 4 1 12 0 71 0 2-1 2 2 4 0 5-1 3 0 4 0 69 1 2 0 0 0 3-2 1 2 7-2 5 1 2-1-473 5 4 0 1 0 1-1 6 1 1-2 89 2 0-2 2 0 6 0 68 2 6 0 1-1 4 1 4 0 2 0 3-2 0 0 1 1 1 1 0 0 70 0 1-2 1 1 2 0 2-1 4 1 2 0 0-1 2 2 1-1 1 1 1-2 3 1 3 0 0 1 68-1 5 1 3-1 1 0 3 0 0-1 0 0 2 0 1 2 5-2 2 0 2 2 68-1 2-1 10 0 3 0-474 4 8 0 8 1 0-2 3 2 78-1 0 1 5-1 1-1 0 1 1 1 2-1 10 0 0 1 69-1 5 1 2-2 1 2 0-2 4 1 4 1 1-2 1 1 0-1 3 1 1-1 73 0 2 0 1 1 3 0 12 0 70 1 5-2 5 0 2 1 10 0 69 1 1-2 1 0 4 1 6 1 2 0 2-2 0 1 8 1-474 3 3-2 0 2 4 0 6 0 1 0 1-1 74 0 2 0 2-1 1 1 7 0 4 1 2-1 68 1 6 0 3-2 13 0 70 2 4-2 7 1 8 1 4 0 1-1 69 1 1-2 5 1 1 1 2-2 0 2 2-2 4 2 2-1 2-1 2 1 1 1 1 0 70-1 1 1 5-1 9 1 5-1 2 0-482 2 4 1 1-1 0 1 0 1 8-2 82 2 0 0 2 0 9 0 1-2 1 1 0 0 0-1 1 1 6 1 0-2 68 1 1 1 2 0 6-2 4 0 2 2 77-1 2-1 6 2 4-2 2 1 7-1 2 1 0 1 70-2 2 0 1 1 1 0 5 0 0-1 7 1 6-1 0 0 72 2 4 0 1-2 1 2 0-1 1 1 1-2 0 0 7 2 5-1-469 2 80 0 4 0 8 0 3 0 1 0 1 2 0-2 3 0 74 1 0 0 3 1 1-1 1-1 3 2 8 0 71-2 5 2 1 0 0-2 0 0 2 2 1 0 5 0 9 0 68-1 4 1 1 0 6 0 1-2 1 2 1-2 4 1 1 1 1 0 0-1 74 1 2 0 1 0 3-1 3 1 5-2 3 1 3-1 3 1-387 3 3 1 0-2 1 1 0 0 6 0 0-1 1 1 7-1 0 1 2-1 68 0 0 0 3 1 2-1 1 2 0 0 2-1 0-1 3 2 8-2 1 2 76-2 3 0 13 2 0-1 1-1 0 0 0 1 71-1 2 1 1 0 5 0 0 0 2-1 2 1 2 0 3-1 2 2 1 0 71-1 2-1 6 1 3 1 3-1 1 0 0 0 1-1 5 0 1 0 2 2-388 2 0 1 4 0 2-2 1 2 4 0 4-1 77 0 1 0 0 0 0-1 4 1 0 0 3-1 3 1 3 0 2 0 3 0 1 0 71-1 1 2 2 0 4-2 5 0 7 2 1-1 70-1 6 0 2 0 1 0 5 0 2 0 1 0 2 0 0 0-296 3 5 1 1 1 2-1 7-1 4 0 3 1 170 1 12-1-202 2 4 0 0 0 3 0 3 0 5 0 3 0 1 0 167 0 12 0 1 0 1 0 2 0 0 0 0 0 1 0 165 86 8-1 9 5-5 5 6-2-16 4-78 4 76 0 2 0 2-2 0 0 6 0 4 2 0 0 1-1-104 3 90-1 6 1 11 0 0 1-199 3 93-2 7 1 83 1 0 0 5-1 2-1 5 2 5 0 0 0-193 2 11 1 75-2 10 2 4 0 2-1 88-1 0 1 6 1-301 3 4 0 106-2 5 1 73 0 10-1 7 1 2 1 1-2 70 1 3 1 2 0 1 0 2-2 4 0 2 0 4 1-295 2 12 2 6 0 4-1 71-1 11 1 80 1 1 0 20-2 1 2 68 0 3 0 5-1 1 1 1-2 3 2 2-1 3 1 4-2-292 5 20 0 70-2 92 0 7 1 3 0 0 0 3-1 1 1 5 1 3-2 70 1 2 1 3-1 6 1 0-1 2 0 4 0-292 3 4 0 1 0 84-1 14 2 77-1 1 1 4-2 5 2 15 0 85 0 7 0-299 2 101 0 11 1 70-1 0 1 2 0 10 0 1 0 8 0 70-1 3 0 4-1 1 0 2 2 1-2 3 2 1-1 3-1 2 2 0-2 2 2 2-1-284 2 5 2 82 0 4-1 4-1 7 1 71 1 5-1 6 0 8 0 70-1 10 2 0-2 1 1 12 0-291 4 87-1 13 1 6-1 79 0 1 0 3 1 4 0 1-2 1 1 1 1 0-2 2 2 69-1 3 0 3 0 4 1 5-2 7 2-295 1 1 0 3 0 11 0 4 0 1 1 75-1 3 2 7-1 3-1 73 0 0 1 14 1 2 0 7-2 69 0 8 1 2-1 5 0 8 2-298 3 1-1 8-1 87 2 1-1 7 0 80-1 0 2 8 0 4-1 7 0 2 0 70-1 3 1 5 0 1 0 0 1 3 0 1-1 5 1 2-2 1 0 4 0-207 5 4-1 1-1 6 1 10 1 69-1 2 0 3-1 8 0 0 1 4 1 6-2 1 2 69-1 2 0 1 1 2 0 4-2 5 2 2-2 6 2 0-2-285 4 3 1 1-1 74 0 5-1 1 0 12 2 75-2 3 2 0-1 1-1 1 1 3-1 6 0 1 0 8 2 75-2 3 1 9-1 4 1-294 3 1 0 12 0 76 0 6-1 8 0 2 0 3 2 3 0 72 0 3-2 3 1 3 0 0 1 7 0 73-1 1-1 4 2 3 0 2 0 1-1-280 2 1 0 0 0 7 1 4 1 3-1 69 0 1-1 3 1 8-1 6 0 1 1 2-1 71 1 1 0 5 1 5-2 1 2 0-1 6 1 2-2 1 1 2 1 73-2 0 2 3-1 3 1 1-1 4-1 4 2 1 0 0 0 1-1-293 2 1 2 0 0 1-2 4 2 5-1 4-1 3 0 78 1 5 1 2-1 7 0 1 1 69-1 1 0 1 1 8 0 6 0 0-1 1 0 3 1 1 0 71 0 1-1 4 0 6-1 1 0 5 0 3 1 0-1 2 1-297 4 5-2 7 0 2 0 78 2 3-2 6 1 1 0 12-1 2 0 72 2 5-2 2 2 0-1 3 0 3 0 0 0 7 0 67-1 1 0 6 0 1 1 0 1 0-2 6 1 2-1 0 1 2 0 0-1 2 1 1 0 1-1 1 1 1-1-293 5 1 0 9-2 76 1 3-1 3 1 2 0 8 0 2 1 2-2 86 1 0 1 2 0 1-1 0-1 3 0 73 0 3 2 0-1 4-1 4 2 3 0-286 1 96 0 9 2 72-1 3 0 1-1 1 0 0 2 2 0 0-2 1 2 1-2 2 2 2-2 3 2 2 0 1-2 7 1 66-1 1 1 2 0 3 1 2-2 3 1 1-1 2 0 5 1 0-1 3 1-290 2 6 0 11 1 1 0 69-1 4 2 1 0 1-1 1-1 2 1 3-1 80 1 4 0 2 0 0 0 0 1 2-1 0 0 0 1 5-1 2 0 1 0 7-1 68 2 1-2 1 2 7-2 7 2 1 0 0-1 3-1 1 1 1 0 1 0-300 4 12-2 7 1 0-1 5 0 1 1 68 0 1 1 7-1 3-1 1 0 1 1 85 0 1 0 1-1 0 2 2-2 8 2 3-1 0-1 2 2 70-2 0 1 6-1 0 0 1 2 1-2 3 2 1-1 0 0 2 1 1-2 8 0-296 4 9-1 6 2 1-2 0 1 77 1 3-1 14 0 0 1 73-2 5 1 2-1 3 0 0 1 0 0 2-1 3 0 4 2 70-2 6 2 2-1 3 0 1 0 0 0 0 1 1-1 3 1 3-1 3 0-282 3 6 1 88-1 1 1 77-2 1 2 3 0 3-1 1 1 1 0 1 0 4-2 1 2 74 0 2-2 3 1 10 0 4-1-289 3 2 2 3 0 3-2 5 1 1 0 0 1 72-2 3 0 3 0 1 0 13 0 70 2 2 0 3-1 1 0 2 0 0 1 1-1 2-1 0 2 3-1 4 0 6 1 69-2 0 2 2-2 1 2 2 0 8 0 6-2-287 3 3 0 82 0 1 1 4 1 1 0 10 0 1-1 75 1 3-2 4 0 3 1 0 0 2 0 10 0 1 1 67-2 1 1 4 0 3 1 1-1 1 0 2-1 8 0-287 5 2-2 0 1 2-1 2 0 78 0 9 0 2 2 2-2 3 1 3-1 5 2 67 0 2 0 8 0 1-2 1 0 4 1 0-1 4 0 2 1 71 1 7-1 1 0 0 0 2 1 1-2 0 2 1-2 4 2 3 0 2-1 1 1 0-1-297 4 0 0 11-1 7 1 88 0 7 0 0-2 69 2 0-2 4 1 3 0 2 0 0-1 2 2 4 0 3 0 0-1 1-1 2 1 2 1 85-1 0 0 6 1 0-2 1 2 1-2-299 5 1 0 6 0 7-1 3 1 2 0 75-2 9 2 5 0 75-2 1 0 1 0 1 2 5-1 0-1 6 1 2 1 1-2 1 0 4 1 1 1 0-2 71 1 1 0 1 0 6 1 5 0 1-1 3 0 4 0-291 3 2 0 0 1 9 0 1 0 5-1 72 0 7-1 3 0 2 2 0 0 1-1 2 1 3-2 0 2 74-2 2 1 5 1 2-1 0-1 2 0 3 2 0-1 5 1 72-1 1-1 1 0 9 1 1-1 0 2 2-1 5 1-296 3 13-2 7 1 1 0 76 0 8 1 2 0 0-2 1 2 75-1 3 1 1-1 1 0 2 1 3 0 7-2 2 0 74 0 0 2 0-1 0 0 3 1 5-1 1 0 1-1 3 2 2-2-289 4 11 0 4-1 0 2 78-2 2 2 0 0 4-1 1 1 6-2 2 2 1-2 72 2 1-1 19-1 2 0 67 2 2-1 1-1 1 2 4-2 3 0 6 0 4 0 4 1-290 3 0 1 9-1 4 0 2 1 70 0 3-1 0 1 2 0 1-1 0-1 9 0 78 1 3 1 2-1 2 0 5 1 1-2 2 2 76-1 3 0 5-1 1 2 1-2 3 2 1-2 0 0 4 2 1-1 2-1 0 1-389 4 90-2 0 0 4 0 1 0 4 0 7 1 2 1 0-1 3-1 3 1 0 0 72 0 2 1 5-1 1-1 0 0 8 0 4 1 71-1 2 2 0-1 3 0 1 0 0 0 2 0 3 0 3 0 1-1 5 2 75-1 1-1 2 2 0 0 2-1 1-1 2 2 1-1 1-1 4 2-386 3 6-2 10 1 7 0 66-1 2 2 0 0 8-1 1 0 4 1 10-2 70 0 0 0 2 1 12 1 5-2 1 0 1 2 1-1 0-1 71 1 2-1 1 2 1 0 3-2 0 0 2 2 3-2 1 1 2 1 0 0 2 0 1-2 70 0 1 2 0 0 1 0 8-2 1 2 6-1 8-1-373 4 75-1 4 2 1-1 9 1 80-1 0 1 5-2 0 2 1-2 1 0 1 0 4 1 0 0 2 0 0 0 76 1 0-1 1-1 3 1 2-1 1 0 2 0 1 1 4 1 2-1 5-1 1 1 0-1 67 0 0 1 1 1 1 0 3-1 6 1 2 0 0 0 1 0 6 0-373 1 78 2 1-1 2 0 1-1 3 2 0-1 2-1 10 0 0 1 3 0 0 1 1 0 1-2 72 1 1-1 4 1 0 0 1-1 3 0 3 1 0-1 6 0 2 1 74 1 1-2 2 2 1-2 2 1 9 1 0-2 2 2 0-1 0 1 1-2 66 0 2 0 5 2 1-1 11-1 6 1-376 3 78 1 2-1 6 0 0 0 1 1 3 0 3 0 3-2 2 2 2 0 1-1 67 1 9-1 3 0 7-1 3 0 0 1 3 0 70 0 7-1 5 0 2 2 5 0 74-1 0-1 2 1 4 1 4-2 1 1 5-1 1 2-469 3 103-1 0 1 70-1 4-1 4 0 3 1 1 0 1 0 3 1 1-1 1-1 0 2 1-2 74 2 13-1 7 0 3-1 67 0 2 1 1 1 2 0 0-1 2 0 2 0 3-1 0 1 2 1 0-1 4 0 2 1 76-2 6 0 2 0 2 0 1 1 1 1 2-2-376 5 3-2 9 1 4 1 67-2 2 1 0-1 4 0 5 1 2 0 2 1 4-2 1 1 2 0 1-1 71 2 0-1 1 0 5-1 2 2 4 0 1-2 1 0 1 0 2 2 5 0 68 0 6 0 1-2 6 1 1 1 2-1 0 0 1 0 2 0 0 1 2 0 1 0 0 0 1-2 77 0 0 0 1 1 3-1 2 2 2-1 7 1-562 3 174-1 3-1 19 0 72 2 1 0 1 0 0-2 4 2 0-2 1 1 3-1 9 2 71-2 1 0 4 0 1 0 0 0 2 1 1 1 1 0 0-1 2 0 0 0 2 1 1-1 2-1 0 1 0-1 1 1 1 1 74 0 4-1 0 0 9 1 1-2 6 2 67 0 0-1 8-1 5 1-558 3 6 0 87 0 87 0 9-1 86 2 2-1 0 0 4-1 1 2 4-2 0 1 2 0 2 1 4 0 67-1 0-1 1 1 7 1 0-2 2 0 0 1 2 1 3 0 1-1 9-1 76 2 1-2 4 0 4 1 3 0 0-1 1 1 82-1 1 0 2 0 1 1 8-1-566 3 10 0 75 2 3-2 15 1 71 0 7-1 86 0 2 0 2 0 0 0 0 2 3 0 6 0 1 0 3-1 2 1 74-2 3 2 8 0 3-2 77 0 4 1 11 0 2-1 2 1 0-1 1 1 71 1 1-1 2 0 0-1 7 0 0 2 9-1 3-1 2 1-666 4 91-1 0 0 6 0 13 0 80-1 10 0 78 0 2 2 3-1 8-1 76 2 8-2 4 1 0 1 1 0 78 0 2-2 4 0 0 2 3-2 7 1 2 0 79 0 1-1 3 1 4 1 1-2 3 0 4 0 70 2 11 0 1 0 1-1 2 0 4 1 6 0-663 3 91-2 0 1 5-1 194 1 75 0 0 1 2-1 4 0 2 0 1 1 0 0 3-1 1 0 0 1 1-1 0 0 2 0 1 1 79-2 1 0 1 1 0-1 4 0 2 0 6 0 1 1 2 0 2 0 69 0 2 0 5-1 9 1 1-1 4 1 1 1 72-1 12 0-563 3 5-1 12 2 73 0 1-2 0 1 17-1 75 0 13 1 76-1 6 0 5 0 0 1 1-1 80 2 8-1 0 1 5-2 3 1 1 0 4 1 0-2 2 0 71 0 1 2 1-2 2 0 0 1 0 1 1-2 0 0 1 1 1-1 2 2 81-2 13 1 1 1 0-2 1 0-657 3 18 2 2-2 83 2 83-2 103 0 1 0 83 1 3-1 3 2 2-1 3 1 0-2 4 2 1-2 70 1 3-1 2 1 2 1 4-2 0 1 1 0 7 0 2 0 74 1 5-1 3-1 4 1 1 1 4-2 1 0 75 1 9 0 3 0 1 0 3-1 1 2 2-1-667 2 1 0 6 2 2-2 6 2 77-2 104 2 80-2 12 0 81 0 3 2 3-2 1 0 5 1 0 0 5 1 2-2 79 2 0-2 5 2 5 0 3-1 0-1 1 0 1 2 0 0 69-1 2 0 0-1 2 0 8 0 10 2 78-1 5 0-651 4 12-2 4 0 84 0 8 2 73-2 2 0 0 2 2 0 85-2 5 1 3 1 0 0 84-2 2 0 1 0 0 1 5 1 3 0 2-1 2 1 2-1 76 1 1 0 1-2 2 0 1 2 8 0 84-1 2-1 87 2 0-2 10 0 1 0 6 0 4 1-659 2 17 2 68 0 11-2 6 1 74 0 20 1 0-1 1-1 0 1 70-1 6 0 5 1 3 0 3 0 3-1 1 1 81 1 1-2 2 2 0 0 1 0 0 0 2-2 1 2 1 0 2-1 4 0 0 0 67 1 3 0 3 0 2 0 4 0 6 0 4 0 0 0 0-2 3 1 71-1 4 2 4-1 3-1 6 0 2 0 70 1 7-1 0 1 2 1 1 0-648 2 17-1 81 2 3 0 79 0 95-1 0-1 0 2 4-2 2 2 1-1 1 1 2 0 6-1 74-1 4 0 2 0 2 1 3 1 0-2 1 2 7 0 70-1 0 1 9 0 0 0 5-1 1 1 5-1 2 1 2 0 69 0 1-2 0 2 9-2 2 0 4 1 4-1 2 1 71-1 2 1 0 1 1-1 0 1 2-2 5 2 3-2 4 1-643 2 81 2 83-2 2 2 1 0 6 0 14 0 69-1 6 0 1 0 3 1 3 0 3-2 2 2 4 0 69 0 4-1 4 1 3-1 0 1 0-1 1 1 0 0 2 0 1 0 5-1 2 0 1 0 1 1 71-1 0 0 7 0 1-1 0 0 2 0 5 0 3 1 1 0 2 0 1-1 68 2 2-2 4 0 2 0 4 2 3-2 76 0 7 1 1-1 7 0 6 0 4 2-664 2 9 0 2 0 9-1 67 1 3 1 2-1 4 0 8 1 4-1 2 1 73 0 8-1 5 1 81-1 0 0 1-1 1 1 1-1 2 0 2 1 2-1 2 2 2-1 1 0 2 1 4 0 68-2 3 1 1 0 2-1 1 1 4 1 8-1 3 1 68 0 10-1 2-1 2 1 2 0 4 1 2 0 70-1 7-1 1 0 1 2 1-2 1 1 7-1 2 0 5 2 66-1 14 1-655 2 2 0 0 0 7 1 4 0 5-1 1-1 77 2 2-1 1-1 2 2 1 0 0-2 6 1 1-1 5 2 1 0 71 0 2 0 3-1 4 1 3-2 1 0 1 2 4 0 0 0 4-1 68-1 2 1 0-1 8 0 1 0 1 2 0-1 1 0 3-1 0 0 2 2 4-2 1 0 1 0 66 2 10-1 2 0 3 0 4-1 1 0 1 1 0 0 0 1 2-1 0-1 1 1 71 0 1 1 0 0 1-1 2 0 0 0 4 0 3 1 1-2 0 2 3-1 2 1 2-2 1 1 70 0 2 1 3-1 1 0 3 0 4 0 1-1 2 2 7-2 77 1 8 1 0-2 5 0 1 1-666 3 5 1 1-2 3 1 2 1 3-1 1 0 6 1 1-1 72 0 0-1 0 2 0-2 3 0 2 2 3-2 1 0 1 1 5 1 0-2 2 2 1-1 3 1 3 0 70-2 1 2 1-2 1 2 7 0 2-2 1 1 0 1 2-1 1 0 80 0 2-1 1 2 1 0 0 0 81-2 1 1 2-1 2 2 5-1 3 1 7 0 78 0 0-1 7-1 2 0 5 0 1 1 2-1 69 0 3 2 2-2 8 2 1-2 6 2 2-2 68 1 9 1 3-2 2 2 1-2 2 0 7 1-667 2 4 0 0 1 2 1 3 0 0 0 2 0 3-1 0 1 1 0 7-2 0 1 1 0 2 1 69-1 3-1 2 0 1 0 1 2 6-1 2 1 3-1 1 0 3-1 1 2 69-1 2 0 4-1 4 1 1-1 2 1 6 0 1-1 1 0 69 0 0 1 1 1 5 0 3-1 1 1 2-1 2-1 5 0 0 0 72 0 4 1 9 0 0 0 3-1 76 0 1 2 1-2 1 0 1 0 1 0 4 1 0 0 4 0 2-1 2 1 1-1 6 1 71-1 1 0 7 0 3 0 3 1 4 0 3 1 69-2 2 1 6-1 2 1 9 0-659 3 10-1 0 2 2-2 2 0 1 2 3-2 1 0 1 2 70 0 1-2 1 1 5 1 1 0 3-1 2 0 1 1 1-2 2 1 73-1 4 0 0 1 1 0 3-1 1 2 0 0 6 0 2 0 2 0 79-1 0 1 1-2 2 0 1 2 9-1 1 1 79-2 4 0 1 1 9 1 2-1 0-1 0 0 68 1 3 1 9 0 0-2 3 1 2 0 1 1 2 0 3-2 1 2 71-2 2 1 4 0 0-1 8 2 4-2 4 2-571 3 5-1 1 0 2 1 2-2 2 2 2 0 1-1 2 0 3 1 0-2 69 0 6 0 6 0 2 1 2 0 1 1 84-2 4 0 2 2 2 0 2-2 71 0 8 2 2-1 2-1 5 0 1 2 3-2 2 2 1-1 1-1 75 0 3 0 1 2 0 0 1-1 3 0 6 0 0 0 1-1 70 2 3 0 0-1 2 1 3 0 1 0 0-2 4 1 5-1 0 0 2 2 72 0 1-2 6 2 1-2 1 2 4-2 2 2 0-2 1 2 3-1 2 0-563 2 4 0 0 0 1 0 1 0 0 0 0 0 4 0 2 0 70 0 9 0 0 0 5 0 1 0 3 0 3 0 2 0 1 0 68 0 8 0 1 0 3 0 0 0 1 0 0 0 2 0 0 0 3 0 0 0 1 0 72 0 1 0 4 0 5 0 3 0 1 0 5 0 6 0 0 0 0 0 67 0 2 0 1 0 2 0 2 0 0 0 10 0 3 0 0 0 2 0 1 0-401 94 0 2 1 2 18 3 6-1-19 3 4-1 1 0 13 2-18 3 11-2-17 3 6 0 8 2 9-1-11 3 11 0-24 2 5 0 3 2 8 0 1-1-13 2 1 2 15 0 6-1-24 4 6-1 9 1 8 0-4 1 3 2 1-1-25 2 3 2 2-1 0 0 1-1 3 0 1 1 6 1 0-1 1 0 1-1 4 1 1-1-20 4 6 1 7 0 3-2 7 1-25 4 2 0 3 0 0-1 0 1 2-2 0 2 4 0 1-2 0 0 7 1 4-1-15 4 1 0 0 0 7 1 7-1 1 0 1 0 0 1-13 2 0 1 3-2 2 1 3-1 0 1-21 4 3-1 1-1 0 0 5 0 3 0 1 1 1-1 5 2 1-2 3 2 3-1-19 4 8-1 3 1 1-2 0 0 3 2 0 0 1-1 1 1 1-2-18 4 0 1 1 0 7-1 3-1-17 3 5 1 4-1 2 0 3 0 2 0 3 0-19 5 8-1 3 1 1-2 4 1 4 1 3-1-22 4 1 0 1-2 2 0 8 0 5 0 5 1 1 1 0-1 1 0-25 2 1 0 2 2 11-1 1 0 5-1 2 1-20 3 10 1 4 0 2 0 2-1 2 0 2 1-23 2 1-1 2 1 7 0 1-1 0 1 1 0 4 0 8 1-26 2 3 1 4-2 5 1 4 0 0-1 5 2 0-1 3 0-23 2 1 0 1 2 3-1 3 0 2-1 1 2 1-2 4 0 1 0 5 2 1-2 75 0 18 0-114 5 8 0 2 0 8 0 0-1 1-1 1 2 73 0 1-1 5-1 0 2-99 2 3 0 7 0 0-1 1 0 0 2 5-1 1-1 3 0 74 2 15-2 3 2 1 0-93 2 0 0 3-1 0 0 67 1 4 0-97 3 5-1 1 2 2-1 8 1 2-2 0 2 7-2 70 2 4 0 18 0-115 1 3 0 0 0 6 1 1 1 0-2 0 2 2 0 6 0 78 0 3 0 2-1 7 1 1-2 0 0 6 0-113 3 2 2 7-2 9 2 81-1 7 0 4 0-102 2 3 0 1 1 0 0 8-1 1 0 77 2 9-2 8 2-118 1 3 2 4 0 1 0 2 0 4-1 5 1 2-2 1 0 86 2 5-2-110 5 3 0 1-2 2 0 4 0 0 0 1 0 1 1 8 0 71-1 18 2-113 1 9 0 2 0 6 1 1 1 2-2 3 2 3-2 71 0 16 2 6 0-113 3 3-2 3 2 1-1 9 0 0 1 73-2 0 1 5 0 13 0 1 0 2 0-113 4 3-1 1 0 0 1 3-2 6 1 1 1 1 0 8-1 71 0 10 0 7 0 1-1 2 1 0 0-116 3 3 1 3 0 3 0 8-1 0 1 4-1 1 0 0-1 72 2 1 0 1-1 4-1 5 1 5 1 2 0 0 0 1-2-114 4 1-1 4 1 0 0 9 0 6-1 2 1 0-1 2 2 70-2 5 1 2 0 6-1 5 1 4 0 2-1-118 4 2 0 5 0 3-1 0 2 6 0 6 0 1-1 3-1 80 0 3 1 7 1 1 0-109 3 0-1 2-1 0 0 1 2 3-2 0 0 5 0 2 2 0-2 0 1 74 0 2-1 2 1 1 1 4-1 4 0 0 1 4-1 1 1 6-1 77 1 14-2-209 5 0-1 10-1 0 0 1 1 1-1 8 0 5 1 68 1 2-2 1 2 5 0 1-1 1 1 1 0 2-1 4-1 1 0 1 1 3 0 2 1 78-2 5 2 2-2 5 2-208 2 1-1 6 2 4 0 7-1 3-1 76 0 10 2 4-2 2 1 4-1 70 2 1-1 3-1 6 2-195 2 1-1 6 1 2 1 6-2 1 2 1-1 6 0 0 1 71 0 2 0 1 0 1-1 0-1 1 1 4 1 0-2 2 2 1-1 4 1 3 0 74-1 5 1 5-2 4 2 3 0 3-1-199 3 3 0 6 1 1-1 3 1 2 0 70-1 0 1 2-1 0 0 3-1 2 0 2 2 0 0 14 0 70 0 0 0 3-1-190 2 3 1 4 1 5-2 0 0 4 2 4 0 3-1 2 1 73-1 2-1 9 2 1 0 6-1 1-1 1 2 75-1 12 1 6-1-210 2 1 2 0 0 0 0 8-2 12 1 1 1 0-1 71 0 0 0 2 0 2 1 5-2 1 2 14 0 68 0 1-1 2 0 7 0 5-1 0 0 4 0 4 2 0-2 0 0-208 3 7 1 1 0 3 0 1-1 2 0 1 0 6 1 1 0 73 1 1-2 2 0 6 2 2-2 2 0 0 2 4-2 4 0 69 0 1 0 10 0 3 0 3 1 1-1 2 2 1-1 1-1 4 1 0 0-204 4 2-1 1-1 1 0 3 2 4-1 3 0 1 1 0-1 73-1 0 2 7 0 11 0 1-2 0 0 1 2 1-1 1 0 1-1 0 1 69 0 0 0 9 0 7-1 1 1 1 1 2-2-209 3 0 2 0 0 2-2 1 2 4-2 9 1 1-1 77 2 1-2 1 0 2 0 5 0 3 2 2-1 0 1 2-1 77-1 3 1 2 0 3-1 4 1 1 0 5-1 5 0 3 0 0 2-212 3 1-2 0 1 0 1 3-1 0 1 4 0 4-2 5 2 1-2 0 1 2-1 1 1 77 0 1 0 2-1 4 1 0-1 6 2 0 0 1-2 3 0 70 2 1-1 0 0 6-1 3 2 5 0 0 0 2-1 1-1 6 2 1-1 0 1 2 0-202 2 8 0 2 1 3-1 2 0 67 0 1 1 1-2 0 0 2 2 1 0 0-1 2-1 8 2 5-1 74 0 1 1 5-2 0 0 12 1 1 0 0 0 1-1 1 1 4 0-208 3 0 0 3 1 0 0 2 0 85 0 7-2 11 0 0 1 0-1 3 0 72 0 2 2 1-2 6 2 5-1 5 0 2-1 2 0-206 4 1 1 3-1 1-1 0 2 13-1 4 1 73 0 4-2 1 2 1-2 1 1 5-1 1 2 6 0 0-1 1 0 1 1 70-2 4 1 1 0 2 0 0-1 3 2 0-1 5-1 1 1 2 1 1-1 1-1-199 5 1-1 1 1 4 0 5 0 0-2 2 0 73 0 5 0 4 0 0 2 2 0 3-1 1 1 1 0 1-2 6 0 77 0 1 0 1 0 6 1 1-1 4 2-200 2 1-1 5 2 7-1 71 1 3-2 0 1 0 0 4 0 0 0 1-1 0 1 1-1 9 2 1-1 0-1 1 2 74-2 0 1 3 0 6 1 9 0 3-1 1-1 2 2 76 0-285 2 2 0 5 0 1-1 0 1 2-1 8 1 2 1 72 0 3 0 6-1 2-1 4 2 5-2 3 1 68-1 1 0 3 0 1 1 3 0 18 1 68-2 2 2 14-1 3 1 1-2 1 2-297 3 3-2 0 2 1-2 2 2 1 0 3-1 3 1 1 0 4-1 72 1 0-2 3 1 2 1 1 0 1 0 0-2 3 1 2-1 1 1 3-1 5 1 2-1 73 1 0-1 10 0 2 1 2 1 1-1 0 0 3 1 2-2 0 1 3 1 68 0 12-2 5 0 1 1 1 0 5 1 1-1-302 3 3 1 1-1 3 0 0 0 0 1 1-2 0 0 3 1 2 0 5 0 2 1 74 0 2 0 5-2 2 2 8-1 1-1 2 1 0-1 71 2 0-1 1 1 2 0 1-1 0 0 3 0 1-1 3 2 3 0 3-2 2 1 2-1 71 0 2 0 2 2 2 0 2-1 1-1 1 2 1 0 7-1-293 4 1 0 7-2 7 0 5 2 0 0 68-1 3 1 4 0 0-2 0 1 2 1 5-1 3-1 1 1 3 1 1 0 3-2 69 1 4 1 0-1 0 0 3 1 7-2 1 2 3-2 6 2 75-1 2 1 2-1 1 0 5 1 2-2 0 1 7 1-306 3 2-1 0-1 2 1 0 1 4 0 3-1 0 1 8 0 2 0 2-2 2 2 70 0 7 0 1-2 1 0 2 2 0 0 3 0 0 0 7-2 71 2 2-2 1 2 1-1 4 1 2-2 2 0 2 0 1 0 4 1 1 1 3 0 77 0 0-2 5 2 0-1 2 1 3 0 2-2 5 2 1 0 0 0 0 0 1-2 0 2 0 0-213 3 1 0 1 0 1 0 2 0 5 0 0-2 4 0"/>
<path class="b" marker-start="url(#mb)" marker-mid="url(#mb)" marker-end="url(#mb)" d="M1414 741l15 4 3-1-21 8 15-2 5 1-13 2 4 2 8-1 2 1 6-1-15 5 6 2 3 0-8 3 2 1 6 0-14 3 6 1-5 4 1-2 3 2 8 0 1-1 2 1-23 2 2 0 6 1 2-1 1 1 2 0 8-2-19 5 1 0 13 0 9 0-7 2 6-1-17 3 5 2 2 0 3 0 4-1 3 1-17 3 7-2 1 2 0 0 2-2 5 1 2 0 3 1-26 2 1 1 5-1 1 1 1 0 0-1 6 0 5 0 2 1 5-2-24 5 0 0 12-2 3 0 8 2-17 3 1-2 8 0 5 0 0 1 0-1-18 3 7 2 0-2 1 2 1 0 6-2 2 0 0 0 1 2-17 3 0-1 1 1 14 0 2-2-16 5 14 0 1-2 1 2 2 0-23 1 1 0 0 1 4 0 6 0 4-1 8 1-21 2 1 1 1 1 4-2 1 2 3 0 8-1-21 3 2-1 6 0 10 0-6 4 5 0 0-1 5 2-22 1 1 1 4-1 6 1 12 1-24 2 0 0 6 0 0 1 6-1 0-1 4 1 7 0-22 2 1 2 0-1 3 0 2 0 2 1 2-1 1 1 2-1 1 1 1 0 5 0 1-1 2-1-24 5 3-2 9 2 8-2 3 1 2 0 1 0-26 4 0-2 2 2 5 0 1 0 2 0 4-2 5 0 0 0 7 1 68-1 11 1-105 4 2-2 4 2 3-1 1 0 4 0 5 1 7 0-26 2 7 1 2-2 2 0 1 2 3-2 9 0 2 2 68-1 25-1-107 5 5-2 2 0 1 0 1 0 0 2 3 0 2 0 0-2 80 2-106 2 4 0 3-1 3 1 0 0 4 0 2 1 5-1 1-1 0 2 2 0 1-2 73 0 16 0 2 0-110 4 0-1 7 2 1 0 0-1 4-1 3 2 1-2 2 0 93 0-201 4 86 0 1 1 0-2 8 1 0 1 5-1 2 1 4-1 3 1 1-2 70 2 0-1 14-1 0 2 7-1-206 3 5 0 5 0 9 1 70-2 1 1 2-1 2 0 7 1 1-1 1 0 8 2 2-2 1 1 71 1 7 0 4-1 0 1 2-2 0 1 0-1 1 0 9 1-210 3 3-1 0 0 18 1 70-1 0 0 1 0 6 0 9 2 0-2 1 1 1-1 2 1 4 1 76-2 2 1 0 0 7 0 0 1 2-2 3 0 1 0 2 2 2-2-209 4 5-1 0 1 6 1 8-1 0-1 2 2 1-1 69 0 3 0 4 0 1 0 15 0 2-1 77 1 0-1 1 2 0-1 4 0 6 1 1-2 2 0 0 1 3 1 68 0 20-2-300 4 7 1 6-2 1 1 1 1 0-1 8-1 2 0 68 2 5-1 10 0 0 0 4-1 3 2 78-2 1 0 2 2 2-1 1-1 0 0 1 1 5-1 0 1 1-1 0 0 1 2 1 0 1-1 2 0 74-1 13 2 3-2 1 0-301 4 1 1 12 0 9-2 69 0 7 1 3 1 4 0 1-2 5 2 3-1 4-1 68 1 2 1 0-1 0 0 2-1 2 0 1 2 4-1 1 1 5-1 1-1 4 2 71-2 7 1 7-1 7 1 77-1 12 2 2-2 1 1-382 3 3 1 0-2 2 1 1 0 2 0 1 1 2-2 2 1 1 1 67 0 0-1 1 0 0 1 3-2 1 0 7 1 2 0 0 1 1-1 6 1 75-2 3 1 3 1 10-1 4 0 2-1 75 0 5 0 3 0 3 1 1-1 0 0 3 1 80 0 1 0 8 0-388 2 3 2 3-2 2 1 0 1 1 0 1-1 1 0 4 0 2 0 74-1 0 2 7-2 2 1 1-1 3 2 1-1 81 1 4-2 3 2 5-1 2-1 0 2 0-1 0 0 9 1 70 0 101 0-381 3 3-1 1-1 1 2 1-1 2-1 3 1 0-1 2 0 1 2 0-2 1 1 1-1 2 2 1-1 1 0 2 0 0 0 1-1 0 1 0 1 1-2 68 0 1 1 1-1 4 0 6 2 1-2 5 1 7 0 2 1 66-2 0 0 4 1 8 0 1 1 1-2 2 0 1 1 1 1 2-1 0 0 76 0 1 1 0-2 2 1 0-1 5 1 1 0 4 1 1 0 1-2 1 0 0 1 6-1 72 2 6-2 10 0 3 0 0 0-392 3 2 1 4-1 5 0 2 0 3 1 2-1 5 0 68 1 6 1 5 0 0 0 6-2 1 0 2 2 3-2 0 1 70 1 10 0 5 0 0-1 78-1 3 1 4-1 2 0 7 2 2-1 2-1 0 0 3 0 1 0 70 2 4-1 0-1 1 0 6 0 4 0 8 1-397 3 1 0 5 0 2 0 1-1 1 0 1 0 1 2 0-2 9 0 1 0 3 2 1-1 69 1 2-1 2-1 2 1 2-1 3 1 3 0 0 1 4-2 73 2 0-2 1 0 4 1 1 1 7-1 9 1 1-1 72-1 2 0 3 2 2-1 5-1 4 2 1 0 0 0 0 0 0-1 3 1 1 0 1-2 1 1 75 0 2 0 0-1 7 2 2 0 4-2 5 2-392 3 7-1 1-1 2 2 0-1 1 0 2 0 1-1 3 2 0-1 0-1 2 2 70 0 1 0 9-2 0 0 13 2 67-1 11 1 1-2 2 1 2 0 4 0 1 0 1-1 1 1 73-1 3 0 0 0 3 1 8 1 4 0 3-1 71 1 2-2 4 1 7-1 2 1 0 0 4 0 1 0 0 1-391 1 4 1 7 0 3 1 81 0 1-2 1 2 6-2 2 0 4 2 2 0 1-1 1 0 4 0 66 0 3 1 7 0 0 0 2-1 4 1 6-1 2 0 1-1 71 0 2 2 3-2 1 1 4-1 5 2 6 0 1-2 74 1 1 1 1-2 12 1 0 1 6-1-379 2 75 0 1 2 10 0 6 0 2-2 2 0 0 0 3 2 0-1 68 0 4 0 2 0 4 1 4 0 9 0 1-1 1-1 1 2 1 0 70-1 1-1 1 1 4 0 2-1 1 2 1-1 2 1 2-1 5-1 76 1 4 0 7 1 1-1 4-1 5 1-305 3 1-1 1 2 2 0 2 0 1-1 3 1 6-1 1 1 1 0 3 0 3 0 68 0 3 0 2-2 1 1 5 0 3 1 2-1 1 0 1 1 2-2 0 2 4-1 79-1 2 2 10-1 1 0 1-1 0 2 75-2 1 2 3-1 2 1 3 0 3 0 1 0 6-2-210 3 1 2 3-2 1 1 1 0 4-1 4 0 79 1 1 1 3-1 9-1 1 1 0 0 3 0 2 1 1-2 5 2 68 0 2 0 1 0 4-1 1 0 1-1 0 1 2 1 0-2 9 1 0-1 2 0 1 2 1-1-211 3 0-1 1 1 6-1 9 1 4 1 2-1 1 0 2-1 1 0 71 2 3-1 4 1 2-2 3 2 5 0 5-1 68 1 2-1 1-1 3 1 1 0 3 0 1 1 1-1 5 1 4-2 1 2 2-2-209 5 4 0 1-1 0 1 0 0 1-1 1 1 0-1 0 1 6-2 1 2 4 0 2 0 72 0 0 0 1 0 2-1 1 1 0 0 0-2 11 2 4-1 0 1 3 0 4-1 78-1 6 0 3 0 4 0 0 0 2 0-399 131 6-1 0 1 0 0 1-1 8 0 10 1-8 1 7 2-14 1 1 1 3 1 5-2-1 3-13 4 2-1 11 2-9 3 6-2-5 5 1-1 6 0-14 4 2 0 9 0 1-1-7 3 8 0 1 1 8 0-22 1 8 0 5 2 3-2 5 1-22 2 1 2 3-1 8 0 6 0-18 3 2 0 7 0 0 0 0 1 5 0 4-2 5 2 0-2-23 3 4 1 1 1 0-1 1-1 3 1 0 1 9-1 2 1 1-2-16 3 1 0 6 1 3 0 3 1 0-2 2 1 3-1-25 5 1-2 1 2 3-1 3 1 5-2 0 2-13 2 4-1 0 0 1 1 1 0 10 1 8-2 1 0 365 2-390 2 4-1 5 1 1-1 5 0 6 0 1 1 2 0-22 3 1-1 0 2 4-2 2 2 6-1 2 1 0-1 6 1 2 0 348-1-373 2 0 1 0 0 8 0 7 0 1 1 3 0 3-1 1 0 2-1 357 0 2 2 5-1-477 4 88 0 1 0 4-2 3 2 1 0 4-2 5 1 1 1 366-2-452 5 71-1 10 1 2-2 3 1 1 0 1-1 1 0 4 2 0-1 362 0-477 2 11 0 0 1 6 0 75 0 2-1 3 2 10-1 1 0 4 0 365 1-479 1 3 1 3 1 7-1 4 1 2 0 77-1 3-1 3 1 2 1 0 0 6 0 2-1 4 1 0-1 353-1 16 2-483 2 6-1 9 0 2 2 3-2 69 1 1 1 2-2 0 2 1-2 0 2 1 0 8 0 6 0 5 0 353-2 9 1 12-1-491 4 4 1 1-1 16-1 5 0 67 0 6 0 0 2 1-2 5 2 1 0 0 0 3 0 4 0 1 0 2 0-109 2 1-1 1 0 6 1 0-1 1 1 9 1 69 0 1 0 3-2 12 1 2 1 2-1 0 1 352 0-467 1 1 2 2-1 0 0 3 0 3 0 1 1 1 0 1-1 2-1 5 2 2 0 2 0 0 0 1 0 70 0 1-2 4 1 2 0 3-1 3 1 2 0 1-1 2 2 7-1 0 0 356 1 0-1 0 0-471 2 2 0 0 2 0-1 3 0 2-1 1 2 7-2 2 1 5 0 70 0 1 1 0 0 4 0 3-1 2 1 5 0 1-1 1 1 5-2 370 1 1 1-488 1 2 0 2 0 1 1 1-1 2 2 2-1 4 1 1-2 6 2 1-1 2-1 75 2 0-1 7 1 2-2 1 1 1-1 4 2 1 0 3 0 1-1 348 1 0-1 0 1 1 0 3-1 1 0 2 1 13-2 0 1 4-1 0 0-491 3 0 0 2 2 3-2 11 2 0-2 6 1 1 1 0-2 1 0 2 2 67-2 3 1 5 0 1 1 1-2 5 0 1 1 6-1 352 1 1 1 9 0 1-2 0 0 3 1 1 0 7 0 1 0 1 1-490 3 2-2 5 1 6 1 1 0 2-2 1 0 2 2 1-2 5 0 67 2 9-2 4 0 1 1 7 0 1 1 2-2 350 1 1 0 9 1 1 0 5-2 0 2 0 0 3-1 0 1 3 0 2-1-492 3 9 1 2-2 2 2 0-2 6 2 2 0 3-2 1 2 0-1 1-1 71 0 4 2 0-1 3 0 9 0 3-1 352 2 11-2 4 1 1-1 2 1 7-1-570 5 4 0 77-2 3 1 7-1 6 0 76 0 3 1 5-1 284 2 80-1 4 0 11 1 2-2-577 5 1-1 1-1 4 1 1 1 0 0 6-2 11 2 0 0 75 0 1-1 3 0 0-1 3 2 0 0 4 0 0-1 2 1 76-2 2 1 4 1 2 0 2-1 6 1 0-1 1 0 0 0 2 1 5-2 257 1 92 1 2-1 2 1 4 0 1-1 0 0 3 0 2 0 1 1 2 0 1-1 2-1 2 2-578 2 2 0 6 0 4 1 6-1 75 0 7-1 1 1 0 0 80-1 3 1 2-1 5 2 0-1 1 1 1-2 3 2 0-1 3 0 1 0 0-1 5 0 263 1 87 1 14 0 1-2 3 0 7 2-584 2 3-1 1 2 10-2 0 1 4 0 2 0 1 1 1-2 1 1 71 1 2 0 8-2 4 0 0 1 4-1 0 0 74 2 2-1 1 0 2 0 2 0 7-1 1 0 1 0 2 0 1 2 1-1 3 1 258-2 3 2 7-1 10-1 72 1 0-1 3 1 2 0 11 0 0 1 2-2-575 5 0-2 2 0 0 2 2 0 1-1 2 1 5 0 5 0 0-1 1 1 0-1 1 1 0-1 71-1 1 1 1 1 0-2 1 1 4-1 3 1 1 1 14-1 68-1 3 2 5-2 2 0 1 0 5 2 3-2 1 0 2 0 0 1 1 1 263 0 10 0 81-1 8 0 4 0 1-1 2 1 6-1-580 5 9-2 2 0 2 0 1 1 6-1 2 0 70 2 4-1 0 0 5-1 7 1 2 0 2 1 1 0 0-1 70 0 10 1 2 0 2 0 1 0 1-2 0 2 3-1 0 0 0 1 0-1 2 0 263 0 20 1 70-1 3 1 1-1 5 1 5-2 3 0 0 2 1-2 1 1 1-1 1 0 0 0 1 0 0 0-579 3 4 0 3 1 2-1 2 1 1 0 0-1 2 1 1 0 4 1 1-1 71 1 1-2 3 2 8-1 2 0 7-1 2 2 69-1 3-1 1 1 1 0 4 0 6 0 1 1 1 0 263-2 100 0 1 1 3-1 1 0 7 2 1-2 3 2 0-1-581 3 0 0 1 1 2 0 1-2 2 0 1 1 3 0 11 0 73 1 23 0 67-1 2 0 4 0 2-1 4 0 2 1 1 0 1-1 0 1 2 0 0-1 7 0 259 1 4-1 0 1 3-1 0 2 1-2 2 2 12-1 68 0 1-1 3 1 4 1 0-2 10 1 4-1 1 0 0 2 1 0-584 1 1 1 2 1 6-2 0 1 6-1 0 0 0 0 3 1 80-1 0 0 1 0 2 0 0 2 0 0 0-2 3 2 8 0 78-1 2 1 0 0 2-2 0 2 0 0 1-1 4 1 5-1 1 0 1 1 2-1 260 0 2 0 2 0 4-1 5 2 2 0 78 0 3-2 2 0 8 1 4 1 2 0 1 0 4 0-585 3 3-1 1 0 1 1 2-2 6 0 1 1 0-1 2 0 1 0 3 1 2 1 1-2 70 2 4-1 9-1 0 0 0 1 4-1 1 1 1 0 2-1 73 2 2-2 8 0 1 0 6 1 1 0 0-1 1 0 1 1 2-1 171 2 4-1 82 0 0-1 1 0 0 1 3 1 1-1 14 1 0 0 1 0 3-1 1 0 0 1 69-1 2 0 6-1 0 1 4-1 1 1 2 0 11 1-578 1 5 2 4 0 1-2 6 0 0 2 71-2 8 1 7 1 7-1 3 0 67-1 1 2 5-2 2 2 4 0 0-1 1 0 2 0 3-1 1 0 1 1 0-1 1 2 4-1 1-1 165 2 2-2 1 1 14 0 72 0 2-1 2 1 6-1 3 2 3-1 1 0 2 1 1-2 78 1 3 1 5 0 1-2 2 1 8 1-577 2 1-1 3 1 1 0 1 0 3-1 0 0 6 0 0 0 3 2 2-2 70 0 1 1 2 1 5-1 0 1 5-1 3-1 3 0 71 0 0 2 1-2 3 2 5-1 3-1 4 0 2 1 0 1 1-1 2 0 2 1 1-1 163 1 3-1 2 1 2 0 4-2 1 1 1 0 1 0 2 0 5 1 2-1 75 0 2-1 5 2 0-2 0 1 1 0 0 0 4 0 1 0 7 1 69-1 0-1 1 0 1 0 7 1 7 0 0-1 1 2 1 0 2-1 4-1-584 5 3-1 1 0 0 1 2 0 10-2 8 2 1-1 72 0 1 1 4-2 0 0 3 2 6-1 3 1 1 0 1-1 3 1 67 0 3-2 2 2 1-2 5 1 4 0 2-1 1 2 2 0 2-2 3 1 0 0 161 0 0-1 2 0 2 1 3 1 1-1 0-1 1 1 2-1 3 0 5 2 0-1 1 1 5-2 1 2 72-1 1 1 1-1 2 1 3-2 3 1 2 1 1-2 0 2 1 0 0 0 1-1 0 0 0 1 2 0 72 0 1-1 2 1 1 0 4-2 7 0 0 0 4 1 2-1-577 3 9 2 2 0 0-1 2 1 1-1 1-1 2 1 3 0 1 0 73 0 0 1 4-2 2 1 5 1 3-2 2 1 1 0 72-1 4 0 1 0 2 0 0 2 1-2 1 1 7 0 3 1 1-2 173 1 6-1 1 0 12 2 0 0 70-2 7 0 2 2 4-2 1 0 8 0 75 0 2 1 2 0 1 0 14 0-677 4 18 0 85-1 5 0 2-1 3 1 3 0 0-1 1 1 75 0 2 1 2-2 1 1 2-1 6 2 2 0 1 0 2 0 1-1 71 1 0-2 1 1 2 1 0-1 4 0 2 1 1-2 9 1 168 0 0 1 1-1 3-1 3 2 6 0 77 0 2-2 5 0 4 1 2 1 4 0 0 0 1-2 2 1 4-1 0 2 1-1 68-1 3 2 6-1 2 1 5-1 1 0 3 0 3 0 1 0-674 2 1 1 3 1 2 0 7-1 2 0 4 0 2 0 1 1 0-2 71 1 1 1 2 0 3-2 3 2 9-1 0-1 0 1 1-1 73 0 4 1 1-1 5 1 6 0 79 1 1 0 0 0 0-1 3 1 1-2 2 0 0 0 3 0 1 2 2-2 1 1 2 1 167-1 2 1 1-1 3-1 4 1 6-1 4 1 3-1 1 2 1-1 1 1 68 0 5-1 1-1 7 0 0 2 1-1 1 0 2 1 0-2 3 0 1 0 0 1 4-1 68 1 2 1 3-1 12 0 1 0 1 0 2 0-666 3 0 1 6-2 2 1 0-1 4 0 3 1 2-1 79 0 3 2 1-1 2 1 2-2 1 1 1-1 1 1 1-1 2 0 0 0 0 0 69 2 3 0 0 0 11-1 3-1 2 2 0-2 1 0 0 1 1 1 5-1 67 0 1 1 0-2 5 1 1-1 1 2 1-1 9-1 75 2 2-1 6 0 1 1 0-1 2 0 2-1 10 1 2 0 0 0 69 0 0-1 6 2 2-2 1 2 2-1 5 1 1-1 5 0 0 0 3 0 72-1 6 0 2 1 3 1 0-2 1 1 3 0 2 0 1-1 3 1 69 0 3 1 3-2 3 2 1-2 13 1-677 3 1 1 2 0 5-2 0 0 1 2 2-2 1 1 0 1 1-1 1-1 3 2 2 0 1-1 4 1 76 0 4-2 6 1 0-1 5 1 0 0 1 0 1 0 70 1 1 0 3-2 0 0 2 0 5 0 3 1 7-1 77 1 2 1 6-1 3 1 7-1 0 1 2 0 76 0 1 0 4-2 5 2 4-1 3 1 1-1 68 1 1 0 2 0 6 0 2-1 5 0 6 1 1-2 71 1 6 1 1-1 2 1 0-1 3-1 7 1 3-1 1 2 1-1 68-1 8 1 1-1 0 1 4-1 5 1 2-1-672 3 5 0 2 2 9 0 1-1 0-1 1 1 0-1 0 0 2 0 1 0 2 2 0-2 1 0 70 1 2-1 3 0 2 2 1 0 1-1 1 1 4 0 3-2 1 0 3 1 1-1 0 2 2-2 72 2 0-1 6 0 0 0 7 0 1-1 0 0 5 2 82-1 0 1 1 0 2 0 5-2 1 1 1-1 71 1 2-1 1 1 5-1 3 2 3 0 5 0 4-2 1 2 1 0 68-2 2 1 2-1 5 2 6-2 0 1 6-1 2 2 2 0 73-2 1 0 10 1 1 1 0-1 1 1 1 0 2 0 3 0 1 0 0-1 1 1 69-1 1-1 3 1 2 0 3 0 3-1 3 1 7 0 3-1-671 4 1 0 8 0 0-1 6 0 1 1 1 0 1 0 75 1 1 0 13-1 2 1 74-2 2 0 5 2 5-2 5 2 1-1 0 0 4 0 74-1 2 0 0 0 2 0 1 0 9 0 2 0 2 0 68 1 3 0 8 1 0-2 1 0 0 1 0 1 1 0 3-2 1 0 1 2 1 0 8 0 0-2 67 2 1-2 2 1 4 1 0-1 1-1 2 0 3 1 1-1 0 2 2 0-481 2 1-1 3 0 3 2 1-2 2 2 6-2 0 0 2 0 1 0 4 2 71-1 0 0 1 0 5 0 5-1 3 1 1 0 4-1 1 0 2 0 73 0 4 0 0 0 7 0 2 0 169 0 1 2 2-2 8 0 2 0 1 1 9-1 1 2 0-1 1 1 1 0 0 0 0-1 68 1 3 0 0 0 1-2 9 2 11-2-488 3 1 0 5 0 3 0 0 0 2 0"/>
<path class="b" marker-start="url(#mbd)" marker-mid="url(#mbd)" marker-end="url(#mbd)" d="M262 186l3 17 15-1-21 4 7-1 14 3-9 2 8 4-21 2 22 1-14 3-87 3 4 5 4 2 91-1-104 2 97 0 3 0-95 5 8 0 71-1 101 0 4 1-194 2 1 0 11 0 3 1 6-1-3 3 180-1-189 5 85 0 1-1 5 0 105 0-185 3 168-1 12 2-200 2 19 0 70-1 22 0 81 0 1 0-193 4 8-1 105 2 84-2-196 5 105-1-103 4 0-1 6 0 13 0 77-1 84 0 6 2-186 1 97 2 4 2 11-1-112 7 7 0 3 0 9 0 92 1 87-2-197 4 181-1 14 2-199 3 7 0 4-1 187-1 182 0-379 5 6 0 9-1 265 0 9 0 97 1 0 0-386 2 0 0 1-1 1 2 0 0 1-1 3 0 4 1 3 0 9-2 159 1 0 1 98-1 11 1 2-2 4 0 82 2 3 0 1 0 3-1-382 4 11 0 3 0 257-1 90 1 5-1 1-1 0 0 4 1 3-1 5 0 1 0 3 1 0-1-388 3 4 2 2-1 3-1 2 2 0 0 1 0 4-1 8 1 85-1 81 1 0 0 1 0 0-1 106-1 72 0 1 2 5-2 3 1 1-1 3 1 7-1-386 5 12-2 7 1 80-1 176 0 4 2 11 0 71-2 2 1 0 1 2 0 2-2 5 1 7 0-373 3 0-1 1 1 7-1 2 1 72 1 103 0 3-1 93-1 0 2 85-1 1 0 4 1 1 0-381 3 0-2 3 0 2 0 2 2 4 0 7-2 73 1 14 1 5-2 2 2 75-1 91 0 1-1 10 2 75 0 4 0 4-2 3 2 1-2 5 1 5 0 72 0 18 0-459 4 8 0 67-2 1 1 1-1 8 2 0 0 1-2 1 1 11 0 76-1 7 1 168-1 1 2 1-1 13 1 4-1 3 1 1-2-384 3 3 2 9-2 5 2 69-2 1 0 4 0 3 0 1 1 1 1 6 0 6 0 0 0 1-2 80 1 7 1 94-1 71 0 18 0 1-1 2 2 0 0 78-1 8-1 1 2 0 0 3 0 1-1-463 2 3 0 2 1 71-1 0 0 20 0 5 2 157-1 4-1 3 1 12-1 76 0 2 1 2 1 1-2 5 1 2-1 4 2 2-1 71 1 6-2 0 2 5 0 3-2 4 1 2 1 0 0-477 2 5 0 11-1 3 0 1 0 2 1 68 1 6-1 8 1 1 0 1-1 3-1 5 1 1 1 84-2 87 1 11 0 67-1 0 1 5-1 0 1 4 1 5-1 82-1 6 0 1 2 6 0 2 0-462 2 5-1 0 2 1 0 4 0 1-1 66 1 2 0 2 0 1-2 6 2 1 0 3-2 2 0 5 2 0-2 71 2 7 0 9-1 74-1 2 1 2 0 15 0 85 1 5-2 2 1 3 1 91 0 1 0-479 3 15-2 2 0 1 0 3 0 77 1 3 1 5 0 3-1 6 0 0-1 69 1 5 1 99 0 83-1 3 0 1-1 3 1 3 1 5-2 3 1 69 1 6-2 2 2 6-1 5-1-476 5 4-1 9-1 1 1 77-1 0 0 2 1 8 1 0 0 5-1 77-1 0 1 97-1 89 2 2-2 13 1 70 1 3-1 3-1 2 2 4-1 3 1 3-2 6 0 75 2 1 0-555 3 5-2 5 0 0 1 2 0 2 0 6 0 78-1 7 2 0-1 2 1 2-2 7 2 0 0 0-2 73 1 4-1 6 0 1 1 5 0 73 0 8 0 79 1 9-1 8 1 1-2 77 2 6-2 0 1 2-1 2 1 1-1 0 0 4 2 1 0 2-2 70 2 17 0-560 1 10 0 7 2 1-2 0 2 2-1 66 1 3 0 7-2 7 0 0 0 1 0 4 2 3-2 71 0 5 2 7 0 0 0 74 0 10-1 2 1 1-2 6 2 6-2 67 1 10 0 11 1 3-2 70 1 4 0 2-1 1 1 1-1 3 1 2-1 1 1 1 0 5 1 70-2 1 2 1 0 3-2 3 2 3 0 8-2 3 1-571 3 1 1 17-1 72 0 7 0 1-1 12 0 3 0 3 1 68 0 4-1 7 1 5 1 3-2 2 2 74-1 0-1 3 1 1-1 0 0 1 2 0-2 0 2 1-2 6 2 0 0 1-1 4 0 71 1 5 0 2-1 2 0 3 0 0 1 1 0 4 0 74 0 3-1 1 0 6-1 1 0 4 0 5 1 74 1 0 0 8-2 2 2 8-1-564 3 2 0 4 0 5 0 74-1 5 0 3 0 5 2 0 0 4-2 0 2 1-1 5 0 74 0 9-1 0 1 2-1 2 2 1 0 0-2 71 0 7 0 4 2 2 0 2-2 8 0 78 1 0 1 1 0 0 0 0-2 2 0 1 1 3 0 2 0 73-1 8 0 0 0 5 2 2 0 2 0 4-2 3 2 66-1 9 1 4-1 1 1 1-1 7 1 0-1 69-1 5 1 0-1 6 2 4-2 0 2 1-1 5 0-655 4 0-1 22-1 0 0 69 0 1 2 1 0 11 0 1-1 3 1 1-2 73 1 3 1 0-2 1 1 2 0 0 0 3 1 2-2 2 1 1 1 6-2 68 0 9 2 0 0 4-1 4-1 76 0 4 1 11-1 0 1 77 0 0 0 7 1 13-1 69-1 12 2 9-1 77 1 1-1 1 1 1-2 1 2 0-1 0 0 1 1 5-2 1 0-656 3 3 1 5 1 1-1 3 1 3-2 1 2 1-2 4 1 1-1 1 2 68-2 2 1 2-1 1 2 11-2 1 0 2 1 4-1 68 1 2 0 6-1 9 0 7 1 69 0 8-1 0 0 2 0 6 2 5-2 68 1 4-1 2 2 12 0 4-1 71-1 4 2 0-2 2 1 1 0 9-1 3 0 4 1 0-1 66 1 8 1 3-1 5 1 2-1 5-1 1 1 1-1 66 0 0 1 5-1 14 2 3 0-657 1 4 2 8 0 9 0 72-2 5 1 3-1 1 2 5-1 3 0 1 0 71 1 9-2 1 0 6 2 1-2 2 0 3 2 1-1 0-1 70 1 1 0 4-1 3 1 6-1 3 0 81 1 0 0 4 0 8 0 2 0 86 0 2 0 74 0 0 0 11 1 5-2 4 1 67 0 1-1 5 0 5 1 1 0 10-1 3 1-658 2 90 1 2-1 0 1 9 0 1 0 5 0 75-1 10 0 6 1 4 0 76-1 1 0 1 0 1 1 2-1 6 0 2 0 1 0 1 0 165 1 1 0 0 0 11 0 3 0 162-1 9 1 4-1-13 74 15-2-9 4 1-1 10 1-14 4 1-1 7 1 4-2-16 8 4 1 2 0 6 0 2 2 8 0-20 3 6-2 12 1-21 2 5 2 15-1 2-1 4 1-22 4 1-2 3 0 0 1 1 0 10 1-13 2 2-1 7 2-9 2 4-1-2 5 3-1-11 4 2 0 1-2 1 2 2-2 0 0 4 1 13 0-103 3 7 1 80 0 11 0 4-1 1 0-113 4 97 0 3-1 8-1 0 0 4 2-106 1 0 1 90 0 6 1 1 0 0-1 4 0 5 0 2-1 1 0-112 4 13 0 2 0 5-1 73 2 1-2 10 2 2 0 3-1-108 3 20-1 73 1 7 1-84 3 70 0 3 0 1 0 0-2 2 0 7 2-86 2 6 1 86 0 2-1 1-1 0 0-22 5 16-2 3 0-109 5 9-1 1 1 8-1 2-1 1 2 2-1 67-1 13 1 7 1-101 3 0 0 4-2 2 2 0 0 1-1 7 1 86 0 0 0-110 2 2 1 7 0 8-2 1 2 75 0 7-1 2 0 3 0 10 1-111 3 10-2 7 1 1 1 0-1 77 1 0-2 1 2 4-1 2-1 4 2 1-1-97 2 0 1 6 0 78 0 7-1 2 0 1 0-107 5 6 0 3-2 1 0 8 0 1 1 2-1 0 0 71 2 2 0 0-1 10-1 2 0 1 0 1 2-95 1 2 2 4-2 2 1 69-1 2 0 4 2 5-1 11-1-110 5 1-2 3 0 4 0 2 2 2 0 8-1 71-1 0 1 5 1 9 0 4-1-104 2 2 2 3 0 1 0 1-1 1 1 75-1 4 1 1-2 0 0 10 2 0 0-106 3 3-1 5 0 1 0 5-1 2 1 1 0 3 0 77 0 6-1 5 0 2 1-109 3 12 1 2 0 5-1 2 0 70 0 7-1 0 1 2 1 1-2 1 1 2 1 3 0-103 1 3 0 5 2 10 0 2 0 0-1 67 0 1 0 5 1 3-2 2 1 0 1 3-1 0 0 4-1 0 0-103 5 0 0 6 0 0-1 1 0 94 0-104 2 11 0 1 1 2 1 74-2 4 1 1 1 1 0 7 0 10-1-385 2 270 1 20 1 1 0 3-1 76-1 2 1 1 0 0 0 3-1 0 1 0 0 6 1-380 3 271-2 5 0 0 2 6 0 2 0 9 0 66-2 9 1 2 1 5-2 3 0-106 5 3-1 1-1 3 2 1 0 2 0 3-1 1 0 4-1 76 1 10-1-361 5 2-1 256 1 8 0 91 0 5 0 1 0 3-2-375 5 11-2 252 0 2 0 1 1 1 1 12-1 7 0 69 0 2-1 0 2 13-2 3 2-103 1 5 2 2-1 1 1 81 0 1-1 6-1 1 1 8 0-383 2 5 2 6-1 8 0 256 1 3-2 5 2 6-2 3 2 2-1 71 0 11 1 8-1-370 4 264-1 2 0 3-1 3 1 9 1 68 0 4-1 4 1 15-2-385 5 5-1 16 1 248-2 3 0 2 0 9 0 0 0 3 2 1-1 7 0 66 0 19 1-364 2 4 0 257 0 6-1 10 1 86 1 5-2 1 2-373 3 1-2 259 0 0 0 4 1 5-1 0 1 8-1 0 1 2 1 3-2 1 0 70 2 8-1 11 0-465 4 85 0 271-1 5 1 3-2 2 1 8 0 73-1 10 0 3 2 2-1 2 0 3-1-476 5 108-1 4 0 251 0 8 1 6 0 2-1 3-1 77 0 10 1-466 3 8 0 359-1 1 1 4 0 3-1 3 1 1 0 0 1 3-2 78 2 1 0 4 0 1-2 2 2 2-2-470 4 85-1 282 0 86 0 20 0-466 5 90-1 5 1 255-2 4 2 5 0 8-2 77 2 19 0 0 0-468 3 0-1 87 1 10 0 7-2 252 0 0 0 24 0 84 1 3-1-455 4 71 0 9-1 1 2 1 0 4-1 2 1 3-1 258-1 2 2 1-2 11 2 5 0 72 0 8-2 0 0-468 4 3-1 5 2 3-2 4 1 78 0 7-1 5 2 4-1 259 0 14 1 3-1 1 0 2-1 76 1 1-1 9 0 5 0-477 5 1-2 10 1 11 0 77 1 0 0 1-2 0 2 0 0 4-2 1 0 9 1 248-1 3 1 0 0 1 1 2-2 3 0 2 1 5 1 0 0 0 0 3 0 74-2 3 1 2 1 3-1 5 1-465 2 9 1 82-2 5 0 7 0 1 2 2 0 4 0 1-2 253 1 5 0 2 0 2 1 6-2 4 2 80 0 2-1-368 3 1 0 1 1 7 0 260-2 8 1 2-1 6 2 72-1 13-1 3 2 5-2-476 5 1 0 2 0 1-1 7 0 76-1 11 0 6 0 2 2 253-1 6-1 7 2 10-1 71-1 4 0 7 0 2 1-463 3 1 1 3-1 9 1 71-1 19 1 4 0 249 0 5 0 0 0 88-1 9 0 3 0-469 4 6 0 4 0 1-1 3-1 8 2 86-1 8 1 249 0 4 0 6 0 14-2-388 4 12-1 2 1 1 1 1 0 5-1 72-1 4 1 9-1 0 1 5-1 4 2 1 0 0-2 0 0 248 1 2 1 7 0 4 0 5-1 0-1 1 0 1 2 4-1-384 3 7-1 9 1 70 0 0 1 1-1 3 1 5-2 2 0 0 1 2 1 11 0 1-1 249 1 1-1 6 0 3 0 5-1-379 5 5 0 3 0 2 0 3 0 7-1 72 1 3-2 2 1 19 0 166 1 11 0 1-1 2-1 1 0 70 1 9 0 8-1 0 0 3 0-386 5 1 0 2-2 4 0 7 0 76 0 5 1 4-1 6 1 3 0 0-1 164 2 8 0 0-1 0 0 3 0 0-1 2 1 1 0 3 0 1-1 2 1 0 1 1 0 3-1 72-1 6 2 1-2 1 0 3 2 1-1 3 0-465 2 13 2 69-1 0 0 0-1 3 1 2-1 2 0 2 1 4 0 8 0 72 1 4 0 4-1 3 0 102 0 70-1 7 0 2 1 2 1 3-1 1 0 3 1 70-1 5 1 2-2 2 2 8 0 0-2 1 0 0 1-567 4 1 0 6 0 1 0 6-2 0 2 0 0 83-1 0 0 2 1 0 0 1-2 0 0 3 1 7 1 86-1 6-1 1 1 5 1 74-2 1 1 2 0 3 0 2 0 4-1 71 2 0 0 0-1 1-1 0 2 2 0 2-1 0 0 5 0 86 0 3 0 8-1 2 2 4-1 73 0 4 1 0 0 2 0 4-1 4 1 1-2 2 1-567 2 1 1 1 0 1-1 0 1 1-1 0 0 1 0 2 0 1 1 1-1 1 1 1-1 1 0 2 2 1-1 0 0 1-1 0 2 1-2 0 1 2-1 1 1 0-1 0 1 1-1 2 1 0-1 1 2 67-2 3 2 0-2 2 0 4 1 10-1 80 2 1-1 2 1 14-1 0-1 0 0 1 1 69 1 7-2 3 2 11-1 71 1 1-2 1 0 7 1 2 0 7-1 2 0 0 2 66 0 1 0 0-1 3 0 1 1 4-2 0 1 8 1 3-2 0 1 2 1 69 0 6-1 9 1 5 0 4-1-571 4 5-1 1-1 2 1 5 1 5-2 76 0 4 0 0 2 4 0 2-1 1 0 6 1 3-1 71 1 8-2 3 2 2-2 0 0 6 1 74 1 14-1 4 1 78-2 0 2 0-1 1-1 1 2 2-2 6 2 78 0 5 0 6-1 3-1 73 1 16-1 7 0-567 3 5 1 5 0 2 0 0 0 1 0 4 0 3 0 69 0 1-1 4 1 3 0 1 0 5 0 2 0 1 0 1 0 0 0 6 0 66 0 2 1 4 0 4 0 0 0 3-2 6 2 4 0 67-2 0 0 2 0 2 0 5 0 3 0 2 0 4 0 5 0 1 0 1 0 0 0 71 0 3 0 4 0 11 0 2 0 69 0 3 0 7 0 1 0 5 0 6 0 78 64 11 4-7 6 1 0 4-1-10 5 14 2-14 4 12 2 3-2-22 7 6 4 10-1-12 2 0 1 8-1-14 3 4 2 9-2 2 1-10 4 8-1 2 1 0-1-6 3-5 3 1-1 0 1 3 1 6-2 7 1-19 6 9 1 1 2 103 4-113 3 12-2 4 1 80 0 1 1-92 2 8-1 6 2 82-2-100 4 11-1 0 0 3 1 81 1 12 0-92 2 83 1 10-2-112 4 5-1 5 2 9-1 76 1 6-1 1 1 1 0 12-1-110 4 0 0 2-1 86-1 7 2 2-1 10 1-98 3 6-2 88 0 0 2 2-1 6 0-113 3 18 0 77 0 8 1 0-1 7 0-106 3 3 1 4-1 1 1 1 0 1-1 1 1 78 0 2 0 2 0 10-1 2-1 1 0 0 2-113 3 16-2 78 0 8 1 6 0-181 2 88 2 0 0 77-1 17 0 5 1-197 2 93 0 14 0 0-1 70 0 3 0 3 2 7 0 1-1 8 0-207 2 25 2 70-2 3 1 15 1 72-2 3 0 10 1 0-1 7 1-191 2 81 2 4 0 7-2 7 0 0 0 71 0 5 2 4 0 3-1-194 4 11-2 78 2 1-2 9 2 2 0 12-2 1 0 70 0 3 0 4 1 7 1 2 0 3-1-192 3 4 1 0-2 2 2 2 0 70 0 3 0 1 0 0-2 5 2 8-2 2 2 5-2 0 1 68-1 1 2 0-2 3 0 3 2 8-2 1 2 8-2-204 4 6-1 4 2 5-2 2 0 4 2 70-1 1 1 2-2 8 2 3-1 1 0 3 0 89 0 6 0-195 2 9 2 72-1 2-1 5 2 0-2 4 1 4-1 79 0 5 0 4 0 4 0 3 0-201 4 8-1 3 2 11-2 68 0 2 2 4-2 4 0 3 1 2-1 7 2 2 0 68-1 1 1 1 0 4-1 4 0 7-1 2 2 2-1-199 4 10 0 0-2 83 1 11 0 5 1 70-1 3 0 1 1 2 0 2 0 1-1 1 0 3-1 9 0-202 5 6-1 4 0 7 0 72-1 2 1 3 0 9 0 5-1 71 2 2-1 6 1 8-2 0 2 2-1-202 2 12 0 0 2 5 0 1 0 88-1 0-1 1 0 3 2 75 0 1-1 2-1 14 1 1-1 4 0-203 3 7 0 9 1 75 1 2-2 0 0 2 0 3 1 12 0 1 0 0 1 68-2 2 1 6-1 16 1-192 2 7 0 2 1 77 0 1 1 1-1 4 1 4-1 5 1 67-2 3 2 12 0 7-2-277 4 75 1 1 0 10-1 5-1 1 2 3-1 2 1 71-2 4 0 9 2 92-2 6 0 0 2-188 1 75 0 0 2 1-2 12 0 1 0 5 2 70-2 7 1 4-1 2 2 5 0 0-2 1 0-291 3 4 0 89 1 10 1 79 0 2 0 13-1 2 1 2 0 1-1 73 1 1-1 5 0 11 0-286 3 86 0 5 1 8-1 2-1 2 1 5-1 67 0 16 2 2-1 0-1 0 1 79 1 2-2 4 2 2 0 0-2 4 2 5-1 1-1-292 4 8-1 89 1 8 0 1 1 71-1 2-1 4 2 3-2 8 0 2 2 5-1 69 0 7 0 2-1 12 2-292 1 95 1 9 1 2-2 73 1 8 1 1-1 1 1 1-1 7 0 2 1 1 0 72 0 0-2 3 2 4-1 0 1 10-2 0 1 3 0 0 0 1 1-204 1 0 1 1-1 3 0 2 0 7 0 2 0 75 2 0-2 4 1 2 1 13-2 1 1 75 1 0-2 1 1 4-1-372 5 111-1 70 0 4 0 1 1 18 0 79-1 6 1 6-1 70-1 0 2 7-2 2 2 8 0 1-1 2 1-364 1 160 1 3-1 5 0 7 2 3-2 1 2 76-2 6 1 2 1 4-2 2 0 0 2 2 0 3-1 74 1 2-2 2 1 1 1 4-2 3 0-359 4 162 1 7 0 0-2 7 2 3-2 1 1 70 1 2-2 6 2 2-2 1 0 4 0 4 0 74 2 9-2 2 0 3 1 0 0 7 1-375 3 7 0 3 0 86-1 78 0 2 1 4 0 1 0 4 0 2-2 0 2 1 0 3 0 69 0 1-1 2-1 10 2 2-1 1-1 5 1 72-1 1 2 5-1 7 1 0-2 1 0 1 0 6 1-387 3 6 1 176-2 3 2 3-1 0-1 2 2 1 0 1-2 87 1 7 1 1-2 2 1 3-1 1 0 73 0 1 0 6 1 4 1 4 0 3-2 3 2 1-2-465 5 89-2 3 2 85-1 6 1 9 0 77 0 9 0 2 0 74-2 7 0 0 2 5-1 1-1 2 2 3-1 2 0 69 0 6 1 2 0 5-1 1 0-471 4 6-2 85 0 8 2 4 0 85 0 2 0 6-1 1 1 4 0 73-2 2 0 2 2 5-1 4 0 1 1 2-2 3 0 72 2 10 0 9-1 0 0 1-1 1 0 72 0 6 0-530 5 72 0 9-2 2 2 5-1 84 1 81-1 5 0 6 0 1 0 6-1 1 0 69 0 6 2 5-1 7 1 0-1 4-1 74 0 11 2 1-1 73 1 5 0 2-2 5 1 0 0 5 1 5-2 0 0-569 5 6 0 6-1 92 1 95-1 76 0 0-1 0 0 1 0 5 1 1 1 1 0 5-2 9 0 84 2 1-1 77 0 2 0 2 0 1 1 3 0 80-1 1 1 1-1 2 1 2 0 5 0 4-1 2 1 2 0 2-2-561 4 5 0 0 0 8 1 2 0 72-1 2 0 89 0 3 1 8 0 1-1 0-1 4 0 72 1 4-1 8 1 1 0 0 0 7 1 1-2 3 2 68 0 6-1 6 1 1 0 0-1 0-1 4 2 3-1 1-1 69 1 6 0 3 0 10 1 89-1 5 0-477 2 17 1 2-1 74 0 4 2 5 0 2 0 5-1 1-1 5 1 71 1 11 0 3 0 5-1 79 0 13 1 83 0 1-2 81 1 1 0 3-1 5 1 1 0 2 1 0-1-559 3 11-1 81 1 3 0 2 1 3 0 80-1 1 1 9 0 4-2 0 1 4 0 78-1 3 1 0 0 3 1 3-1 1-1 75 2 4-1 1-1 0 2 1 0 3-2 0 2 4 0 1 0 1 0 3-2 1 2 0 0 1-2 1 1 67-1 1 2 1-2 8 0 7 2 3 0 72-2 6 0-548 3 6 1 3 0 2 1 79-1 1 1 2 0 1 0 6-1 4 1 1-2 2 1 3 1 70-2 5 1 5 1 0-1 1 1 6 0 79-1 86 0 8 1 80-1 5 1 4 0 0-2 9 0 3 1 71 1 8-1 1-1 1 0 2 0 1 2-643 3 7 0 1-2 5 1 82 0 2 0 1 1 2-2 3 0 72 1 3-1 6 0 13 2 68-1 1 1 3-2 1 2 2-2 8 2 1 0 4-2 0 1 1 1 3-2 0 2 67-1 1-1 10 0 7 0 86 1 2 1 9-2 68 2 5-2 1 1 4-1 1 1 0 0 9 0 2 1 68-2 9 2 8-2 0 1 2-1-654 5 5 0 5-2 82 1 11 1 4-1 80-1 1 1 15-1 68 0 1 0 6 0 2 1 2 0 7 1 78-1 2 1 4-1 7 0 0 1 76 0 5-1 1 1 13 0 1 0 0-1 75 0 0 1 4 0 86-2 6 1-645 3 2 0 2-1 84 1 2 1 0-2 6 1 1-1 5 2 1-1 2 0 1-1 2 0 1 1 68 1 3-2 8 0 2 0 5 2 1-1 1 1 73-1 0-1 1 2 1-1 0-1 15 2 0-1 74-1 12 0 1 1 1 1 3-2 0 1 3-1 73 0 2 0 7 0 4 0 0 2 0-1 1 1 5-1 0 0 2 1 73-1 4 1 2-2 11 1 68-1 2 0 6 0 9 1 5-1-660 5 6 0 7 0 4 0 1-2 3 2 2 0 2-2 0 0 73 0 3 2 0 0 3-2 2 1 0 1 4 0 2-2 2 1 3 0 66 1 8-2 2 2 2-1 5 1 7 0 72-1 1 0 18 1 69 0 1-2 11 2 1 0 0-1 2 0 81-1 16 1 69-1 2 1 4 1 7-1 2 1 1-2 6 0 0 0 75 0 2 0 9 0 6 0-658 3 1 1 9 0 2-1 3 2 4 0 2 0 1-2 71 0 6 0 3 2 5-2 3 2 1-1 2 0 73 1 5-1 4 0 3 1 73-2 0 0 9 0 2 0 1 0 4 0 5 1 69 0 4 0 1 0 8-1 85 2 9 0 6-2 72 1 4 0-551 3 1 1 1-2 1 1 1 0 6 1 2 0 89-1 0-1 1 1 6 1 3-2 1 1 2 0 69 0 91 0 5-1 7 2 1 0 7-1 2-1 70 1 89 1 2-1 1-1 6 1 2 1 1 0 80-1 2 0 13 0 0 0 1 0-563 4 4-1 1 0 3 0 3 1 1-2 6 2 1-1 3 0 69 0 1 0 4-1 3 1 3 1 8-2 0 0 1 1 70 1 0-2 5 1 1-1 3 1 2 1 6 0 1-2 2 0 3 2 75 0 0-1 8 1 6-2 2 0 66 1 10-1 6 2 8 0 69-1-456 2 2 0 9 0 1 0 3 0 6 0 90 0 2 0 74 0 5 0 5 0 6 0 1 0 70 0 15 0 1 0 8 0-279 104-14 1-5 4 4 1 14 0-17 3 12-1 3 1-19 3 9 0 14-1-13 4 5 0 1 0-16 1 5 2 11-2 5 2-16 3 2-1 7-1 1 2 5-1 5 0-4 4 0-1 1 1-1 2-17 2 8 0 2 2 2 0 2 1 1 2 4 0 2-2-23 5 5-2 2 1 4 0 7-1 4 0 343 2 7 0-370 1 11 2 9-1 358 0-381 3 4 0 4 1 14-1 2 1 340 0-361 1 1 2 12-1 0-1 3 1 364 0 5 0-382 2 11 1 348 1 8 0-373 1 7 0 9 0 1 1 361 0 9 1-387 3 2-1 3-1 4 0 5 1 0 0 3 1 0-2 5 2 2 0 341-1 11-1 0 1-372 2 0 0 4 0 1 2 7-2 2 2 4 0 345-1 5 1 3 0-367 3 0-1 5 0 7 0 0 0 4 0 349 1 2-2 5 2 0 0-374 1 3 2 0 0 13-2 1 1 351 1 4-2 0 1 0 1 2-2 5 2 1-1-383 2 5 2 0 0 1 0 2-2 9 0 352 1 7 1 0-2 1 1-379 3 4-1 2 1 9 1 6-1 2 0 355 0 5-1-382 3 5 2 0-2 363 2 12-2 4 1 1 0-387 4 18-2 85 2 261-2 9 1 4-1 9 1 2 1-382 3 4 0 3-1 2-1 2 0 5 2 1-1 0-1 68 0 0 0 12 0 5 0 265 2 4 0 3-1 7 1-387 2 0-1 0 0 3 2 2 0 12-1 5 1 70-2 5 0 1 2 274-1 9-1 7 1-376 3 3-1 0 0 8 0 84 0 2 0 1 2 253 0 13-1 3-1 1 1 1 0 1 0 1 1-383 2 3 0 4-1 1 1 1 0 10-1 1 1 75 0 272-1 6 0-373 4 2 1 0-1 2 1 0-2 12 1 1-1 355 2 6-2 7 0-382 3 6 2 0 0 7-1 2 0 5 0 73 0 0 1 6-1 7 0 6-1 248 2 4 0 7 0 2 0 3 0-370 2 11-1 72 0 5 2 3-2 5 2 1 0 259-1 3-1 2 2 16 0 0-2-385 5 2-1 4 0 3 0 9 1 350 0-364 3 2-2 7 2 1-2 6 1 1 1 1-2 78 0 1 1 9-1 264 1-374 2 3 1 6 0 1 1 5-2 2 1 4 1 73-1 3 1 1 0 1-2 1 2 4-1 2 1 4-2 3 0 250 1 7 0 1 1 3 0 2 0 5 0 1 0-289 2 3 0 1-1 7 0 4 2 256 0 4 0 0 0 0 0 2-1 0 1 2 0 2 0 5-1 5 0 2-1-381 4 1-1 0 2 4-2 4 1 2 0 3 0 71 0 4 0 1 1 2-2 10 2 3-2 3 0 256 2 14 0 0-1-379 2 1 0 2 2 8-2 0 1 3-1 2 0 0 0 77 2 1 0 3-1 3-1 0 2 1 0 6 0 2-2 1 2 253-2 0 1 3-1 1 0-368 3 1 0 9 1 4 1 73 0 4-2 1 1 2 0 4-1 2 2 1-2 3 2 84-2 171 0 5 2 9 0-372 3 2-1 6 1 2-2 2 1 1 1 4-2 2 1 68 0 3 0 3 0 13 0 1 0 3 1 0 0 73 0 178 0 12 0 3-1 85 0 0-1 3 2 6-1 4 0-479 4 4 0 3 0 12-1 74 0 1-1 1 2 2-1 4 0 4 1 1-2 2 0 80 1 3 0 0-1 1 1 179 1 9-2 7 2 2 0 77 0-463 2 7 0 1 1 1 0 9-1 71 1 1 0 2 0 3-2 1 2 1-2 2 0 1 1 3-1 1 1 86 0 1 1 12 0 161 0 3 0 4-1 1 1 3 0 9-1 81 1-466 2 6-1 86 1 2 0 3 1 3-1 5 1 0-1 3-1 3 1 85-1 7 1 1 0 1-1 156 2 2-2 3 1 1 0 1 0 2 1 5-2 1 0 11 0 68 1 10 1 2-1-468 4 1-1 2-1 0 2 6-1 1 1 6 0 3 0 72-1 4 0 1-1 0 0 14 1 1-1 1 1 2-1 69 0 4 2 15-2 163 0 17 1 94 1-476 1 2 1 2 1 2-2 1 2 2 0 1-2 7 2 4 0 1 0 68-2 7 2 4-2 1 0 6 2 6-2 69 2 92-1 6-1 6 0 7 2 0-2 68 1 0 1 8-2 2 2 5 0 3 0 5 0 69-1 12 0 0 0 7 1 4 0-472 1 11 0 4 1 0 0 72 1 5-2 6 0 6 0 73 0 2 0 10 2 4-1 74-1 2 2 5 0 5 0 81-2 6 0 4 2 3-1 1 1 1-2 2 1 0 0 1 1 3-1 68 1 2 0 3-2 13 0 1 2-472 3 6-2 1 2 13 0 70-1 7 1 0-1 1-1 5 2 2-1 8-1 68 0 1 1 8 0 3 0 81-1 14 0 82 1 1 1 12 0 2-1 67 0 2-1 4 2 1 0 4-1 2-1 6 1 6 1 71 0-550 2 4 1 8 0 2 0 0-1 1 0 2-1 2 1 0 0 1-1 81 2 0-2 3 2 1 0 2-2 76 2 6-1 2-1 1 0 1 0 5 1 3 1 2-1 70-1 8 2 15-1 72 0 1-1 5 1 2 0 2-1 8 2 70-1 4-1 9 1 1-1 6 2 79-2 9 2 2-1-559 4 2-1 4 1 1 0 2-1 1 1 80-1 3 0 0 0 4-1 5 1 77 1 12-1 3 0 0 1 1-1 1-1 1 1 72-1 2 1 4 1 3-1 1 1 2-1 3-1 74 0 1 2 3 0 0 0 8 0 8-1 2 0 68 0 7 1 6-1 6-1 1 2 1 0 82-1 84 1 2 0 8-1-643 4 4-2 3 2 7 0 1 0 69-2 4 2 4-1 0-1 12 2 1 0 1-2 72 2 0 0 4-2 1 2 81-2 1 0 0 2 4-1 4 1 4 0 0 0 2 0 1-2 87 2 11-1 73 0 2 1 1 0 2-2 3 2 2 0 76 0 1 0 4-1 1-1 6 2 11 0 89 0-657 1 10 0 84 2 13-1 76-1 1 2 4 0 0-2 3 1 14 1 66-2 8 1 0 0 4 1 3 0 7-2 70 2 1 0 0-2 3 1 3 1 5 0 4-1 2-1 5 1 67 0 1-1 7 0 0 1 6 0 7-1 75 0 0 2 1-2 3 1 0-1 8 2 80-1-638 3 3-1 3 1 0 0 2 0 1-1 2 2 1-1 5-1 2 0 68 1 2 1 3-2 11 2 5-2 2 0 67 2 3-2 3 0 4 0 8 1 6-1 74 2 13 0 1 0 79-1 7 1 7 0 83 0 3-2 0 0 4 0 74 2 104-2 4 2-658 1 5 0 13 0 2 2 1 0 73-2 3 0 1 0 1 2 9 0 2 0 0-2 78 1 2 0 9 1 6 0 1 0 69-1 4 0 8 1 4 0 5-1 67-1 1 0 12 1 78 1 7-2 4 0 1 0 4 1 5-1 79 1 13 0 1 0 1 0 2 1-569 2 2 1 0-2 1 1 4 1 8-1 7-1 0 1 71-1 1 2 2 0 2-2 83 0 6 2 5 0 5-2 80 1 11 0 76 0 2-1 1 1 3 1 3 0 95-1 3 0 72 0 7 0 0 1 1 0 2-2 4 2 10 0 1-2 70 1 1 1 8-2 7 2 1-2 1 2-657 3 4-2 0 2 4-2 4 0 6 2 94 0 1-1 69-1 4 2 10-2 1 0 0 2 7-2 71 0 3 0 7 2 0-2 4 0 5 2 0-2 72 2 4-1 2 0 4 0 3 0 6 1 1-2 0 1 79 1 90 0 2-2 1 2 4-2 0 1 2-1 0 1 0 1 5 0 1 0 68-1 3-1 4 1 9-1 4 1-656 2 1 1 3 1 5-1 6-1 83 1 1 1 0 0 7 0 2-2 1 1 71-1 9 1 9-1 2 2 3-1 0 1 70 0 3-1 3 1 2-1 1 0 1 0 1-1 3 1 73-1 0 1 2-1 6 0 1 1 2 1 6-1 1 0 76-1 1 2 4-1 8 1 1-1 2-1 74 2 2-2 14 2 1-1 2 1 73-1 11 0 8 0 0-1-659 5 14-2 1 0 3 0 3 1 2 1 80-2 2 1 1 1 3-1 77-1 1 1 9 0 4-1 2 2 73 0 0-2 1 1 0 0 3-1 11 2 0-1 3 0 4 0 72 1 3 0 1-2 4 1 2 0 0-1 6 1 3-1 0 0 78 1 5-1 3 2 5-1 69 0 2 0 88 0 3 1 1-2 2 0 5 1 8 1-655 3 3-2 1 2 0-1 7 1 6-1 6-1 69 1 9 0 12 1 82 0 2-1 9 0 67 0 0 0 2 0 2 0 5 1 8-1 2 1 4-1 76 0 81 0 6-1 3 1 1 1 5-2 3 0 4 2 3-2 69 1 5 0 1 0 8 1 7-2 68 0 1 1 14 0 2 0 3-1 2 1 1 0 0 1-657 1 5 1 5 0 7-1 1 0 2 1 76 1 11-2 73 0 2 1 2-1 0 0 4 0 7 2 3-2 6 2 0-2 66 2 2-2 1 2 1 0 0-2 5 2 8 0 4-2 3 0 158 1 14-1 77 1 4 1 6-2 2 2 1-2 9 1 2 0 67 0 1 1 6 0 4-2 0 1 6 1 3 0 1 0-658 3 2-2 3 2 0 0 2-2 0 0 4 2 1-2 4 2 78-2 4 0 1 2 3-2 2 2 0 0 3-2 1 0 2 1 4 1 70-1 5 1 9-1 1 0 4 1 4 0 66-2 0 2 1 0 4 0 8 0 1 0 2-2 5 0 0 1 2 0 1 0 160 0 2 1 3 0 5 0 10 0 0-1 69-1 2 0 1 2 7 0 5-2 1 2 7 0 68 0 1 0 5 0 15 0 0 0-566 2 6 0 0-1 12 1 5-1 0 0-21 242 5-1-10 3 5 0 5 0 4 1 6-1-96 2 4 2 74 0 5-1 2-1 11 1 2 0 82 1-190 2 6 1 9 0 1-2 1 0 2 0 72 2 1 0 1-1 5 1 2 0 85 0 3-2 5 2 2-2 4 2-198 2 0 0 1 0 0-1 11 2 82 0 0-2 7 1 5 1 73-2 2 0 14 0-105 4 1 1 7-1 3-1 1 1 6 1 67 0 2 0 1-2 3 1 0 1 5-1 4-1 4 0 1 2 6-1-196 2 2 0 3 0 2 0 1 2 73 0 5 0 0-2 11 0 0 2 2-1 6 0 0-1 75 1 2 0 1-1 1 0 2 0 10 2-207 2 2 0 2 1 11 0 9-1 72 1 18-2 68 2 0-2 8 2 6 0 1-1 5-1 2 1-195 4 3 0 5-2 1 2 1-1 0-1 4 1 69 0 7-1 0 0 13 2 69 0 12-2 1 2 2-2 1 1 3 1-199 1 2 1 1 0 5 0 4 1 1-2 1 1 5 1 0-1 2 0 69 1 2-1 3 1 1 0 8-1 2 1 0-2 1 1 7 0 70 1 2-1 5 0 4 1 3-1 6-1 2 2-203 2 6-1 1 2 2 0 5-1 3-1 2 2 1 0 70 0 5-1 11 1 2 0 1-2 2 2 70-1 1 1 2-2 7 2 1-2 2 2 8-2-201 4 4-1 2 2 84 0 15 0 72-2 9 1 13 1-201 2 2 0 1 0 1 0 7 0 3 0 1 0 1 0 74-1 1 0 4 0 0 1 2-1 12 1 75 0 3-1 12 1"/>
<path class="b" marker-start="url(#mbd)" marker-mid="url(#mbd)" marker-end="url(#mbd)" d="M1163 191l-5 5 5-1-16 11 3 3 97 0-103 8 19 0 3 1-94 6 95-2-117 5 8 0-7 5 112 1 71 0-176 2 4-1 104 2 68-1 9 1-191 1 3 1 102 1 2 0-101 3 1 0 101 0 6-2 77 2 13 1 79 2 8 0-284 2 2-1 174 1-176 4 6-1 7 1 75 0-87 2 195-1 82 0 3 2 4 0-292 2 6 1 3-2 5 1 2 0 174-1 176 1-359 2 4 2 9-1 2 0 0-1 83 0 180 0 83 0 4 1 13 1-384 2 0-1 4 0 14 0 76 2 187-2 87 2 1-2 5 0 5 2 7 0 2-1-389 4 1 0 8 0 4-1 91 1 85-1 8 1 87 0 8-1 78 0 1 1 9 0 3 0 1-1 2 0 3 0-389 3 4-1 11 2 1 0 80-1 86 1 18 0 86 0 78 0 4 0 12 0 2-2 3 1 4 0 0 1-387 3 2-1 2 0 7 1 6-2 263 1 4 0 1 0 83 1 1-1 6 0 3 1 4-2 2 2 2 0 73-2 3 1 5 0 2 1 8-2 1 0-480 5 6-1 3 1 6-1 4-1 3 2 254 0 93-2 9 1 1-1-379 4 2-1 0 1 4 0 3 0 6 0 2-1 1 0 74 1 13-1 76 0 8 1 103 0 3 1 69-1 4 1 1-2 3 1 6 1 5 0 0-2 1 1 2-1 3 1 72-1 4 1 5-1 8 0 0 0 2 0-482 3 2 2 2-1 1 0 2-1 5 1 82 1 3-2 2 2 2-1 12-1 2 0 161 1 4-1 92 1 3-1 2 1 3 1 2-2 5 2 73 0 1-1 4 1 1-1 1 0 12 0-480 2 7 0 7 0 3 2 5-2 1 1 70 0 1 1 6-2 1 2 0-2 0 1 0 1 0-2 2 1 1-1 3 0 8 1 1 1 78 0 86-1 7 0 5 1 79-2 4 0 1 0 0 0 1 1 0 1 7-1 82 0 1 0 6-1 2 1 3 1 1-2 1 0 1 2 2-1-483 3 6-1 5 0 2 0 10 0 77 0 4 1 6 1 76 0 101 0 2-2 1 2 8-1 69 0 5-1 15 2 74 0 2 0 5-2 1 2 0 0 1 0 0 0 11-2 74 1-554 3 3-1 2 2 2-2 3 2 0-1 3 1 80 0 4 0 3-1 1 0 4-1 7 1 4 0 73 1 0-2 1 2 1-1 9 1 3 0 1-1 73 1 16-1 5 0 69 1 1-1 0 0 1 1 3 0 1 0 7-1 1 1 3-2 0 0 1 2 4-2 72 1 3-1 1 1 4-1 1 0 4 1 1 1 1-2 0 2 76-2 3 2 102-1 7-1 2 1-667 4 4-2 2 2 5-2 2 1 5-1 2 1 0-1 73 0 3 1 15 0 4 1 0-2 77 0 5 1 2 0 0 0 6 1 1 0 70-2 2 1 3 1 7 0 4-1 6 1 2-2 0 1 74 1 2-1 3 0 1 0 0 0 5-1 0 2 78-2 9 1 5 0 76 0 7-1 7 0 3 1 5-1 67 0 1 2 8-2 2 0-652 4 2-1 3 0 7 0 5 2 0-2 3 0 72 2 4 0 1-2 4 0 2 2 2 0 1-2 0 1 5 0 1 0 0-1 1 0 77 2 8-2 2 0 2 2 3-1 3-1 70 0 2 0 0 1 2 0 5-1 11 1 69 1 3 0 6 0 2 0 3 0 2-1 4 0 73 1 0-1 4-1 0 0 0 1 6 0 2 1 7-2 1 2 72-2 6 1 1-1 4 0 1 2 2-2 2 0 7 1 1 0 68-1 6 2 1-2 6 2 2 0-659 2 1 1 4-2 4 2 12-1 71-1 4 2 3-1 1 1 1-2 1 0 1 2 5-1 77-1 8 1 15-1 68 0 4 2 9-1 4 0 0 0 2 1 71-2 0 1 2-1 2 0 1 1 2-1 4 0 1 1 5 0 76 0 1-1 5 0 7 1 1 1 0-2 2 1 80 0 0-1 0 1 3 0 0-1 6 0 8 0 1 1 75-1 5 0 2 0 11 0-664 4 7 1 0 0 3-1 1 1 2-2 5 0 4 1 68-1 3 1 11 1 4-1 4-1 2 2 67-2 9 0 5 2 2-2 9 1 67 1 5-1 3 1 3-2 1 0 0 2 6-1 1 1 2-2 1 1 75 1 4-2 1 1 3 1 1-2 7 1 3 1 71-1 2-1 0 0 7 0 6 1 72 1 9-1 1-1 6 2 78 0 4 0 2-1 2-1 4 0 7 1 2 1 3-2-647 5 76-2 5 2 9-1 6 0 72-1 3 1 1 0 3 0 2 1 1-2 2 0 6 2 69-2 3 1 1 0 5-1 7 0 86 2 3-1 5 1 0 0 1-2 1 1 76 0 0 0 5 0 3 1 7 0 0 0 3 0 76-2 12 2 81 0 1-1 3 0 12-1 1 2-667 2 0 1 0-1 7-1 4 1 0-1 1 0 2 0 7 0 1 1 74 0 0 0 4-1 1 2 1-1 2-1 4 0 5 0 0 0 71 2 4-1 1-1 5 0 2 1 2 0 3 0 0 0 5 0 72 1 6-1 2 0 2-1 1 1 1 1 6-2 2 1 78-1 0 0 7 2 81-1 3-1 0 1 11 1 3-2 69 2 1-2 4 2 7 0 0-1 2-1 0 2 0-2 6 0 1 0 2 0 72 1 6-1 0 2 4-1 9 1 1-1 1-1-664 3 4 1 7-1 2 1 2-1 4 1 77 1 1-1 4 0 9-1 71 1 2 1 3-2 1 0 0 1 2 0 4 0 12-1 71 1 13-1 2 2 5-1 0 1 69 0 2-1 8 0 1-1 3 1 1-1 4 0 1 2 74 0 8-1 3-1 3 0 3 2 1 0 71-1 12-1 2 2 94-2 1 1 1 0 3-1-663 5 0 0 2-1 7 1 2-2 3 2 2-1 0-1 1 1 0-1 76 0 6 2 2 0 11-1 71-1 8 1 7 0 80-1 5 2 0 0 10 0 2-2 73 2 1-2 1 0 1 0 0 0 5 1 83 1 2-1 1-1 6 2 1-1 2 1 4-2 1 1 7 1 79-2 3 2 3 0 0 0 2 0 72-1 2 1 0-1 6 1 0-1 4 1 3 0 4-1 0 1-661 2 1 1 10-1 0 0 7 0 4-1 0 0 1 0 74 2 4-1 8 0 1-1 1 1 2 0 2 1 1-1 71 0 2 0 2 0 2-1 4 0 7 0 1 1 3 1 69-1 3 1 8 0 9-1 0 0 69-1 4 2 2 0 10-1 5-1 2 0 1 1 72 0 6-1 7 0 5 2 71-1 11 1 7-2 5 0 1 2 71 0 1-1 3 1 2-1 3-1 5 2 2-1-644 4 6-1 78-1 4 0 3 1 4-1 4 0 168 1 0-1 1 2 11 0 2-1 0 1 68-1 15 0 1 1 2 0 73-1 11 1 1 0 5-2 8 2 70 0 4-2 11 2 8-1 70-1 7 0 4 0 3 0 4 1-664 4 15-2 8 2 0 0 71-2 3 1 6 0 0 1 8-1 78-1 5 2 1 0 8-2 6 0 66 1 24-1 71 1 2 1 9-1 79 1 1 0 3-1 1 0 3 0 1 1 2 0 3-2 1 0 3 2 1 0 86-2 8 0 0 1 72 1 1-2 9 1 7-1 1 2-655 3 2-1 1 0 1 0 4 1 3-2 1 0 3 2 70 0 7 0 0 0 5 0 9-1 1-1 71 0 5 1 1 1 2-2 4 2 0 0 2 0 0-1 8 1 68-1 5 1 5-2 1 1 10-1 3 1 0 0 72 0 8 1 84-2 2 0 1 1 4 1 0-2 3 2 2-2 6 2 69-1 3 0 2-1 4 2 2 0 0 0 0-1 3 1 0-1 7 1-572 3 5 0 3 0 6-2 1 0 0 1 8 0 1 1 72-2 4 1 1-1 1 0 1 1 4 1 0-1 2 0 3 1 1-1 71-1 3 0 4 0 1 2 4-1 9 1 79 0 82 0 11-1 2 1 3-2 7 2 74 0 8-1 6 1 3 0 81-1 1 1 6-2 4 2 69-2 18 0 1 0 4 2 3-1-666 2 2 1 1 1 6-1 1 1 11-2 1 1 1 1 68-2 4 0 1 2 12-1 5-1 0 2 74-1 7 1 2-1 2 1 76-1 14 0 7-1 79 2 2 0 2 0 2 0 0-1 1 0 7 0 70-1 22 0 0 0 1 0 72 0 11 0 3 0 0 2 2-2 2 2 1-2 2 2 1-1 66 1 9-1 2 1 7 0 4-1 0-1 0 2-665 3 2-1 4 0 3-1 1 0 3 2 5-1 1 0 1-1 3 1 71-1 2 1 2 0 3-1 2 0 0 2 8-1 0-1 3 1 3 0 82 0 4-1 81 1 0 0 4 0 4-1 0 1 7 0 71 0 4 1 8-1 2-1 77 1 6-1 2 2 2 0 5-1 3 0 4-1 1 1 71 0 12-1 4 1 3-1 3 1 68 1 10 0 2-1 1-1 3 1 2-1 1 1-663 2 3 0 0 0 1 1 3 1 0-1 7 0 6 1 1-1 71 1 0 0 20 0 4 0 74-2 6 0 4 0 3 1 73 1 4-1 5 0 4 1 4 0 3-1 2 1 1-2 73 1 0-1 7 1 0 0 3 0 78 0 3 0 13 0 2 1 71-2 4 0 1 0 2 0 4 0 1 0 1 0 12 0-569 4 13-1 2 2 73-2 10 1 7 1 4 0 1-1 69 1 0 0 5 0 3 0 1-1 4-1 9 1 69-1 3 1 2 1 1-2 8 2 4-1 2-1 164 1 2-1 5 2 6 0-468 1 2 0 3 0 11 0 3 0 74 0 1 1 2 0 1-1 2 1 8-1 0 1 80-1 2 0 4 0 0 0 90 0 182 0 12 0 163 85 1 7 4-1-2 4 2-1 1 2 3 0 1 0-13 5 2-2 6 4 17-1 1 2-114 3 2-1 88 0 1-1 16 2-198 1 5 0 104 0 87 2 7-2 1 2-283 2 82 1 0-1 86 1 23 0 74 0 0-1 3 1 3-2 2 2 1-1 1-1-197 3 1 1 11-1 6 1 73-1 13 2 10-1 68 1 0-1 4 0 2 0 5 0 5-1 7 1-275 2 78 0 84 2 19-2 1 2 72-2 3 0 0 2-268 3 8 0 90-2 75 2 2-1 3 1 3-1 12 0 71-1 4 2 3-1 1 1 11-2 3 2-283 2 174-1 4 2 12-1 2 0 70 0 3-1 4 2 0-1 5 0 5-1 3 0-277 5 84-1 6 1 72-2 0 1 6 1 3-2 2 0 1 0 1 1 10 1 1 0 1-1 72 1 4-2 1 1 6 1-287 1 180 2 11-2 6 1 74 1 4-1 2-1 9 2 8-2-289 5 87-1 2 1 10 0 8 0 69-1 3 1 1 0 5 0 11-2 69 1 5 0 3-1 0 1 4 1 14-2-295 4 13 1 0-2 1 1 1 0 80 0 2-1 87 0 3 1 10 1 1-2 5 2 76 0 5-1 3-1 2 0 2 2-288 3 2 0 6-1 5-1 70 1 1-1 2 1 4 1 0 0 5-2 83 0 13 0 5 0 1 1 0 0 2 0 0 0 79-1 1 0 4 2 3-2 4 0-291 4 11 0 82-1 7 0 3 2 3 0 70 0 1-1 19 1 71-1 5 0 3 1 6-2 4 1 0-1 5 2-290 3 3-1 2 0 11 1 75-1 9 0 4-1 77 2 5 0 1-1 5 0 78-1 3 2 13 0 4-1-292 4 96-1 83 0 1 0 5 1 1 0 1 0 4-1 80-1 0 1 6 0 1-1 2 1 9-1 1 0 2 0 1 2 0-1-297 2 1 0 3 0 5 0 7 1 2-1 2 0 81 2 6 0 1-2 3 0 75 1 16-1 2 2 2-2 69 0 1 0 1 1 0-1 0 0 1 0-279 3 14 0 2 1 7-1 93 2 72-1 4 0 4 0 1 1 1 0 79 0 1-2 1 0 8 1-283 2 100 0 2 1 3-1 74 1 6 1 2-1 7 1 6-1 2 0 70 1 1 0 1 0 13 0 5-1-284 4 86 0 3-1 5 0 8-1 70 1 3 0 3 0 0 1 10-2 3 0 1 1 72 0 1-1 6 2 2-1 2 0 2-1 4 2 4 0-291 1 7 2 8 0 88 0 3-2 85 1 10-1 71 1 0 1 6-1 1-1 0 1 4-1 2 2 4 0-289 2 4 1 8-2 6 0 70 1 93 1 4 0 5-1 88-1 4 1-286 2 6 2 2 0 7-1 5-1 76 0 6 2 0-1 0-1 80 1 0 0 1 0 10 0 7 0 96-1-298 4 1 1 8-2 4 0 2 1 4-1 76 1 3 1 11 0 6 0 70-1 1 1 2-2 2 2 5-1 82 0 4-1 3 2 11 0-295 2 11 0 0-1 83 1 21-1 87 2 6-2 71 0 1 1 4-1 0 1 4 0 1 1-281 3 4 0 5-2 6 2 1-2 67 1 8-1 3 1 5 0 4 0 3 1 78-1 9 0 3-1 0 1 77-1 4 1 1-1 5 2 8-2-202 3 2 1 5 1 82-2 0 0 4 2 7-2 4 1 0 0 1 0 1 1 72 0 0-2 0 1 4-1 5 1 2-1 3 2 4-2 4 0-295 3 4 1 2-1 4 0 93 0 2 1 5-1 0 2 4 0 67-2 2 0 10 2 3-1 82 1 4 0 1-1 10 0 4-1 1 1-301 4 1 0 3-2 2 0 7 1 12 0 67 1 4 0 10-1 81 1 5-2 1 1 0 1 3-2 4 2 0-2 7 1 1-1 69 2 0 0 4-1 4 0 0 1 5-1 4-1 1 2 2-1 1 0-296 4 12-1 80 0 1 0 0 1 7 0 4 0 1 0 88-1 2-1 1 2 1-1 1 1 1 0 3-2 3 2 70-2 1 0 2 1 11 1 1-2 2 0-292 4 96 1 16-1 82-1 0 2 1-1 1 0 1 1 1-2 5 0 78 1 6-1 5 0 4 1-291 4 1-1 8 1 0-2 79 1 3 1 0-2 2 0 1 2 8-2 4 2 4 0 75-1 0-1 0 0 3 2 1 0 11-1 72 1 8 0 3-1-277 3 1-1 1 0 3 2 74-1 2 0 1-1 1 1 5 1 7 0 3 0 2 0 1-1 2 1 80-2 5 1 3-1 4 1 70-1 1 2 16-2 4 2 2-2-392 5 95-1 3-1 5 1 0 0 80 1 4-1 4 1 3-1 4 0 4-1 73 0 2 1 4-1 4 2 3-2 0 0 5 0 2 1 2 1 71-1 1 0 5 1 1-2 1 0 3 0 6 0 3 0 2 0-388 4 89 1 1 0 5-1 5 1 2-2 12 0 0 0 79 2 9 0 72-2 7 2 13 0 1-1 2 0 73 0 0 1 6-1 1-1 2 2 7-1-293 2 7 1 1-1 6 1 98 1 79 0 10-2 2 2 92-2 1 0-299 3 3 1 3 0 5-1 10 2 3 0 69-1 4 1 1-1 2-1 4 2 0-1 2 1 1 0 0-2 6 1 72 0 14 0 3-1 3 1 0-1 70 2-359 2 85-1 8 1 12 0 2-1 73 2 3-2 10 0 2 0 77 0 13 1 2-1 2 0 71 2 0-1 15 0 7 1-296 1 5 2 4 0 2-1 11 0 0 0 71 1 1 0 5 0 88-1 18 1 0-2 77 2 4-1 4 0 5 0-292 3 3 0 6 1 8-2 71 0 7 1 8 0 0 0 1-1 1 2 0-1 2 1 80-1 0 1 3 0 11 0 1 0 67 0 18 0 1 0 1 0-372 2 80 0 3 1 1 0 5-1 1 0 0-1 3 2 1 0 79 0 8 0 7-2 3 0 70 2 14 0 0-2 4 2 73 0 8-2 7 2 10-1-481 4 20 0 92-1 78 1 6-1 5 0 0-1 72 1 1 0 7 0 17 1 67-2 0 2 1-1 7 1 1 0 7 0 6-2 3 0 67 0 12 2 1-2 1 2 3-1-467 4 8-1 8 1 161-2 2 2 12-1 6 1 79 0 2-2 1 2 5 0 2-1 1 0 2-1 69 1 12 0 4 1 87-1 0 1 10 0 2 0-568 2 10 0 4-1 76 1 1 1 15-1 167-1 4 0 9 2 5 0 0-2 73 1 1 0 4 0 6 1 3 0 78-2 3 2 2-1 11-1 73 1 2 1 5-2 7 1 11 1-555 3 89 0 88-2 80 2 0-1 2 0 12 0 0 1 1-1 6 0 0-1 0 1 76 1 0-2 14 1 3 0 74 0 2 0 7 1 2-2 4 1 71 1 3-2 2 1 7 0 5-1-649 4 98-1 78 2 4-2 86 1 93-1 2 1 1 0 2 0 3 1 0-2 4 1 3 1 79 0 0-2 3 1 4-1 8 0 71 0 4 1 3 0 10-1 83 2 1-1 2 1 0-2 2 2 4 0 0-1-650 2 7 0 83 2 14-1 75 1 1-2 98 2 90-2 0 0 9 1 5-1 67 1 1 0 3 0 5 1 5-2 4 0 1 0 1 2 72 0 1-1 6 0 1-1 15 1 68 0 3 0 2 0 12 1 5-1-649 4 83-1 9-1 82 2 5 0 94-2 5 1 76 1 0-2 17 1 0-1 4 2 71 0 3-1 2 0 1 1 90-1 1 1 6-1 4 1 6-2 2 2 67 0 7 0 8 0 0-1 1-1 4 1 0 0-663 4 12-2 4 2 83-1 15 1 163-1 11 1 11-2 75 2 3-2 4 1 9-1 1 1 69 0 4 0 4 0 6-1 9 0 78 1 0 0 8 0 1-1 3 2 1 0 70-1 0 0 1 1-641 3 7 0 8-2 173 1 88-1 0 2 3 0 3-1 4 1 0-1 9 1 2 0 69 0 4 0 3-2 5 0 6 2 72-1 9 0 2-1 5 0 5 0 72 2 2-1 2-1 1 2 2 0 7-1 3-1 73 0 3 1 18 1 2 0-660 3 3-2 3 0 82 0 24 1 161-1 4 2 0-1 8-1 4 0 5 0 74 2 3-2 0 2 2 0 2-1 1-1 3 0 77 1 6-1 5 2 1-2 2 0 0 1 5 0 75-1 7 2 10-2 3 2 69-1 1 0 7 1 7 0 2-1 2 0-653 3 87-1 9 1 0 1 4-1 2 1 88 0 1-1 81 0 1-1 4 0 6 2 1-1 6-1 78 1 1-1 1 0 2 1 6-1 71 2 7 0 5 0 6 0 0 0 73-2 4 1 6 1 2-2 3 0 7 1 74-1 7 0-654 5 2-2 13 1 1-1 8 0 1 1 71 1 3-2 3 2 8-2 74 1 4 1 14 0 74-1 3-1 2 2 1-2 8 0 9 2 0 0 68-1 7-1 2 2 3 0 4-1 78 1 4-2 1 0 0 1 3-1 9 2 0-1 1 1 0-1 83 1 5-2 6 1 70 0 12-1 1 1 3 1 3-1-654 3 1 1 5-1 2-1 1 2 81-1 0 0 3 0 1 1 7-1 4-1 3 2 0 0 1-2 67 1 3 1 0 0 3-1 0 0 6-1 0 0 0 0 2 2 0-2 3 0 4 1 0 1 1-2 0 0 4 0 67 0 1 1 2 0 18-1 2 2 86 0 4-1 0-1 73 0 1 2 1 0 4-2 0 1 7 0 2 0 2 1 1-1 3-1 69 0 2 0 1 2 6-1 80 0 5 0 2 1 3-2 11 2-658 2 1-1 4 2 0-2 6 1 75-1 4 0 7 1 9 0 2-1 76 2 2 0 11-2 0 2 83-2 3 1 7 0 3 1 1-2 72 1 11 1 2-1 1 0 176 0 8-1 5 0 0 1 80-1 0 0 2 1 8 1-655 3 2 0 2 0 2 0 81-1 4-1 6 0 2 1 0-1 2 0 6 1 68-1 0 1 2 1 4-2 4 0 8 1 2 0 0 1 1 0 71 0 1 0 3 0 3-1 4 1 1-1 8-1 1 0 1 0 73 0 0 1 2-1 1 1 3 1 0-1 0 1 3-2 11 1 0-1 68 2 1 0 2 0 1-1 5 0 0 0 4-1 1 2 78-1 5 1 2-2 1 2 7 0 79-1 22 0 0-1-665 3 1 1 1-1 4 1 0 1 5-2 0 1 4 0 3 0 0 0 5-1 0 2 0-1 70-1 3 0 0 0 3 1 0 1 8 0 94 0 78-2 0 0 1 1 2 0 2-1 6 1 6 0 82 0 1 0 5 0 6 0 69 0 0-1 5 1 1 1 10-1 0 0 2-1 2 2 1-2 0 1 1 1 76-2 13 2 0-2 1 2 2 0-571 2 4 0 3-1 5 1 1 0 7 0 72-1 13 0 2 0 76 0 2 2 0-1 2 0 6-1 2 1 3 0 74-1 16 1 5 0 73 0 1-1 18 1 72 1 3 0 4-1 7 1 8 0 69 0 6 0 1-1 9 1 6-2 0 1-572 2 2 0 0 0 1 0 1 0 1 0 14 0 0 0 1 0 2 0 68 0 7 0 2 0 84 0 4 0 6 0 1 0 2 0 10 0 75 0 88 0 5 0 3 0 3 0 3 0-377 97 6 1-18 2 17 1 0-1 1-1-19 5 16 0-22 3 14-1 12 1-18 2 13 1-16 2 2 0 11-1 3 0-20 7 3 0 15 0 0 0 4 0 3 0-25 4 2-1 16-1 6 1-24 3 3 0 0 1 14-1 7 1-15 2 0-1 13 2-17 1 3 0 4 0 7 0 1 1 3 1 1-2-12 5 10 0 2-2-22 5 5-1 0-1 7 2 2-2-14 5 9-2 0 0 5 2 1 0 0 0 4-2-22 3 2 1 3-1 4 0 2 1 5 0 1 1-16 2 3 1 4 0 4-1 0 0 2 0-14 2 3 0 0 1 3 0 5-1 10 1-18 3 1 1 0-1 2 4 5-2 4 0 8 2-20 2 2 1 2-1 5 0 1-1 13 0-25 4 9 1 1 0 3-1 11-1-23 4 4-1 7 0 3 1 1-1 1 2 6-1-20 4 4-2 11 1 3 0-22 3 6 1 2 0 8-1 3 0 5 0 2 1-25 1 7 0 1 1 1-1 6 1 5 1 95-1-108 2 1 2 1-1 0-1 3 1 2 0 5 0 4 1 1-2-17 5 5-2 1 2 0-2 5 2 3-2 3 2 74-1-98 3 2 1 4-2 2 2 0-2 7 1 9-1 91 2-114 3 4 0 1-1 2 0 4-1 2 2 4 0 7-2 84 2 9-2-111 4 1 1 3 0 10-2 2 2 2 0 71 0 13-1-110 2 0 1 1 1 0 0 1 0 9-1 84 1-75 2 1-1 2 0-22 3 7 2 5-2 1 1 1 0 1-1 3 0-12 4 15-1 73 0 8 1 1-1 13 0-115 5 3-2 2 0 0 1 5-1 3 0 0 1 7 0 78-1 15 2-107 1 6 0 10 0 2 2 70-2 4 0 3 1 12 1 0 0 3-2-110 5 1-2 1 2 2-2 10 2 75 0 4-1 3-1 0 2 8 0-102 1 4 2 8-1 2 0 70 0 2 0 0 0 1-1 1 0 1 1 5-1 2 0 2 0 3 0 3 1 0-1 2 2 1-2-117 3 8 0 7 2 7-2 1 1 77 0 10 0 3 0 1 0 3 0-100 2 80 0 7 0 9 2 2-1 2 1-117 1 1 0 1 2 1 0 1 0 0-1 5-1 0 2 1-2 0 2 4-1 11-1 1 1 68 0 0-1 1 0 5 0 1 0 6 2 3 0 0-1 5-1 77 2 12-1-202 4 0 0 3-2 3 1 4 0 5 1 2-1 80 0 8 1 4 0 8-1-115 4 7 0 2 0 1 0 5-2 0 1 76 0 1 0 3-1 3 0 2 0 3 1 2 0 1 1 3 0 5-1 68 1 6 0 2 0 3-2 13 2-210 1 1 2 7-2 7 2 1-2 1 2 4 0 79-2 0 1 5 0 0-1 6 1 0-1 7 1 75-1 8 2 7 0 5 0-211 3 3-2 4 2 2-2 10 1 1 1 1 0 73-2 10 1 95 0 0 1 1 0-201 3 10-1 1 1 0 0 1-1 1 1 3 0 3-1 1-1 75 2 11-1 6 1 0 0 3-2 1 2 69 0 8-2-192 5 7-1 6 1 5 0 80-2 2 0 1 2 17-1 68 1 2-2 5 2 6-2 0 2 4 0 1-1 1 1-206 1 0 0 0 2 13-2 84 0 10 0 2 0 4 0 84 0 1 0 0 0 2 2 1-1 10 1 1 0 0 0-207 1 3 1 1 0 1 0 0-1 5 1 2 1 0 0 1-2 3 1 2 1 72-1 1 1 6-1 3-1 4 2 2-1 1-1 6 0 71 0 8 0 1 1 0 0 1-1 9 1 4 1-209 1 9 2 1-2 1 1 1 1 7-2 75 2 1-2 2 0 3 2 1-2 6 1 79 0 5-1 1 2 5-1 6 0 2-1 3 1-212 4 4-2 2 0 2 2 9-1 2-1 3 1 0-1 2 2 75-1 3 1 7-1 78-1 6 2 3-1 9 1 7 0-208 1 1 2 4-1 3-1 6 2 5-2 76 1 10 0 3 1 3-1 1 0 3 0 77-1 7 2 0-2 1 2 2-1 7 0-209 3 3 1 4-1 2-1 0 1 1 1 0-1 3-1 4 0 0 0 76 1 3 0 6-1 9 2 2-1 1 0 1 0 67 0 2 0 3 1 8-2 3 0 0 0-199 4 1-1 5 0 4 2 7-2 0 2 4 0 72 0 6-1 0 1 2-2 1 0 2 2 1-1 8 1 0-1 1 0 72-1 5 2 2-2 2 1 0 1 7 0 7-2 1 1 0-1-213 4 1 1 1 0 6 0 5-1 0 1 9 0 0-2 2 0 1 0 77 0 4 0 0 0 7 2 5-1 69 1 2 0 2 0 4-1 1-1 8 1 1 1 0-2 4 0 4 0-210 5 6-2 2 0 2 2 3 0 2-2 4 1 3-1 73 0 2 0 1 2 4-2 0 0 5 2 5-1 2 1 3 0 67 0 1 0 7 0 1 0 8-1 0-1 2 2 7 0-210 1 1 2 4 0 0 0 6 0 0-1 0 1 4 0 96 0 1 0 72-1 0 1 15 0-195 1 6 1 4 0 0 0 2-1 6 0 70 1 5 1 4-1 1-1 2 0 7 1 74 1 1-1 12-1 2 0 3 0-187 5 1-1 1 0 1 1 76-2 7 1 1 1 13 0 69 0 0-2 4 1 5-1 4 1 1 1-199 2 2-1 5 2 1-2 3 2 1 0 4 0 75-1 2-1 10 2 1 0 80 0 13-2 4 1 2 1 2-1 4 1-207 3 3-1 3 1 9 0 1 0 3-2 93 0 1 0 2 2 67 0 8 0 2 0 1 0 1 0 6-2 2 0 1 0 1 2 1-1 3 1-117 2 4 1 2 0 1-2 1 2 2-1 1 1 5 0 6-1 1-1-440 358-4 5 92 2-72 6 94-1-106 4 15-2-20 3 17 0 74 1 2 0 5 0-91 3 84-1 14 2-104 2 3 0 84-1 2 0 23 2-106 3 14-1 88 1-105 2 0 0 1 0 0 1 86 0-88 1 14 0 84 2 0-2 1 2-95 2 2 1 5 0 3-1 78 1-86 3 0 0 9 0 70 0 1 0-84 1 8 2 1 0 82-2 2 0-101 3 0 2 3 0 2 0 7-2 9 1 75 0 0 0 1-1 4 0 2 1 7 1 0-1-106 4 2-2 7 0 0 2 1-2 2 0 2 0 77 2 20-1-107 2 3 2 11-1 71 1 6 0 3-2 2 1 7 0 2 0-109 3 12 0 2-1 6 1 69-1 11 0 2 0 4 1-4 3 7-1 0 2-113 2 14 0 2-1 6 0 81 2-88 3 90-2-85 4 0 0 2 0 1 0 75 0 11-1 2 2 1 0 2-1-106 4 2-1 7-1 5 2 70 0 4-2-91 5 18-2 69 2 11-1 10-1 1 0-109 3 3 2 85 0 9-2 5 1 5 1-104 3 5 0 81-1 2 1 2 0-97 1 1 2 14-1 0-1 76 0 1 2 3-1 11 0 5-1 1 1 3 1-95 2 70 1 10-1 7 0 5 1-111 2 13 1 77 0 3-1 9 0 1 1 2-1 0 1-96 3 9-2 0 2 1-2 74 2 1-1 5-1 7 1 4 0 1 0 2-1-112 4 1-1 8 2 0-2 0 2 0-1 3 0 5 0 0 0 1 1 1-2 70 0 2 2 2-2 4 1 2-1 3 2 2-2 3 2-105 2 5 0 0 0 3 0 2 0 2 0 76 0 6 1 1-2 7 2 2-1 6 1-114 1 5 2 2-1 1 1 4 0 0 0 2-1 7-1 1 1 75 1 1-2 1 1 0 0 1 1 5-2 2 1 0-1-99 5 8-1 4-1 70 2 2-2 1 2 1-2 2 1 0-1 1 0 7 1 0 0 6 1 0-2 3 2-114 2 2 1 3-2 4 1 3 0 9 1 82 0 0-1 6 1 4 0 1 0 1 0 1-1-113 4 5-2 3 0 1 0 81 2 3 0 9 0 0 0 8-2-381 5 10-1 262 0 14 1 2-2 4 2 74 0 0 0 0 0 3-1 0 0 4 0 7-1-467 5 82 0 22-2 255 2 5 0 1 0 4-1 2 1 1-1 4-1 1 1 72 1 1 0 8-1 10 0-384 3 7-1 6 2 1-1 259 0 9 1 1-2 4 0 1 0 1 0 77 1 2-1 9 1 6 1 2 0-382 2 272 0 1 1 1-1 0-1 2 2 1-1 1 0 14-1 70 1 2-1 4 1 2 0 1 1 2-2 1 0 3 2 0-2 0 2 3-1-471 3 9 1 1-1 8 0 76-1 7 1 5 0 252-1 9 1 4 1 6-1 1 1 4-2 69 0 1 2 3 0 1-2 5 1 10-1 1 1-465 3 1 0 5 0 5 1 1 0 67-1 2-1 2 0 7 2 2 0 2 0 2-1 3 0 255 1 1-1 2 0 2-1 3 2 5 0 2 0 1-2 73 2 11-1 1 0 7-1 2 0 2 1 1-1-455 5 77 0 2-2 7 2 4 0 255 0 6-1 3-1 0 2 4-1 3 0 75 0 11 1 2-1 4 1-454 2 77-1 2 2 4-2 10 0 166 1 82 1 5-1 2 1 0 0 4-2 2 2 0 0 7 0 3-1 80 0 1-1 0 1 7 0 0 0-451 4 68-2 3 1 1 0 0 1 17 0 162 0 90 0 0-2 11 1 2 0 3 1 4-1 1 1 72-1 12 1 0-1 2 1 3-2 3 1-477 4 5-2 3 2 0 0 1 0 3-2 6 1 2 1 4-1 66 0 4 1 0-2 6 0 3 2 10-1 164-1 8 2 3-2 88 2 81 0 2-2 4 0 1 0 8 0 5 1 1 0-478 2 3 0 14 1 2 0 0 1 4-2 81 2 0-1 173 0 4 0 2 1 2-1 85 1 0-1 8 0 4-1 1 1 72 0 21 0-470 3 0 1 2-2 9 2 0-2 2 2 1-2 69 0 1 1 2-1 11 1 84 1 86 0 2-1 5 1 3-1 12-1 1 2 76-1 1 1 2 0 2 0 5 0 77-2 0 1 1-1 2 0 3 0 4 1-470 4 3 0 3-1 5-1 3 2 1-1 10 0 67 1 5-2 4 1 2-1 4 1 173-1 0 0 0 0 7 0 4 1 75-1 1 1 1 1 1-2 5 2 4-2 3 0 74 0 3 0 0 1 1 1 0 0 0 0 1-1 4 0 5 0 11-1-475 4 3 1 1-2 5 1 3 0 4-1 4 0 66 0 10 1 6 1 5-1 0 0 0 0 91 0 4-1 74 2 3-2 7 2 1-1 92 0 0 1 3-2 74 1 2 1 4-2 3 2 6 0-476 1 12 2 0 0 0-2 3 0 7 0 1 1 1 0 1 1 68-1 0-1 1 0 14 2 4 0 77-2 8 1 1 1 75-1 1-1 11 0 3 1 0 1 2-2 3 0 4 1 66 1 16 0 5 0 74-1 10 1 1-2-467 5 9 0 6-1 0-1 3 0 1 2 78-1 4 1 2 0 0 0 4 0 75 0 2-1 86 1 10-2 4 0 78 2 8-1 3-1 8 1 2-1 1 2 69 0 2 0 3-1 1-1 7 1 10 1-478 1 2 1 10 1 5-1 7-1 69 0 3 1 13 1 73 0 1-2 4 2 8 0 3-1 3 1 4 0 71-2 6 2 5 0 7-2 69 0 4 1 4 0 11-1 75 0 0 2 1 0 7-1 2 1 3 0 6-1 1-1-478 5 4 0 7-1 2 1 1 0 77 0 4-2 15 0 1 0 80 0 1 2 0-1 3-1 0 2 1-1 11-1 66 1 0-1 16 2 0 0 2-2 2 0 3 0 70 2 9-1 8 1 73 0 0-2 1 2 2 0 4-1 8 0 0-1 3 0 4 1 2 0-479 4 9-2 11 0 71 1 3-1 1 1 6 1 3-1 5 1 80 0 1-1 9-1 2 1 2 0 2-1 1 1 67 0 3 1 0-1 4 0 3-1 8 1 3 1 71-1 7-1 1 0 6 1 7-1 72 0 2 2 6 0 12 0-479 1 3 1 3 0 0 1 6-2 80 1 5-1 0 2 1-1 1-1 7 2 0-2 79 0 0 2 2-1 0 1 8-2 1 1 0 0 4-1 4 0 2 2 67 0 6-2 9 0 3 0 4 2 71-2 2 1 4 1 1 0 2 0 1 0 6 0 4-1 77 0 8-1 1 1-469 2 89 1 0 0 1 1 1 0 6 0 2-1 5-1 4 2 2-1 2-1 68 0 7 0 3 0 4 1 1-1 2 0 75 0 1 1 5 0 2-1 4 1 2 0 4-1 0 0 73 2 2 0 17-2 3 0 0 2 1-1 70 0 0 0 5-1 2 0 1 0 1 2 3 0-366 3 2-1 0 1 76-2 7 2 13 0 3-2 2 2 66-2 4 0 3 1 0-1 0 1 6 0 2 0 4 1 2 0 78-2 3 1 1 1 6 0 0-1 6 1 76-1 6-1 6 1-384 4 0-2 7 1 5 1 1-2 3 2 2-2 6 0 66 2 1-1 8 1 6-1 8 0 0 1 70-1 0 1 5-1 6 1 6 0 4-2 74 0 1 1 4-1 4 0 9 1-294 3 2 0 1 0 1-1 85 2 8 0 0-1 10 0 5 1 73 0 2-1 3 0 94 0 3 0-286 2 7 0 8 2 2-1 75 1 3-2 0 2 4 0 5-1 7 0 77 0 0 1 2-1 2 0 0-1 7 0 1 0 2 1 67 1 2-2 1 2 6 0 4-1 3 0-279 2 2 1 6 1 3-2 2 2 1 0 71 0 2-2 3 0 1 0 6 1 6 0 2 0 66-1 4 2 2 0 11-1 3-1 3 2 83-2 4 2 1-2 5 1-294 3 2-1 3 1 0-1 7 0 3 2 5-2 79 1 1 1 3-2 4 1 2 1 2-1 0 0 88-1 3 0 71 0 1 0 5 0 1 0 4 0 5 0-282 5 10-2 72 2 7-1 3 1 7-1 0 1 4-1 68-1 3 1 8 0 0-1 0 1 1-1 2 0 11 2-201 1 0 0 13 1 1 0 71-1 1 2 6 0 7 0 1 0 0 0 2 0 6-1 1 1 69-1 5 0-186 3 11 0 1 0 2 0 1 0"/>
<path class="b" marker-start="url(#mbd)" marker-mid="url(#mbd)" marker-end="url(#mbd)" d="M1419 755l5-2 5 1-7 4-4 2 19 0-11 5-8 3 17 2-23 2 21-1 1 2-16 2 0-1 4 2 3-1 5 1 2-2-10 5 6 0 9 0-21 2 3 1 4 0 1-2 3 1 2 0 1-1-10 6-2 5 12-1 3 0 0 0-14 2 0 4 1 1 0-2 4 3 9 0-17 3 4 0 7 4 3 0 6 0 2 1-26 3 1 0 3-1 11-1-9 4 6 1 8 3 1 0 4-1-26 2 4 0-3 4 14-1-11 5 6-1-4 3 0 1 5 0 4 0 3-2 4 1 4-1-22 5 10 0 3-1 6-1 0 1 0-1-19 3 2 2 8-2 0 0 1 0 3 1 1 1 0-1 2-1 2 1-198 2 179 0 1 1 1-1 5 2 7 0 2-2 0 2 5 0 0-2 1 1-22 2 0 0 4 1 14-1 81 2 4-2-101 5 9-2 4 1 0 0 2-1 1 2 3 0 78 0-264 3 171 0 1-2 9 0 3 2 91 0 0-2-107 3 0 0 3 1 8 0 2-1 2 1 73 1 7-1 5 1 2-1 1 1 9-1-112 2 6 1 5 0 2 0 0-1 2 0 76 2 12-2 5 0-202 5 2-1 2-1 8 0 1 0 5 1 71 1 1-2 10 2 9-1 2 0 77 1 2 0 0 0 1-2 4 1 3 1 5 0-209 1 1 0 15 2 8 0 71 0 6-1 7-1 2 0 1 0 8 2 71-1 3 1 1 0 2 0 5-1 1-1 5 1 3-1 1 2 79-1-271 4 7-1 72 0 9-1 1 2 4-2 5 0 79 2 4 0 2-2 5 2 82 0-279 3 2-1 2 1 1-1 1 1 77 0 8-2 3 0 15 1 0 1 69-1 5 0 3-1 4 2 1 0 0-2 7 1 165-1-370 3 19 2 0 0 83-1 8 0 0-1 2 2 0-1 1 1 1-1 73 1 2-2 2 2 4 0 4 0 2 0 1-1 2 0 1 1 83-2 5 2 7 0 0-1 84 1-387 3 2-1 5 1 5-2 2 2 82-2 1 1 6-1 2 0 3 0 4 1 0-1 78 0 4 1 4 0 7 0 1 0 86 1 1-1 82 1 6-2 1 0-382 4 4 0 3-1 2 1 98 1 0-2 2 2 103-1 1-1 73 2 0-1 1-1 6 1 7-1 1 2 2-2 0 1 80 0-379 2 0 2 1-2 0 2 6-2 6 0 2 0 5 1 0-1 73 0 17 2 1-2 0 0 85 0 0 2 0 0 1 0 1-2 2 2 6-2 1 2 72-2 6 2 86-2 1 0 1 1 18-1 1 1-383 3 9-1 1 0 74 0 11 2 2-2 7 0 2 2 70-2 0 2 14 0 2-1 80 0 3 1 3 0 4-1 4-1 1 2 75-2 11 2 3-1 2 1 2-1 2-1 1 2 2-1-398 3 3 0 3-1 2 0 2 2 4-1 3-1 1 1 5 1 72-2 1 0 2 0 9 0 4 0 7 1 71 0 9 1 1 0 3 0 6-1 1 1 73-2 3 2 2 0 1-1 10 1 76 0 10 0 6-1 0 0 1 1 1-1 3 0-395 2 2 2 5 0 9 0 3-1 6 1 68-1 8-1 0 2 1-2 6 0 2 0 1 0 2 1 0-1 4 0 1 0 70 0 3 2 13-2 7 0 69 0 2 1 1 0 0 0 7-1 2 2 2 0 3-1 82-1 6 2 8-2 1 0 1 2-395 1 12 0 1 0 5 1 0 1 3 0 2-1 2 0 68 0 4 1 5 0 3-2 2 0 2 2 2-1 3 0 72-1 3 2 3-1 4-1 5 1 6-1 74 1 0-1 2 1 8-1 2 2 3-2 5 1 73-1 1 2 11 0 3-2 0 2 5-1 1 0 4-1-399 5 8 0 0-1 4 1 4 0 7-2 1 1 71-1 3 0 5 1 5 0 3 1 2 0 81-1 4 0 7 0 2 0 81-1 1 0 0 2 1-1 1-1 2 2 1-2 6 1 2 0 0-1 72 0 0 1 5 0 4 0 4 0 4 0 2 1 3-1-391 4 1 0 1 0 3-1 2-1 1 0 2 0 3 1 5-1 1 1 74 0 1 1 7 0 0-1 2 0 6 1 85 0 0-2 3 0 3 2 82 0 5 0 1 0 0-2 11 1 69 0 1-1 1 1 2-1 2 2 0-2 5 2 6 0 1-2 1 1 4 0-389 2 16 0 168 2 5 0 4 0 6 0 5-1 69 1 6-1 1-1 1 0 3 1 2-1 3 0 2 1 75-1 18 2 0-1 1-1 1 2 1-1-392 4 1 0 6 0 0 0 2-2 1 2 1 0 6 0 1 0 1-1 1 1 0 0 165 0 1-2 2 1 10 1 1-2 0 2 4-2 6 2 70-1 1 0 5-1 0 0 3 1 1 0 4 1 3-2 7 2 81 0 7-1 2 0 1 0-209 3 0 0 8 1 1 0 6 0 1-1 1 1 6-1 2-1 68 0 0 2 1-2 4 1 8 1 1-1 8 0 3 0 72-1-376 127 19 7-6 1-13 3 19 1-13 4 2 0 0-2 4 8 4-1 7 0-10 2 1 2 6 0-2 3-9 2 2 0 10 0-18 2 7 2-10 2 9 1 1-1 6 1 6-1 2 1-24 3 17 0-16 2 10-1 7 2 1-2 6 1-24 3 8-1 1 2 3-2 1 0 1 2 7 0 2 0 358-2-382 5 1-2 1 1 1 1 2-1 5 0 1-1 4 1 7 0-21 4 9 0 8-2 357 2 2-2-376 4 1 0 3-1 2 0 8 2 3-1 2 1 0-1-21 4 4-2 2 1 4 1 7-1 0 1 1 0 0-1 367 0-380 4 11 0 4-2 1 0 2 2 353-1-467 2 11 0 12 0 80 0 1 0 9 2 2 0-108 1 84 0 1 2 1-1 3 1 1 0 4-1 2 1 1-1 4 1 1-1 0 0 5-1 354 0 5 0-476 4 97 1 4-2 2 2 1-2 3 0 8 0 1 0 2 2 375 0-489 1 7 1 4 1 3-1 9 0 67-1 3 1 4-1 11 0 0 0 3 2 3-2 1 1-114 3 20 1 0 0 0-2 71 0 8 2 5-1-105 4 1 0 3-1 11-1 5 1 77-1 15 0 0 1 357 1 7-2 1 2-469 1 1 1 6 1 77-1 2 1 2-1 5-1 3 2 4-2 5 1 357 1 17 0-486 3 0-2 2 0 9 2 84-2 5 2 0-2 5 0 2 2 7-1-115 4 1-2 13 2 81 0 14 0 3-1 2 0 350 1 2-2 8 1 3 1 1 0 2-1 2-1-479 4 0 1 1-2 2 1 12-1 2 2 70-2 2 1 13 0 1-1 0 2 1-2 362 0 3 1 4 0 1 0 2 1 1-1-480 2 5 0 1 2 4-1 3 0 7-1 70 2 5-2 6 0 1 1 0 0 2 1 3 0 361-1 1 1 1 0 8-1 1 1 3-2 7 2-486 3 7-1 5 0 84 1 10-2 4 0 352 1 6-1 3 0 9 0 0 0 2 2-571 2 2-1 13 1 71 1 1-2 1 2 1 0 4 0 14-1 72 0 1-1 8 1 1 0 3 1 363 0 5-2 10 2-566 1 81 1 2 0 1-1 2 1 11-1 0 0 3 1 73-1 6 2 277-1 93-1 2 0 1 2 2-1 8 1 3-2 0 0 4 1-580 2 4 2 4-1 9 0 4-1 1 2 74 0 1 0 2-1 3 0 5 0 2 0 4-1 2 1 0 0 1 0 68 0 3 0 7-1 0 2 2-1 1 0 2-1 272 1 85 0 2 0 15-1 1 1 0-1 1 1-570 4 7 0 78-2 1 0 3 0 0 2 3 0 5-2 5 2 2-2 0 0 1 2 77-2 1 0 3 2 1-2 7 0 274 2 9 0 76-1 1 1 2-2 8 1 5-1 2 2 3-1 3-1-581 5 2-1 2-1 3 1 0 0 13 1 0-2 82 0 81 0 1 1 0 0 13-1 3 1 5 0 361 0 2 1 6-2 5 0 1 0-584 4 7-1 3 0 4 2 5-1 5-1 1 1 1 0 68 0 2 0 5-1 6 0 3 0 7 0 70 1 14 1 6-1 264 1 3 0 10-1 0 0 90 0 10-1-583 4 9 1 1 0 4-1 4 0 1 1 5-2 69 0 5 0 2 1 0-1 5 1 11-1 1 2 1-2 68 2 2-2 0 1 8 1 9 0 4 0 356 0 5-2 8 2 0-1 3 0-581 2 7 2 0-1 11 0 5-1 69 2 1-1 7-1 14 0 3 1 1 0 77 0 1 0 4 0 8 0 3 1 265-1 14 0 76 1 1-1-564 4 1-2 1 0 4 0 11 1 3 1 75-1 10 0 6 0 3 1 68-1 16 0 5-1 4 0 166 0 95 2 2-1 7 1 4 0 3-1 1-1 78 1 3 0 3-1 5 2 0-1 4-1 1 2-577 3 3-2 2 1 1 0 1 1 8-2 71 0 11 1 3-1 1 0 3 1 76-1 1 0 8 0 6 2 7 0 0-1 3-1 257 1 7 1 1 0 5-1 8 0 3-1 68 2 2-1 2-1 11 1 3-1 6 2-582 3 2-2 2 1 6 1 0-1 5-1 4 0 74 0 5 1 7 1 1-1 3 1 81-1 8-1 10 0 1 1 261 1 3-1 3-1 0 0 2 0 1 2 11 0 69-1 11 0 5 1 2-1-570 3 2-1 2 2 3-1 2-1 0 0 6 2 70 0 1-1 3-1 1 0 1 1 1 1 3 0 0-2 1 0 9 2 81-2 10 1 1 1 172-1 0 0 2 1 2-1 0 0 0 1 2-1 0-1 1 1 0 0 4 0 2 0 2-1 73 2 8-2 3 1 4 0 5-1 4 1 72 1 2-1 3 1 7-2 10 1-580 2 4 2 2 0 4 0 2 0 1-2 1 0 4 1 80 0 1 0 3-1 1 1 1 1 1-2 78 1 5 0 1-1 9 0 172 2 13-2 1 2 0 0 4-1 1 0 2-1 0 0 3 2 68-1 2-1 1 0 2 0 6 1 2-1 82 1 3 0 3 0 4 1 0 0 1 0-563 2 5 1 0 0 2-1 0-1 5 2 1 0 78-1 8 0 5-1 3 2 1-2 72 2 4-2 2 2 0-2 3 1 8 1 3-1 177 0 2 0 1 0 1 0 8 0 74-1 2 2 1 0 3-2 8 2 76 0 4 0 4-1 3 1 3-2 3 0 1 0 4 2-654 3 76-1 4 1 4 0 0 0 3-1 75-1 8 1 0 0 8-1 1 0 84 1 8 0 3-1 3 0 0 1 1 1 1-2 163 2 3-2 6 2 16-2 69 1 4 0 3-1 2 1 12 1 2-2 73 1 11 1 4-2 1 2-668 3 11-2 0 2 2 0 87-1 9 1 82 0 0-2 4 0 10 2 0-1 77 0 2 1 0-2 11 1 3-1 0 2 2 0 74 0 1 0 18 0 2-1 0 1 78 0 1-2 4 2 3 0 1-1 1-1 74 0 5 1 2 0 12 1 1-1 74-1 2 0 2 1 1-1 0 1 2 1 2-2 1 1 3-1 8 2 3 0-678 3 3-1 2 0 1 0 5 0 1 1 4-2 4 1 0 0 73-1 3 2 3 0 1 0 2-1 1 1 84 0 1-1 1 0 15-1 75 0 9 1 6-1 82 2 18-2 0 2 1-2 2 0 1 2 69-1 2-1 0 0 2 2 1-1 1 1 3-2 2 0 4 1 6 0 71-1 7 0 1 0 10 0 4 0 2 0 1 1 71 1 4-1 7 0 8 1 1 0-674 3 3-2 2 2 10 0 1-1 6 1 70-1 1 0 3-1 2 2 2-1 1 0 1 1 1 0 2-2 3 0 8 0 68 0 4 0 1 2 7-1 1-1 3 2 5 0 6-1 67-1 10 1 2-1 10 0 3 2 72-2 2 2 14-2 1 0 3 1 2-1 72 2 1-2 8 1 5-1 2 0 2 1 71 1 2-2 6 0 2 2 3 0 1-2 83 1 6-1 4 2 3 0-669 3 10-2 1 2 0 0 0 0 3-1 1 0 0 1 3-1 5 1 0 0 72 0 5-2 11 0 3 2 4 0 69-1 3 0 5-1 4 0 3 1 79 1 4-1 3 0 16 0 69 0 1 0 2-1 0 1 5 0 8 0 3 0 1 1 1-2 3 2 69-2 4 2 3-1 1 0 3-1 11 1 73 1 2-1 4 1 3 0 3 0 7 0 80-1 2-1 8 0 2 1 1-1 0 1-662 4 8-2 77 0 1 1 3 0 1 0 11-1 1 1 5-1 68 2 1 0 8 0 2 0 82-2 1 0 3 0 4 0 6 0 4 0 0 0 6 0 76 0 8 1 4 1 8 0 70-2 17 0-485 4 4 0 5 0 1 1 2 0 0-1 1 1 1 0 3-2 0 0 0 2 1-1 76-1 5 0 5 1 5 0 1-1 1 1 6 0 74-1 5 0 0 0 12 0 0 0 169 2 1 0 1-2 11 1 0 0 76 1 6 0 13-2 0 1-487 2 1 0 8 0 3 0 7 0"/>
<path class="b" marker-start="url(#mr)" marker-mid="url(#mr)" marker-end="url(#mr)" d="M1150 95l-888 26 881 0-782 2-193 8 103-2-92 8 94-1 881 1 94 0-970 3-8 5 91-1 710 5 95-2 76 0 102 1-976 3 871-1-798 6 720 0-886 4 973-1 88 0-84 5-969 1 788 2 79 0 184 0-1076 2 98-1 713 2 93 2-972 4 92-2 969 0-983 3 96 1 801 0 72-1-971 4 799 0 83 1 6-2-981 5 1069-2-1057 4 81-1 12 1 777-1 90 0 13 2 83 0-782 1 684 2 5 1 10 0-95 4 189-1 88 2-104 1 3 2-881 3 700-1 182 1-876 1 870 1 10 1 9 0 3-2-183 3 275 0-22 5-257 3-704 1 685 0 24 2-903 1 203 2 681-1 3 1 1 0 2-1 283 0-970 4 962-1-1163 2 17 0 251 1-77 4-12 1 99 10 893 0 5 1-1 2 77 1-94 1 5 0 104 0-978 3 974 0 2 2-997 3 980 1 9 0 1 0-983 3 18 4-3 4 0 2 1055 0 8-1 3 2-1072 2 76 0 978-1 6 1 7 0-1083 4 106-1 1079 0 75 1-1257 1 8 1 3 0 80 1 5-1 1072 1-1068 2 11 0 1046 1 99 0-90 2 105 1-102 2 100 0-104 3 83 1 11 0 5-2-3 3-1079 8 0-2 7 2 3 1 7 1 2 0 78 10 1 3-1 3-3 2 19 1-5 1 1 1 93 4-23 2 2 0 3 1 3 0 12 0 1 1 5 0-11 66-10 8 1 2 700 0-691 4 2-2 870 10 10 4-264 1 170 1-871 2 876 2 84-1-961 5 704 0 171 0 97 0-290 4 104 0 87 1 16-2-113 5-89 2 98 1 80-2-181 5 109-1 71-1 3 1 18-1-96 4-804 4 696 0 11-1 7-1-12 3-973 3-2 4 887 27-877 6 878 1 4 0-891 3 13 5 880 0-4 5-892 4 893-1-891 4 16-1 681 2 187 0-869 1 0 2-9 2 8-1 863 0-258 5 99-1 172 2 6 1-279 4 94-1 83 2 102 1-294 2 100 2 99-1 81-1-186 5 184-2 14 2-985 2 883 0 7 1 88 0 1-1-977 3 11 1 961-2 9 0-985 3 13 2 780 0 11-1 97 1-904 1 19 2 5-2 684 0 173 1-876 3 2-1 1 1 4 0 2-1 777 1-81 4 91-2 3 1-99 3 87 1 96 0 12-1-89 2 71 2 1 0 1-2-179 5 101-2 1 2-18 1 7 0 3 0-94 3 7 2-11 3 9 1 8 2 4-1-446 22 1 0 4 0 9 0 6 0-384 9 18 0-13 1 4 2 2-1 2 0 6 1-21 3 0-2 4 2 0 0 7-1 0 1 1-1 0 0 4 0 2 0-111 3 0 1 0 0 1 0 3-1 1 1 1 0 0-1 2 1 1 0 1 0 5 0 2 0 4 0 348-2 10 0 2 0 3 0 3 1 1-1 181 43 323 3-341 5 323 7-326 6 24 2 298 7 25 3-21 5 9 6 11 4-21 3 11 2-11 4 0 1 10-1-237 5 1 3 620 2-9 9-607 5 323 0 292 0-623 2 12 1 3 1 599-1-270 4-4 11-527 2 12 2 507-1-590 5 78 1 14 3 488 0 16 2-18 5 11 1-597 5 591-2 3 4-4 4 7 0 2 0 6 1-603 5 783-2-865 6 80 0-10 4 1084 0-1084 3 4-1-274 5 1066 2-1055 2 190 1 770 0 361 0-1314 2 960 5 3-1 281-1 87 5-1350 1 195 0 775 1 94 0 181-1-1229 3 81 0 82 1 785 0 107 0 185-1-1152 3 77 1 17 1 5-2 773 0 6 2 269 0 4-1 8-1-1167 4 91-1 4 1 772 1 2 0 0-1-5 2 3 0 109 2 273-2 97 0-1349 3 10 1-183 2 171 1 14-1 959 1 277 0-1340 4 4-2 88 2 20-2 947 2 1-2 387 1-1534 2 8 2 79 0 88 0 8 0 2 0 7-2 1 2 3 0 947 0 6-1 288-1-1428 3 99 2 1032-2 16 0 4 0-1169 5 100-2 8 2 7 0 2-1 1319 1 12 1 95 1-18 2 8 1 14-1-1536 4 13-1-23 5 2 0-1 3 6 0 9-2-13 3 1149 58-1140 4 1152 18-1156 3-5 9 1157-1-1145 12-14 3 1168 2-1166 3 1168 0-1171 3 15 3-13 5 19-1 348-1 803 0-1165 5 0-1 3-1 8 2 354 6 786-2 0 8-783 2 792 3 0-1-800 5-263 6 280-1 787 0-792 5-273 9 5 3-14 6 16 4 947-1-950 4 969 1 446 0-454 4 452 2 18-2-1437 3 4 2-16 1 6 2 957-1 0-1 484 0 1 2-1450 3 11 0 11 0 965-1 460 1 1-2-10 4 6 1-459 3 4-1-24 10 16-1-15 2 8 2 14-1-801 2 690 0 112 0-876 5 75-1-98 3 384 0-375 3 368 1-374 3 102-1 681 1-774 3 774-1-492 2 504 1-776 4 258-1 1 0 91 1 413 0 477-1-1243 4 71-1 205-1 494 1-787 2 9 1 7 0 87-1 1154 0-1163 3 270 0 101 2-367 1 276 2 87-1 791 0-1150 2 685 0 10 1 466-1-1173 3 4 2 1-1 5 1 1 0 357 0-80 5 77 4 3-1 13-1-12 3 17 1 696 4-5 5-5 3 6 0-483 18 6 1 6-1 5 1 3 0-20 1 1 1 0 1 7 0 0-1 1 1 4-1 6-1 3 1 370 1-18 1 3 0 2 0 8 0 12 0-620 44-89 15 98 8-112 8 13 6 8 0 73 3 7 4 10 1 0 1-369 54 9 5-3 13-107 6 101 0-101 4-4 4 10-2 80 0 9 0 15 4-108 2 10 1 88-1 9 1-113 2 14 2 94-2-99 7 14-1 70 2 1-1 16 1-111 3 13-1 7-1 3 2-25 2 1 0 12 0 273 12 6 3-359 4 262 0 94 0-365 3 264-1 0 7 4-2-282 3 274 2-263 3 269-2 16 0-272 6-2 3-19 3 6 1 10 1-106 2 12 1 82-2-92 5 1 0 13-1 78 0-98 4 5-2 16 2 1 0-14 1 1 0 1 0 7 0 8 0"/>
<path class="b" marker-start="url(#mrd)" marker-mid="url(#mrd)" marker-end="url(#mrd)" d="M271 98l-10 8 896 0-897 5 898 6-93 6 84 5-80 3 166-2-872 4-185 11 886 0 79 0-874 7-100 4 902 1-811 3 885 0-972 4 191-1-184 5 973 0 98-2-796 3 1 3 872 3-1064 3-3 4 103-1-97 5 13 0 2-2 1055 1-1066 3 977-1-891 4 716-1 72 1 11-1 10 2-974 3 168 0 892-2-1080 5 273-1 620 1 181 0 102-2-104 8-1055 3 2-1 1064 1-1067 3 176 0 86-1-271 4 878-1 4-1-616 3 888 0-1153 4-1 3 8 1 188-2-206 4 905-1-904 3 17 0 178 2 90-1-86 3 2 0 967 1 10-1-984 3 4 0 979 3-885 4 865-2 9 1 86 2-90 5 18 1 68 6 9 1 3 1 80 11 11 1-982 5 970 0 7 0 0-1 87 2-1152 1 13 4 92-1-19 3 10 0 7 0 1148 0-94 6-1 3 9 0 6 1 84-1-2 3-1076 6-2 4 4-1 5 1 4 0 91 15-16 6 7-1 6 1 97 8 6 0 1 0-21 42 8 5 7 11-12 9-4 13 13 1-89 8 697-1 101 2 171 0-184 4 195 1-18 6 3-2 18 1-191 3 166 0 7 0-962 6-9 4 694 0 184 0 10-2-893 4-263 2 262 2 791-2 17 2-802 1-4 3 10 0-277 15-7 3 10 7 7 7-10 1-2 15-6 5 12 3-9 8 606-1-608 4 1-1 604 2 90-2 204 1-21 10-164 3-807 1 15 1 972 0-979 4 8-2 870 0-866 5 687 0 83 0 181-2 2 2-275 2 271-1-948 4 873-1-887 5 8-1 868 0-885 3 4 0 8 0 706-1 163 2 23-2-20 5 11-2-102 4 87-1-171 4 172 0 13 1 2-1 1 0 1 1-108 1 9 2-90 1 87 0-98 5 1 5 6 1 14-2-447 22 1 0 5 1 0 0 9 0 2 0-380 12 9-1-10 2 1 2 9-2 7 1 3 1 252 0-364 3 3 0 2 0 3 0 2-1 1 1 1 0 7 0 2 0 2 0 348-1 4-1 13 1 1 0 176 32 304 1-310 2 329 3 3 11-344 8 2-1 11 4 312 0-304 6 3-1 316 2 1 12 373 1-386 3 11 6 369 0-379 8 9-1-12 4 15-2 355 0-595 14-186 1 801 1-608 2-184 5 187 0 1-1-196 7 195 0 583 1 4 2-268 1 278 0-776 4-15 2 519 1-603 3 99 10 496-2-514 3 512 0-598 8 596 5-694 4 684-2 26 2 175 0-777 3 601-2-696 3 672 0 0 0-669 7 870 2 6 3-885 3 6 1 91 1-95 2 881 0-107 5 280 1-1056 2 3 2 768-1 117 1-1059 2 1040 1 186-1-1050 2 6 1 776-1 0 2 462 0-1332 1 92 2 1051-1-278 2 1 2 376-2-1344 5 107 0 89-1 761 0 284 1 12-1-1252 2 183 1 13 0 0 0 761-1 7 2 4-2 80 0-1041 4 80 1 14-2 870 0 10 0 88 0-1077 4 1062 0 392 0-1430 3-95 2 88 1 76 0 2-1 973 1-968 3 4 1 4-1 956 1-1141 3 93-2 1343 2 81-2 9 2-1443 1 0 1 17 1 1320-1 96 1-1509 3-19 2 3 3 7 2-9 4-4 2 9 0 5 0 10 0-3 65-14 5 1149 3-1134 7-18 6 1162 0-1162 11 7 5 1142 0-786 4-364 10 374 1-359 3-3 5 1 0 1144 1 0 9-1056 14 264 0 780-2 17 2-6 2-786 3 776 1 0-2 7 1 6 1 10 0-1058 2 249-1-271 5 2 14-1 9 8 1 4 3 964 1-970 8 2-2 8 0 1 2 178-2-15 4 807 0 449 0 3-1-1259 7 278-1 507 1-76 3 80-1 6 1-780 4 697-2 79 0 4 4 12 1-20 1 11 0-618 4 519 0-776 3 778 0-788 4 93-2 174 1 510-1-490 3-274 3 80 2 183-1-269 2 3 2 90 0 171 0 190 0-446 1 260 2-279 1 2 0 6 2 8-1 261-1 510 0-786 3 2 1 1-1 5 1 459 0 318 0-688 3 684-1 7 1 461 1 12-2-478 5 2-2 3 2 3-1 471 1-1171 2 12 1 274-1 408 0 5-1 14 0 442 1 1 1 16 0 4 0-1176 3 296 1 66 2-89 2 9-1 780 3 4 5 17-2 0 7-5 3-11 3 11-1-484 23 1 0 1-1 4 1 2 0 3-2 4 2 3-2 2 1 2 0 352 1 17 0-17 1 22 0 2 0-632 32-86 14 7 4 93 8-89 8 6 2-16 4 99 1-93 5 11 1 73 0-2 6-367 68 12 2 13 8-92 3 87 5-98 15 81 0 1 2 8-2 7 2-102 3 84 0 7-1 13 0-110 7 3-1 4 0 12-1 256 8 17-1-361 2 348 2-359 2-5 3 377 1-16 3 0-2 9 2 9-1-105 5-276 3 282 4 8-1-275 4 264 0-269 7 2 9 5 0-115 2 7-1 89 0 12 1 4 0 2 0 0 0-108 3 2 1 0-1 7-1-8 3 7 0 4 0 2 0"/>
<path class="bx" d="M136.5 304H155.6V325.9H136.5ZM136.5 315.6H155.6M140.1 227H152.1M140.1 342.7H152.1M227.3 318.9H247.3V337.8H227.3ZM227.3 328.9H247.3M231.3 188.3H243.3M231.3 344.1H243.3M317.8 333.6H337.5V340.5H317.8ZM317.8 337.2H337.5M321.6 233.4H333.6M321.6 344.1H333.6M409.2 338.3H428.2V342H409.2ZM409.2 340H428.2M412.7 278.8H424.7M412.7 344.1H424.7M500.1 308.5H520.2V325.6H500.1ZM500.1 316.3H520.2M504.1 281.4H516.1M504.1 341.2H516.1M590.8 321.7H610.7V336.5H590.8ZM590.8 330H610.7M594.8 302.8H606.8M594.8 343.8H606.8M682.5 334.5H701.2V340.4H682.5ZM682.5 337.5H701.2M685.9 324H697.9M685.9 343H697.9M772.8 338.4H793.2V341.7H772.8ZM772.8 340H793.2M777 332H789M777 343.6H789M137.8 619H157V620.6H137.8ZM137.8 619.3H157M141.4 619H153.4M141.4 619.9H153.4M228.4 619H248.4V620.6H228.4ZM228.4 619.4H248.4M232.4 615.2H244.4M232.4 620H244.4M319.2 608.9H339.2V620H319.2ZM319.2 616.6H339.2M323.2 554.9H335.2M323.2 620.5H335.2M411.1 594.2H429.7V618.5H411.1ZM411.1 610.2H429.7M414.4 521.1H426.4M414.4 619.1H426.4M501.2 618H521.6V619.6H501.2ZM501.2 618.5H521.6M505.4 617.2H517.4M505.4 619.5H517.4M592 610.1H611.9V617.5H592ZM592 613.6H611.9M596 600.9H608M596 619.4H608M683.9 516.8H702.7V573.1H683.9ZM683.9 546.4H702.7M687.3 454.7H699.3M687.3 617.1H699.3M774.3 475.8H794.7V526.5H774.3ZM774.3 501.3H794.7M778.5 412.1H790.5M778.5 590.2H790.5M139.2 889.7H158.4V893H139.2ZM139.2 891.5H158.4M142.8 875H154.8M142.8 895.2H154.8M230 887H249.7V891.6H230ZM230 889.5H249.7M233.8 858.4H245.8M233.8 895.2H245.8M320.6 884.2H340.2V890.2H320.6ZM320.6 887.5H340.2M324.4 852.9H336.4M324.4 895.2H336.4M412.5 879.2H431.1V887.5H412.5ZM412.5 883.9H431.1M415.8 836.8H427.8M415.8 895.2H427.8M502.3 861.6H522.7V884.8H502.3ZM502.3 876.7H522.7M506.5 807.4H518.5M506.5 893.6H518.5M593.4 838H613.6V872.8H593.4ZM593.4 855.2H613.6M597.5 770.1H609.5M597.5 892.5H609.5M685.1 780.6H703.9V847.3H685.1ZM685.1 815.3H703.9M688.5 683.7H700.5M688.5 889.9H700.5M775.4 796.3H795.9V836.6H775.4ZM775.4 815.3H795.9M779.7 744.7H791.7M779.7 883.2H791.7M137.3 1083H155.6V1136.2H137.3ZM137.3 1112.1H155.6M140.4 1000H152.4M140.4 1178.5H152.4M227.8 1124H247.8V1152.2H227.8ZM227.8 1138.4H247.8M231.8 1072H243.8M231.8 1181.3H243.8M318.4 1147.5H338.4V1162.5H318.4ZM318.4 1155H338.4M322.4 1118.5H334.4M322.4 1178.5H334.4M410 1158.3H428.9V1168.3H410ZM410 1163.3H428.9M413.4 1132H425.4M413.4 1178.5H425.4M500.5 1106.4H520.9V1138.9H500.5ZM500.5 1124.3H520.9M504.7 1030.5H516.7M504.7 1171.8H516.7M591.3 1146.3H611.2V1161.3H591.3ZM591.3 1153.9H611.2M595.2 1114.5H607.2M595.2 1179.4H607.2M683 1160.9H702V1170.6H683ZM683 1166H702M686.5 1137H698.5M686.5 1179.4H698.5M773.8 1169H793.5V1176.4H773.8ZM773.8 1172.9H793.5M777.6 1142.3H789.6M777.6 1179.4H789.6M135.1 1443.3H154.2V1448.9H135.1ZM135.1 1446H154.2M138.7 1430H150.7M138.7 1456.6H150.7M225.6 1442H245.6V1448.9H225.6ZM225.6 1445.3H245.6M229.6 1424.8H241.6M229.6 1456.6H241.6M316.4 1419.2H336.4V1442H316.4ZM316.4 1432.2H336.4M320.4 1374.1H332.4M320.4 1456.6H332.4M408.3 1415.1H427.2V1441.1H408.3ZM408.3 1430H427.2M411.8 1368.6H423.8M411.8 1456.6H423.8M498.6 1428.6H519V1442H498.6ZM498.6 1436.2H519M502.8 1406.1H514.8M502.8 1455.2H514.8M589.2 1415.2H609.6V1434.4H589.2ZM589.2 1424.7H609.6M593.4 1392.7H605.4M593.4 1453.6H605.4M681.2 1342.2H700V1394.3H681.2ZM681.2 1370H700M684.6 1258.3H696.6M684.6 1447.1H696.6M771.5 1348.9H791.9V1393.2H771.5ZM771.5 1374.2H791.9M775.7 1267.6H787.7M775.7 1432.8H787.7M1017.8 286.3H1036.7V318.6H1017.8ZM1017.8 303.7H1036.7M1021.2 223.1H1033.2M1021.2 342.5H1033.2M1109.5 298.7H1128.4V326.4H1109.5ZM1109.5 314.5H1128.4M1113 193.5H1125M1113 343.8H1125M1200.6 303.7H1221.1V324.2H1200.6ZM1200.6 314.5H1221.1M1204.8 207.4H1216.8M1204.8 342.5H1216.8M1291.9 306.5H1312.5V322.8H1291.9ZM1291.9 314.5H1312.5M1296.2 247.5H1308.2M1296.2 342.5H1308.2M1384.7 291.3H1403.7V316.3H1384.7ZM1384.7 303.5H1403.7M1388.2 256.5H1400.2M1388.2 338.3H1400.2M1476.2 303.5H1496.6V326.7H1476.2ZM1476.2 316.7H1496.6M1480.4 272.7H1492.4M1480.4 342.5H1492.4M1567.4 308.9H1588.1V322.8H1567.4ZM1567.4 315.8H1588.1M1571.8 290.3H1583.8M1571.8 337.1H1583.8M1660.1 308.9H1680V320.4H1660.1ZM1660.1 314H1680M1664 292.7H1676M1664 336H1676M1017.8 615.2H1037V618.5H1017.8ZM1017.8 617H1037M1021.4 579.2H1033.4M1021.4 619.4H1033.4M1109.5 613.8H1128.4V618.5H1109.5ZM1109.5 616.5H1128.4M1113 568.7H1125M1113 619.4H1125M1200.6 612.5H1221.1V618.5H1200.6ZM1200.6 615.5H1221.1M1204.8 564.6H1216.8M1204.8 619.4H1216.8M1291.9 612.5H1312.5V617.7H1291.9ZM1291.9 615H1312.5M1296.2 544.6H1308.2M1296.2 619.4H1308.2M1384.7 545.7H1403.7V600.6H1384.7ZM1384.7 576.3H1403.7M1388.2 454.2H1400.2M1388.2 619.4H1400.2M1476.2 537.6H1496.6V593.9H1476.2ZM1476.2 569.6H1496.6M1480.4 450.3H1492.4M1480.4 618.2H1492.4M1567.4 503.6H1588.1V564.3H1567.4ZM1567.4 532.3H1588.1M1571.8 446.1H1583.8M1571.8 618.2H1583.8M1660.1 489H1679.6V548.5H1660.1ZM1660.1 517.2H1679.6M1663.8 434.1H1675.8M1663.8 611.3H1675.8M1006.8 801.6H1025.9V856.5H1006.8ZM1006.8 832.1H1025.9M1010.4 717.2H1022.4M1010.4 899.9H1022.4M1099.5 844H1120.1V873.1H1099.5ZM1099.5 858.7H1120.1M1103.8 790.6H1115.8M1103.8 902.7H1115.8M1192.3 868.6H1212.8V883.6H1192.3ZM1192.3 875.8H1212.8M1196.5 838.5H1208.5M1196.5 899.9H1208.5M1286.4 879.7H1305.6V890.8H1286.4ZM1286.4 884.7H1305.6M1290 853.7H1302M1290 899.9H1302M1378.8 826.4H1399.7V859.3H1378.8ZM1378.8 845.4H1399.7M1383.2 748.6H1395.2M1383.2 894.1H1395.2M1471.5 867H1492.9V882.5H1471.5ZM1471.5 875.1H1492.9M1476.2 834.5H1488.2M1476.2 902.9H1488.2M1565.8 882H1585.5V893.6H1565.8ZM1565.8 888.3H1585.5M1569.7 859.3H1581.7M1569.7 902.9H1581.7M1658.5 890.1H1679.3V897.5H1658.5ZM1658.5 894.1H1679.3M1662.9 863.3H1674.9M1662.9 901.5H1674.9M1006.8 1180.5H1025.9V1183.2H1006.8ZM1006.8 1181.8H1025.9M1010.4 1176.3H1022.4M1010.4 1188.8H1022.4M1099.5 1160.3H1120.1V1176.9H1099.5ZM1099.5 1169.4H1120.1M1103.8 1127.3H1115.8M1103.8 1187.4H1115.8M1192.3 1137H1212.8V1163H1192.3ZM1192.3 1150.6H1212.8M1196.5 1090.5H1208.5M1196.5 1186H1208.5M1286.4 1109.9H1305.6V1148.1H1286.4ZM1286.4 1130.1H1305.6M1290 1029.6H1302M1290 1183.2H1302M1378.8 1180.7H1399.7V1183H1378.8ZM1378.8 1181.8H1399.7M1383.2 1177.9H1395.2M1383.2 1187.6H1395.2M1471.5 1170.9H1492.9V1179.5H1471.5ZM1471.5 1174.9H1492.9M1476.2 1154.7H1488.2M1476.2 1187.6H1488.2M1565.8 1161.4H1585.5V1172.5H1565.8ZM1565.8 1166.8H1585.5M1569.7 1129H1581.7M1569.7 1181.8H1581.7M1658.9 1138.3H1679.6V1164.4H1658.9ZM1658.9 1154.7H1679.6M1663.2 1074.1H1675.2M1663.2 1180.7H1675.2"/>
<path class="wh" d="M146.1 227V304M146.1 325.9V342.7M237.3 188.3V318.9M237.3 337.8V344.1M327.6 233.4V333.6M327.6 340.5V344.1M418.7 278.8V338.3M418.7 342V344.1M510.1 281.4V308.5M510.1 325.6V341.2M600.8 302.8V321.7M600.8 336.5V343.8M691.9 324V334.5M691.9 340.4V343M783 332V338.4M783 341.7V343.6M238.4 615.2V619M329.2 554.9V608.9M420.4 521.1V594.2M602 600.9V610.1M602 617.5V619.4M693.3 454.7V516.8M693.3 573.1V617.1M784.5 412.1V475.8M784.5 526.5V590.2M148.8 875V889.7M148.8 893V895.2M239.8 858.4V887M239.8 891.6V895.2M330.4 852.9V884.2M330.4 890.2V895.2M421.8 836.8V879.2M421.8 887.5V895.2M512.5 807.4V861.6M512.5 884.8V893.6M603.5 770.1V838M603.5 872.8V892.5M694.5 683.7V780.6M694.5 847.3V889.9M785.7 744.7V796.3M785.7 836.6V883.2M146.4 1000V1083M146.4 1136.2V1178.5M237.8 1072V1124M237.8 1152.2V1181.3M328.4 1118.5V1147.5M328.4 1162.5V1178.5M419.4 1132V1158.3M419.4 1168.3V1178.5M510.7 1030.5V1106.4M510.7 1138.9V1171.8M601.2 1114.5V1146.3M601.2 1161.3V1179.4M692.5 1137V1160.9M692.5 1170.6V1179.4M783.6 1142.3V1169M783.6 1176.4V1179.4M144.7 1430V1443.3M144.7 1448.9V1456.6M235.6 1424.8V1442M235.6 1448.9V1456.6M326.4 1374.1V1419.2M326.4 1442V1456.6M417.8 1368.6V1415.1M417.8 1441.1V1456.6M508.8 1406.1V1428.6M508.8 1442V1455.2M599.4 1392.7V1415.2M599.4 1434.4V1453.6M690.6 1258.3V1342.2M690.6 1394.3V1447.1M781.7 1267.6V1348.9M781.7 1393.2V1432.8M1027.2 223.1V286.3M1027.2 318.6V342.5M1119 193.5V298.7M1119 326.4V343.8M1210.8 207.4V303.7M1210.8 324.2V342.5M1302.2 247.5V306.5M1302.2 322.8V342.5M1394.2 256.5V291.3M1394.2 316.3V338.3M1486.4 272.7V303.5M1486.4 326.7V342.5M1577.8 290.3V308.9M1577.8 322.8V337.1M1670 292.7V308.9M1670 320.4V336M1027.4 579.2V615.2M1119 568.7V613.8M1210.8 564.6V612.5M1302.2 544.6V612.5M1302.2 617.7V619.4M1394.2 454.2V545.7M1394.2 600.6V619.4M1486.4 450.3V537.6M1486.4 593.9V618.2M1577.8 446.1V503.6M1577.8 564.3V618.2M1669.8 434.1V489M1669.8 548.5V611.3M1016.4 717.2V801.6M1016.4 856.5V899.9M1109.8 790.6V844M1109.8 873.1V902.7M1202.5 838.5V868.6M1202.5 883.6V899.9M1296 853.7V879.7M1296 890.8V899.9M1389.2 748.6V826.4M1389.2 859.3V894.1M1482.2 834.5V867M1482.2 882.5V902.9M1575.7 859.3V882M1575.7 893.6V902.9M1668.9 863.3V890.1M1668.9 897.5V901.5M1016.4 1176.3V1180.5M1016.4 1183.2V1188.8M1109.8 1127.3V1160.3M1109.8 1176.9V1187.4M1202.5 1090.5V1137M1202.5 1163V1186M1296 1029.6V1109.9M1296 1148.1V1183.2M1389.2 1177.9V1180.7M1389.2 1183V1187.6M1482.2 1154.7V1170.9M1482.2 1179.5V1187.6M1575.7 1129V1161.4M1575.7 1172.5V1181.8M1669.2 1074.1V1138.3M1669.2 1164.4V1180.7"/>
<text class="t" x="109" y="100.8" text-anchor="end">1013.62</text>
<text class="t" x="109" y="128.5" text-anchor="end">901.14</text>
<text class="t" x="109" y="156.5" text-anchor="end">788.655</text>
<text class="t" x="109" y="184.5" text-anchor="end">676.171</text>
<text class="t" x="109" y="212.5" text-anchor="end">563.686</text>
<text class="t" x="109" y="240.4" text-anchor="end">451.202</text>
<text class="t" x="109" y="268.3" text-anchor="end">338.717</text>
<text class="t" x="109" y="296.3" text-anchor="end">226.233</text>
<text class="t" x="109" y="324.3" text-anchor="end">113.748</text>
<text class="t" x="109" y="352" text-anchor="end">1.26399</text>
<text class="t" transform="translate(865.5 131.1) rotate(90)" textLength="174.1" lengthAdjust="spacingAndGlyphs">1523.901 m/z ± 0.3 Da</text>
<text class="h k" x="136.5" y="149.2" font-size="48.5" textLength="25.5" lengthAdjust="spacingAndGlyphs" style="stroke-width:1.6">S</text>
<text class="t" x="110.6" y="377.7" text-anchor="end">335.093</text>
<text class="t" x="110.6" y="405.5" text-anchor="end">297.862</text>
<text class="t" x="110.6" y="433.4" text-anchor="end">260.63</text>
<text class="t" x="110.6" y="461.5" text-anchor="end">223.399</text>
<text class="t" x="110.6" y="489.5" text-anchor="end">186.167</text>
<text class="t" x="110.6" y="517.4" text-anchor="end">148.936</text>
<text class="t" x="110.6" y="545.4" text-anchor="end">111.704</text>
<text class="t" x="110.6" y="573.4" text-anchor="end">74.4726</text>
<text class="t" x="110.6" y="601.2" text-anchor="end">37.2411</text>
<text class="t" x="110.6" y="627.7" text-anchor="end">0.00962092</text>
<text class="t" transform="translate(867.2 411.4) rotate(90)" textLength="165.6" lengthAdjust="spacingAndGlyphs">675.252 m/z ± 0.3 Da</text>
<text class="h k" x="134.5" y="413.6" font-size="48.5" textLength="28.5" lengthAdjust="spacingAndGlyphs" style="stroke-width:1.6">P</text>
<text class="t" x="111.2" y="653.1" text-anchor="end">34.1104</text>
<text class="t" x="111.2" y="681.1" text-anchor="end">30.3207</text>
<text class="t" x="111.2" y="709.1" text-anchor="end">26.531</text>
<text class="t" x="111.2" y="735.9" text-anchor="end">22.7414</text>
<text class="t" x="111.2" y="763.7" text-anchor="end">18.9517</text>
<text class="t" x="111.2" y="791.6" text-anchor="end">15.1621</text>
<text class="t" x="111.2" y="819.6" text-anchor="end">11.3724</text>
<text class="t" x="111.2" y="847.6" text-anchor="end">7.58276</text>
<text class="t" x="111.2" y="875.5" text-anchor="end">3.7931</text>
<text class="t" x="111.2" y="903.2" text-anchor="end">0.00344587</text>
<text class="t" transform="translate(867.2 686.8) rotate(90)" textLength="165.6" lengthAdjust="spacingAndGlyphs">864.608 m/z ± 0.3 Da</text>
<text class="h k" x="134.5" y="687" font-size="48.5" textLength="28.5" lengthAdjust="spacingAndGlyphs" style="stroke-width:1.6">P</text>
<text class="t" x="109.4" y="939" text-anchor="end">134.601</text>
<text class="t" x="109.4" y="967.2" text-anchor="end">119.758</text>
<text class="t" x="109.4" y="993.5" text-anchor="end">104.915</text>
<text class="t" x="109.4" y="1021.6" text-anchor="end">90.0727</text>
<text class="t" x="109.4" y="1049.6" text-anchor="end">75.2299</text>
<text class="t" x="109.4" y="1077.8" text-anchor="end">60.3872</text>
<text class="t" x="109.4" y="1105.5" text-anchor="end">45.5445</text>
<text class="t" x="109.4" y="1133.5" text-anchor="end">30.7018</text>
<text class="t" x="109.4" y="1161.6" text-anchor="end">15.859</text>
<text class="t" x="109.4" y="1189.4" text-anchor="end">1.0163</text>
<text class="t" transform="translate(865.5 969) rotate(90)" textLength="173.8" lengthAdjust="spacingAndGlyphs">1529.903 m/z ± 0.3 Da</text>
<text class="h k" x="136.4" y="970.3" font-size="48.5" textLength="25.5" lengthAdjust="spacingAndGlyphs" style="stroke-width:1.6">S</text>
<text class="t" x="108.5" y="1214.8" text-anchor="end">15.4115</text>
<text class="t" x="108.5" y="1242.6" text-anchor="end">13.6995</text>
<text class="t" x="108.5" y="1270.7" text-anchor="end">11.9876</text>
<text class="t" x="108.5" y="1298.4" text-anchor="end">10.2756</text>
<text class="t" x="108.5" y="1326.4" text-anchor="end">8.56363</text>
<text class="t" x="108.5" y="1354.3" text-anchor="end">6.85166</text>
<text class="t" x="108.5" y="1382.3" text-anchor="end">5.13968</text>
<text class="t" x="108.5" y="1410.2" text-anchor="end">3.42771</text>
<text class="t" x="108.5" y="1438.3" text-anchor="end">1.71574</text>
<text class="t" x="108.5" y="1464.9" text-anchor="end">0.00376646</text>
<text class="t" transform="translate(864 1247.9) rotate(90)" textLength="165.6" lengthAdjust="spacingAndGlyphs">831.298 m/z ± 0.3 Da</text>
<text class="h k" x="135" y="1249.8" font-size="48.5" textLength="28.5" lengthAdjust="spacingAndGlyphs" style="stroke-width:1.6">P</text>
<text class="t" x="990.2" y="99.3" text-anchor="end">63.0063</text>
<text class="t" x="990.2" y="127.5" text-anchor="end">56.0523</text>
<text class="t" x="990.2" y="154.6" text-anchor="end">49.0983</text>
<text class="t" x="990.2" y="182.8" text-anchor="end">42.1442</text>
<text class="t" x="990.2" y="211" text-anchor="end">35.1902</text>
<text class="t" x="990.2" y="239.1" text-anchor="end">28.2361</text>
<text class="t" x="990.2" y="267.3" text-anchor="end">21.2821</text>
<text class="t" x="990.2" y="295.6" text-anchor="end">14.328</text>
<text class="t" x="990.2" y="323.9" text-anchor="end">7.37399</text>
<text class="t" x="990.2" y="351.8" text-anchor="end">0.419946</text>
<text class="t" transform="translate(1754.2 129.8) rotate(90)" textLength="174.9" lengthAdjust="spacingAndGlyphs">1328.844 m/z ± 0.3 Da</text>
<text class="h k" x="1019.5" y="150" font-size="48.5" textLength="25.5" lengthAdjust="spacingAndGlyphs" style="stroke-width:1.6">S</text>
<text class="t" x="990.6" y="375.2" text-anchor="end">143.004</text>
<text class="t" x="990.6" y="403.3" text-anchor="end">127.115</text>
<text class="t" x="990.6" y="431.6" text-anchor="end">111.225</text>
<text class="t" x="990.6" y="459.8" text-anchor="end">95.3362</text>
<text class="t" x="990.6" y="487.8" text-anchor="end">79.4469</text>
<text class="t" x="990.6" y="516.1" text-anchor="end">63.5576</text>
<text class="t" x="990.6" y="544.4" text-anchor="end">47.6683</text>
<text class="t" x="990.6" y="572.7" text-anchor="end">31.779</text>
<text class="t" x="990.6" y="600.9" text-anchor="end">15.8897</text>
<text class="t" x="990.6" y="627.6" text-anchor="end">0.000459449</text>
<text class="t" transform="translate(1754.2 409.8) rotate(90)" textLength="166.7" lengthAdjust="spacingAndGlyphs">1248.72 m/z ± 0.3 Da</text>
<text class="h k" x="1017.5" y="413.6" font-size="48.5" textLength="28.5" lengthAdjust="spacingAndGlyphs" style="stroke-width:1.6">P</text>
<text class="t" x="978.6" y="654.4" text-anchor="end">134.601</text>
<text class="t" x="978.6" y="683" text-anchor="end">119.758</text>
<text class="t" x="978.6" y="712" text-anchor="end">104.915</text>
<text class="t" x="978.6" y="740.4" text-anchor="end">90.0727</text>
<text class="t" x="978.6" y="769.2" text-anchor="end">75.2299</text>
<text class="t" x="978.6" y="797" text-anchor="end">60.3872</text>
<text class="t" x="978.6" y="825.4" text-anchor="end">45.5445</text>
<text class="t" x="978.6" y="853.9" text-anchor="end">30.7018</text>
<text class="t" x="978.6" y="882.4" text-anchor="end">15.859</text>
<text class="t" x="978.6" y="911.2" text-anchor="end">1.0163</text>
<text class="t" transform="translate(1754.2 686.8) rotate(90)" textLength="177.2" lengthAdjust="spacingAndGlyphs">1529.903 m/z ± 0.3 Da</text>
<text class="h k" x="1019.5" y="694.5" font-size="48.5" textLength="25.5" lengthAdjust="spacingAndGlyphs" style="stroke-width:1.6">S</text>
<text class="t" x="978.6" y="939.4" text-anchor="end">129.318</text>
<text class="t" x="978.6" y="967.8" text-anchor="end">115.018</text>
<text class="t" x="978.6" y="996.5" text-anchor="end">100.717</text>
<text class="t" x="978.6" y="1025" text-anchor="end">86.4169</text>
<text class="t" x="978.6" y="1053.7" text-anchor="end">72.1165</text>
<text class="t" x="978.6" y="1082.2" text-anchor="end">57.8161</text>
<text class="t" x="978.6" y="1110.9" text-anchor="end">43.5158</text>
<text class="t" x="978.6" y="1139.5" text-anchor="end">29.2154</text>
<text class="t" x="978.6" y="1168.2" text-anchor="end">14.915</text>
<text class="t" x="978.6" y="1196.5" text-anchor="end">0.614584</text>
<text class="t" transform="translate(1754.2 974.5) rotate(90)" textLength="169.1" lengthAdjust="spacingAndGlyphs">1452.78 m/z ± 0.3 Da</text>
<text class="h k" x="1017.5" y="967.5" font-size="48.5" textLength="28.5" lengthAdjust="spacingAndGlyphs" style="stroke-width:1.6">P</text>
<g stroke="#000" fill="none">
<path d="M0 56.8H1770" stroke-width="3.5"/>
<path d="M482.8 0V1468.5" stroke-width="3.3"/>
<path d="M1368.7 0V1200" stroke-width="3.4"/>
<path d="M887.6 0V1475" stroke-width="6.6"/>
<path d="M0 916H887M887 634.8H1765M887 1202.4H1765" stroke-width="6.3"/>
<path d="M61 357.5H884M55.4 1200.5H884M916.8 357.3H1765M916.8 915.4H1765" stroke-width="3" stroke-dasharray="6 7.1"/>
</g>
<text class="h k" x="3.5" y="52.4" font-size="64" textLength="43" lengthAdjust="spacingAndGlyphs">A</text>
<text class="h k" x="7.2" y="975.8" font-size="61" textLength="37.5" lengthAdjust="spacingAndGlyphs">B</text>
<text class="h k" x="899" y="52" font-size="65" textLength="37.5" lengthAdjust="spacingAndGlyphs">C</text>
<text class="h k" x="895.2" y="703.6" font-size="65" textLength="43.5" lengthAdjust="spacingAndGlyphs">D</text>
<text class="h k" x="900.5" y="1269.4" font-size="62" textLength="32" lengthAdjust="spacingAndGlyphs">E</text>
<text class="h" x="72" y="46.2" font-size="28.6" textLength="167" lengthAdjust="spacingAndGlyphs">Renal cortex</text>
<text class="h" x="963.5" y="46.2" font-size="28.6" textLength="167" lengthAdjust="spacingAndGlyphs">Renal cortex</text>
<text class="h r" x="498" y="46.2" font-size="28.6" textLength="193" lengthAdjust="spacingAndGlyphs">Renal medulla</text>
<text class="h r" x="1389.5" y="46.2" font-size="28.6" textLength="193" lengthAdjust="spacingAndGlyphs">Renal medulla</text>
<text class="h" x="170.8" y="91.6" font-size="28.7" text-anchor="middle">5</text>
<text class="h" x="254.7" y="91.6" font-size="28.7" text-anchor="middle">15</text>
<text class="h" x="338.9" y="91.6" font-size="28.7" text-anchor="middle">60</text>
<text class="h" x="439" y="91.6" font-size="28.7" text-anchor="middle">120</text>
<text class="h" x="522.4" y="91.6" font-size="28.7" text-anchor="middle">5</text>
<text class="h" x="606" y="91.6" font-size="28.7" text-anchor="middle">15</text>
<text class="h" x="690.6" y="91.6" font-size="28.7" text-anchor="middle">60</text>
<text class="h" x="1050.2" y="91.6" font-size="28.7" text-anchor="middle">5</text>
<text class="h" x="1134" y="91.6" font-size="28.7" text-anchor="middle">15</text>
<text class="h" x="1218" y="91.6" font-size="28.7" text-anchor="middle">60</text>
<text class="h" x="1318.7" y="91.6" font-size="28.7" text-anchor="middle">120</text>
<text class="h" x="1418" y="91.6" font-size="28.7" text-anchor="middle">5</text>
<text class="h" x="1501.5" y="91.6" font-size="28.7" text-anchor="middle">15</text>
<text class="h" x="1585.7" y="91.6" font-size="28.7" text-anchor="middle">60</text>
<text class="h" x="766" y="91.6" font-size="28.7" textLength="109" lengthAdjust="spacingAndGlyphs">120 min</text>
<text class="h" x="1660.5" y="91.6" font-size="28.7" textLength="109" lengthAdjust="spacingAndGlyphs">120 min</text>
<defs><clipPath id="tc"><path d="M1207.1 1211.5C1229.3 1210.5 1243.3 1216.4 1261.5 1223.1C1279.6 1229.9 1297.8 1241.6 1316 1252C1334.2 1262.4 1354.5 1275.5 1370.4 1285.4C1386.3 1295.2 1400.4 1303 1411.3 1311.2C1422.2 1319.4 1430.8 1325.2 1435.8 1334.5C1440.8 1343.7 1443 1353.9 1441.2 1366.5C1439.4 1379.2 1434.5 1398.1 1424.9 1410.5C1415.4 1422.8 1400 1433.1 1384.1 1440.6C1368.2 1448.2 1352.2 1451.8 1329.6 1455.7C1306.9 1459.6 1275.2 1462 1247.9 1464C1220.7 1466 1193.4 1467.1 1166.2 1467.5C1139 1468 1107.3 1468.9 1084.6 1466.7C1061.9 1464.5 1044.1 1461 1030.1 1454.4C1016 1447.8 1006.3 1437 1000.1 1427C994 1416.9 992.9 1404.9 993.3 1394C993.8 1383 996.7 1374.8 1002.9 1361.1C1009 1347.4 1018.7 1327.7 1030.1 1311.7C1041.4 1295.7 1054.6 1278.8 1070.9 1265C1087.3 1251.3 1105.5 1238.2 1128.2 1229.3C1150.8 1220.4 1184.8 1212.5 1207.1 1211.5Z"/></clipPath><filter id="tx" x="0" y="0" width="100%" height="100%"><feTurbulence type="fractalNoise" baseFrequency="0.32" numOctaves="3" seed="3"/><feColorMatrix values="0 0 0 0 1  0 0 0 0 0.95  0 0 0 0 1  2.6 0 0 0 -1.1"/></filter><filter id="tx2" x="0" y="0" width="100%" height="100%"><feTurbulence type="fractalNoise" baseFrequency="0.3" numOctaves="2" seed="11"/><feColorMatrix values="0 0 0 0 0.75  0 0 0 0 0.35  0 0 0 0 0.7  0 2.4 0 0 -1.05"/></filter></defs><g clip-path="url(#tc)"><rect x="985" y="1205" width="465" height="268" fill="#db98cc"/><rect x="985" y="1205" width="465" height="268" filter="url(#tx)" opacity="0.5"/><rect x="985" y="1205" width="465" height="268" filter="url(#tx2)" opacity="0.6"/><path fill="#fff" fill-opacity="0.55" d="M1137.3 1248.9h2v1.1h-2zM1233.8 1304.3h1.1v1.6h-1.1zM1007.1 1321.9h1.1v1.1h-1.1zM1183.2 1423.3h1.2v1.3h-1.2zM1275.5 1454.5h1.9v1.5h-1.9zM1434.2 1222h2.4v1.3h-2.4zM1055.6 1240.4h1.5v2h-1.5zM1072.2 1360.1h2v1.4h-2zM1239.2 1226.2h1.1v1.2h-1.1zM1299.6 1320.3h1.5v1.7h-1.5zM1196.2 1287.3h2.3v1.8h-2.3zM1101.1 1358.2h1.8v2.1h-1.8zM1321.9 1284.3h2.6v1.1h-2.6zM1180.2 1405.3h1.2v1.6h-1.2zM1007.8 1382.4h2.2v1.7h-2.2zM1388.3 1290.9h2.1v1.7h-2.1zM1253.9 1327.7h2.3v2.1h-2.3zM1205.7 1381.4h1.1v1.8h-1.1zM1284.4 1466.2h2.3v1.3h-2.3zM1165.5 1382.5h1v1.6h-1zM1066.5 1240.2h1.1v1.9h-1.1zM1048.8 1273.9h1.6v2h-1.6zM1026.7 1325.9h1.9v2.1h-1.9zM1362.8 1432.9h1.4v1.5h-1.4zM1153.2 1438.1h2.5v1.2h-2.5zM1070.2 1269.8h1.4v1.6h-1.4zM1258.1 1277.8h1v1.5h-1zM1158 1356.1h2.5v1.8h-2.5zM1224.5 1369.3h2.1v1.1h-2.1zM1399.3 1411.2h2.4v2h-2.4zM1168.5 1312.9h1.2v1.8h-1.2zM1018.3 1227.4h1.3v1.2h-1.3zM1144.7 1223.6h1v1.2h-1zM1036.2 1303.8h1v2h-1zM1269.4 1248.3h1.4v1.4h-1.4zM1155.7 1241.7h2.4v2.2h-2.4zM1202 1334.8h1.1v1.1h-1.1zM1145.9 1278.3h2.3v1.2h-2.3zM1000.5 1455.4h1.8v1.2h-1.8zM1237.1 1217h1.8v2.2h-1.8zM1382.8 1389.6h1.4v1.4h-1.4zM1066 1409.2h1.9v1.9h-1.9zM1140 1267.5h2.3v2.2h-2.3zM1377.9 1418h2.3v1.9h-2.3zM1093.2 1343.6h1.6v1h-1.6zM1002.7 1282.1h1.4v1.8h-1.4zM1425.2 1325.4h2.5v2.2h-2.5zM1424.5 1304.1h1.4v1.3h-1.4zM1079.5 1262.7h2v2.1h-2zM1372.4 1333.7h2v2h-2zM1028.6 1380.4h2.5v1.9h-2.5zM1331.3 1333.3h1.3v1.9h-1.3zM1141.3 1416.6h2.6v1.5h-2.6zM1172.6 1454.3h2.2v1.2h-2.2zM1047.8 1249h2.4v2h-2.4zM1056.5 1423.2h2.6v1.8h-2.6zM1149.4 1351.6h1.2v1h-1.2zM1431.8 1377.6h1.8v2.1h-1.8zM1187.4 1434.9h2.3v1.3h-2.3zM1104.6 1285.6h1.4v1.7h-1.4zM1108 1318.1h1.2v2.1h-1.2zM1151 1328.2h1.9v2.1h-1.9zM1181.4 1446.8h1.8v1.6h-1.8zM1228.2 1214.8h1.7v1.2h-1.7zM991.8 1416.2h1.3v1.6h-1.3zM1320 1353.6h1.5v1.6h-1.5zM1242.7 1412.3h1.2v1.7h-1.2zM1103.1 1281.4h2.2v1.6h-2.2zM1245.6 1406.1h2.5v1.5h-2.5zM1268.7 1340.4h1.8v1.8h-1.8zM1195.8 1347.6h1.8v2.1h-1.8zM1308.1 1436.1h2.5v1.3h-2.5zM1244.6 1453.4h2.3v1.2h-2.3zM1045.3 1324.1h1.1v1.3h-1.1zM1023.3 1382.7h2.3v2.1h-2.3zM1060.3 1394.8h2.1v1.2h-2.1zM1391.7 1459.6h1.4v2.1h-1.4zM1171.2 1335.7h2.6v2h-2.6zM1063.5 1321.3h1.8v1.4h-1.8zM1079.1 1292.2h2.2v1h-2.2zM1242.1 1323.6h1v1.4h-1zM1273.9 1342.2h1.1v2.2h-1.1zM1348.7 1460.7h1.2v1.3h-1.2zM1008 1411h1.4v1.2h-1.4zM1182.1 1445.1h2.3v1.3h-2.3zM1058 1447.1h1.9v1.8h-1.9zM1030.7 1224.8h2.1v1.5h-2.1zM1022.9 1452.1h2v2h-2zM1028.1 1430.9h1.1v2h-1.1zM1196.5 1297.5h1.9v2.1h-1.9zM1111.9 1243.3h1.8v1.3h-1.8zM1039.8 1251.7h1.1v1.2h-1.1zM1132 1288.7h2.2v1.3h-2.2zM1217.5 1255.9h1.6v1h-1.6zM1104 1214h2.2v1.7h-2.2zM1076.2 1332.5h2.5v1.1h-2.5zM1362.6 1321.5h1.8v2h-1.8zM1168.9 1340.7h2.1v2.2h-2.1zM1145.9 1424.7h2.1v1.8h-2.1zM1174.1 1299.7h1.1v1.2h-1.1zM1022.2 1401.1h1.4v1.2h-1.4zM1028.4 1427h2.4v1.8h-2.4zM1118.3 1272.5h1.5v1.6h-1.5zM1061.7 1325h1.4v2.2h-1.4zM1432.5 1351.1h1.4v2.2h-1.4zM1130.8 1302h1v1.5h-1zM1206 1339.7h1.3v1.6h-1.3zM992.3 1278.2h1.1v1.5h-1.1zM1009 1215.8h1.5v1.3h-1.5zM1256.4 1346.5h2.2v1.8h-2.2zM1315.8 1436.8h1.6v1.4h-1.6zM1438.1 1248.6h2.2v1.8h-2.2zM1009.9 1425.5h2.4v1.8h-2.4zM1323.9 1419.6h1.2v1.6h-1.2zM1219.5 1425.4h2.3v2h-2.3zM1255.7 1440.4h2.1v1.8h-2.1zM1094.6 1218h1.2v1.4h-1.2zM1037.7 1425.6h1.9v1.8h-1.9zM1274.9 1385.6h1.8v1h-1.8zM1353 1403.1h1.8v1.6h-1.8zM1290 1227h2.2v1.3h-2.2zM1023.9 1278.5h2.2v1.2h-2.2zM1326.6 1461.7h1.8v1.5h-1.8zM1207.9 1386.4h2.2v1.7h-2.2zM1282.5 1230h1.2v1.3h-1.2zM1328.2 1288.5h1.9v1h-1.9zM1017.6 1279.3h2.1v1.8h-2.1zM1297.4 1285h1.8v1.6h-1.8zM1202.2 1240.6h2.4v1.2h-2.4zM1435 1451.6h1v1.6h-1zM1363.1 1459.8h1.7v1.3h-1.7zM1085.5 1454h1.3v1.7h-1.3zM1054.5 1345.2h2.5v1.2h-2.5zM1363.2 1341.3h2.4v1.8h-2.4zM1095.3 1441.6h1.8v1h-1.8zM991.6 1336.9h1.7v1.4h-1.7zM1054 1298.7h1.5v2h-1.5zM990.8 1403.7h2.3v1.1h-2.3zM1411.5 1394h2.4v1.3h-2.4zM1159.4 1311.4h2.6v1.7h-2.6zM1154.1 1320.4h1.4v1.1h-1.4zM1036.3 1425.3h1.5v2.1h-1.5zM1103.4 1278.6h1.8v1.2h-1.8zM1159.9 1456.7h2.4v2h-2.4zM1277.1 1445.7h2.5v1.7h-2.5zM1317.4 1222.8h2.2v1.5h-2.2zM1332.5 1376.3h1.5v1.1h-1.5zM1411.7 1242.8h1.8v1.4h-1.8zM1125.5 1400.7h2.6v1.3h-2.6zM1288.5 1287.6h1.9v1.5h-1.9zM1066.1 1251.7h1.3v2.1h-1.3zM1216.2 1266.8h2.5v2.2h-2.5zM1194.7 1246h1.3v1.1h-1.3zM1145.6 1233.5h1.4v1.3h-1.4zM1249.2 1438.9h2.2v1.5h-2.2zM1178.3 1345.2h1.6v1.4h-1.6zM1018.2 1281.6h2.5v1.2h-2.5zM1219 1372.4h2.4v1.3h-2.4zM1113.3 1274.1h1.6v1.5h-1.6zM1424 1429h2.4v1h-2.4zM1004.7 1393.1h2.4v1.6h-2.4zM1257.2 1210h1.6v2.1h-1.6zM1365.6 1430.7h2.6v1.3h-2.6zM1039.6 1249.8h1.8v1.8h-1.8zM1418.4 1396.2h2v1.9h-2zM1198.1 1352.3h1.1v1.9h-1.1zM1095.8 1447.3h2v1.4h-2zM1048.2 1275h2v1.8h-2zM1041 1228.2h1.8v1.7h-1.8zM1166.6 1267.7h2v1h-2zM1127.2 1328.9h2.5v1.8h-2.5zM1392.1 1332.6h1.4v1.3h-1.4zM1427.1 1391.8h1.5v1h-1.5zM1216.7 1384h1.7v1.3h-1.7zM1293.6 1448.7h1.4v1h-1.4zM1143.8 1318.5h2.1v1.2h-2.1zM1352.7 1400.7h1.8v1.2h-1.8zM1431.3 1290.4h2.3v1.3h-2.3zM1090.8 1406.2h1.5v2.1h-1.5zM1215.6 1258.3h1.4v1.5h-1.4zM1292.7 1454.8h1.2v1.5h-1.2zM1086.9 1461.3h1.2v1.1h-1.2zM1017.4 1311.5h2.4v2.1h-2.4zM1323.4 1467.4h2.5v1.4h-2.5zM1074.4 1451.5h2.2v1h-2.2zM1292.3 1307.7h1.6v1.4h-1.6zM1067 1210.7h1.4v1.4h-1.4zM1424.8 1241.9h2.5v1.2h-2.5zM1152.3 1422h2.3v1.5h-2.3zM1012.4 1332.2h1.6v2.1h-1.6zM1077.8 1304h2.4v1h-2.4zM1176.9 1419.5h2.2v1h-2.2zM1005.9 1226.1h2.5v1.3h-2.5zM1330 1441.8h1.5v1.3h-1.5zM1425.7 1369.2h1.4v1.9h-1.4zM1134 1281.1h1v1.9h-1zM1407 1373.6h2.5v1h-2.5zM1096.4 1332.6h2.5v2.1h-2.5zM1165.9 1274.8h1.7v1.6h-1.7zM1412.3 1257.2h2.3v1.9h-2.3zM1364.4 1409.4h2v1.4h-2zM1135.4 1303.4h2.3v1.1h-2.3zM1079.8 1404.2h1.4v1.1h-1.4zM1005.4 1352.6h1.5v2.2h-1.5zM1392 1464.9h1.4v1.1h-1.4zM1033.9 1338.6h2.1v1.5h-2.1zM1096.6 1317.5h2v1.8h-2zM1330.3 1428.5h2.1v1.1h-2.1zM1372.6 1285.8h1.9v1.4h-1.9zM1325.8 1261.4h1.4v1.3h-1.4zM1059.8 1438.1h1.9v1.4h-1.9zM1170.2 1466.1h1.8v1.3h-1.8zM1357.8 1378.6h2.6v1.1h-2.6zM1206 1421.3h2.3v2.1h-2.3zM1008.4 1285.8h1.2v1.2h-1.2zM1432.7 1360.5h2.5v1.4h-2.5zM1384.1 1325.9h1.4v1.9h-1.4zM1420.3 1237.3h2v1.7h-2zM1089 1305.1h1.2v1.2h-1.2zM1106 1364.7h2v1.2h-2zM995.2 1294.4h2.1v1.2h-2.1zM1132 1262.5h2.3v1.7h-2.3zM1018.8 1236.2h1.6v1.7h-1.6zM1280.8 1233.5h1.3v1.8h-1.3zM1176.5 1283.1h1.5v2.1h-1.5zM1132.1 1356.2h1.6v1.5h-1.6zM1383.2 1467.1h1.6v1.2h-1.6zM1321.3 1262.5h1v2.1h-1zM1182.8 1421.7h1.6v2.1h-1.6zM1199.7 1251.9h1v1.7h-1zM1281.5 1444.7h1.1v1.7h-1.1zM1158.7 1340.2h1.2v1.3h-1.2zM1227.1 1448.8h1.2v1.6h-1.2zM1356.2 1459.5h1.3v1.2h-1.3zM1419.1 1461.7h1.8v1.1h-1.8zM1411.4 1310.1h2.4v1.7h-2.4zM1365.2 1251.4h2.3v1.3h-2.3zM1174 1428.4h2.3v1.2h-2.3zM1089.3 1313.1h1.8v1.5h-1.8zM1046 1273.7h2.2v2.1h-2.2zM1008.7 1355.1h2.2v1h-2.2zM1371.4 1240.4h2v1.7h-2zM1275.3 1289h1.7v1.7h-1.7zM1183.7 1380h1.7v1.5h-1.7zM1000.6 1369.7h1.8v1.3h-1.8zM1337.4 1411.2h1.7v1.2h-1.7zM1205.3 1237.6h1.2v1.5h-1.2zM1031.7 1324h1.8v1h-1.8zM1279.6 1231.2h2.2v1.9h-2.2zM1222.7 1224h1.8v1.5h-1.8zM1422.6 1245.1h2.4v2.2h-2.4zM1323.1 1420.3h1.3v2.2h-1.3zM1213.8 1456.8h2.5v1.2h-2.5zM1348.7 1450.1h1.1v1.4h-1.1zM1334.1 1251h2.4v1.3h-2.4zM1361.1 1247h1.8v2.1h-1.8zM1084.8 1277.8h1.8v1.4h-1.8zM1006.8 1257h1.3v2.1h-1.3zM1299.3 1441h1.3v1.9h-1.3zM1042.4 1346.9h2v1.4h-2z"/><g fill="#fbf4fa" fill-opacity="0.85"><path d="M1234 1275c4-3 10-2 12 2 2 8 1 18 -1 26 -2 5 -6 5 -8 0 -3-9 -5-19 -3-28z"/><path d="M1238 1348c5-2 9 3 12 9 6 10 14 22 17 36 1 5 -4 6 -7 2 -7-9 -14-19 -20-30 -3-6 -5-14 -2-17z"/><path d="M1128 1359c4-3 9 0 13 6 6 10 12 22 17 38 1 6 -4 7 -7 3 -7-10 -15-22 -20-34 -3-6 -6-10 -3-13z"/><path d="M1354 1336c4-1 8 4 10 10 2 8 3 14 1 17 -3 2 -6-2 -8-7 -2-7 -6-17 -3-20z"/><path d="M1139 1291c3-1 5 2 4 5 -1 3 -4 3 -5 0z"/><path d="M1367 1345c6-3 14-4 20-2 -3 4 -12 6 -20 6z"/></g></g><path d="M1210.5 1209.5C1232.6 1208.5 1246.6 1214.3 1264.7 1221C1282.8 1227.7 1300.9 1239.2 1319 1249.5C1337.1 1259.8 1357.4 1272.8 1373.2 1282.5C1389 1292.2 1403.1 1299.9 1413.9 1308C1424.8 1316.1 1433.3 1321.9 1438.3 1331C1443.3 1340.1 1445.5 1350.2 1443.7 1362.7C1441.9 1375.2 1437 1393.9 1427.5 1406.1C1418 1418.3 1402.6 1428.5 1386.8 1435.9C1371 1443.4 1355.1 1447 1332.5 1450.8C1309.9 1454.6 1278.3 1457 1251.2 1459C1224.1 1461 1196.9 1462 1169.8 1462.5C1142.7 1463 1111.1 1463.9 1088.5 1461.7C1065.9 1459.5 1048.2 1456 1034.2 1449.5C1020.2 1443 1010.5 1432.4 1004.4 1422.4C998.3 1412.5 997.1 1400.7 997.6 1389.8C998.1 1378.9 1001 1370.8 1007.1 1357.3C1013.2 1343.8 1022.9 1324.3 1034.2 1308.5C1045.5 1292.7 1058.6 1276 1074.9 1262.4C1091.2 1248.8 1109.3 1235.9 1131.9 1227.1C1154.5 1218.3 1188.4 1210.5 1210.5 1209.5Z" fill="none" stroke="#000" stroke-width="5.3"/><path d="M1366 1382C1363.2 1388.5 1358 1396 1352 1402C1346 1408 1336.8 1414.4 1330 1418C1323.2 1421.6 1321 1422.7 1311 1423.5C1301 1424.3 1283.5 1423.3 1270 1423C1256.5 1422.7 1245 1421.9 1230 1421.5C1215 1421.1 1196.7 1420.8 1180 1420.5C1163.3 1420.2 1141.7 1419.9 1130 1419.5C1118.3 1419.1 1116.8 1419.2 1110 1418C1103.2 1416.8 1096.7 1414.9 1089 1412C1081.3 1409.1 1070.6 1405.2 1064 1400.5C1057.4 1395.8 1052.4 1390.2 1049.5 1384C1046.6 1377.8 1045.5 1370 1046.5 1363C1047.5 1356 1050.6 1348.5 1055.5 1342C1060.4 1335.5 1068.1 1330.2 1076 1324C1083.9 1317.8 1094 1310.5 1103 1304.5C1112 1298.5 1121.2 1293.5 1130 1288C1138.8 1282.5 1147.3 1276.3 1156 1271.5C1164.7 1266.7 1173.3 1261.8 1182 1259C1190.7 1256.2 1198.3 1254.9 1208 1254.5C1217.7 1254.1 1229.7 1254.6 1240 1256.5C1250.3 1258.4 1258.3 1260.6 1270 1266C1281.7 1271.4 1298.8 1282 1310 1289C1321.2 1296 1329.3 1301.7 1337 1308C1344.7 1314.3 1351.2 1320.8 1356 1327C1360.8 1333.2 1363.9 1339 1366 1345C1368.1 1351 1368.5 1356.8 1368.5 1363C1368.5 1369.2 1368.8 1375.5 1366 1382Z" fill="none" stroke="#000" stroke-width="3.6"/><path d="M1210 1250.8C1200.3 1251.2 1190.7 1252.6 1181.7 1255.5C1172.7 1258.4 1164.5 1263.4 1155.9 1268.3C1147.3 1273.2 1138.7 1279.5 1130.1 1285.1C1121.5 1290.7 1113 1295.6 1104.4 1301.8C1095.8 1308 1086.1 1316 1078.6 1322.4C1071.1 1328.9 1064.1 1333.8 1059.3 1340.5C1054.5 1347.2 1050.8 1355.4 1049.5 1362.3C1048.2 1369.2 1048.9 1375.9 1051.6 1381.7C1054.3 1387.5 1059.1 1392.6 1065.8 1397.1C1072.5 1401.6 1082.9 1405.7 1091.5 1408.7C1100.1 1411.7 1110.3 1414.5 1117.3 1415.1C1124.3 1415.7 1129.4 1414.6 1133.5 1412.5C1137.6 1410.4 1140.8 1405.9 1141.7 1402.3C1142.7 1398.7 1141.6 1393.5 1139.2 1390.7C1136.8 1387.9 1131.9 1387.1 1127.6 1385.5C1123.3 1383.9 1117 1384 1113.4 1381.2C1109.9 1378.4 1107 1373.5 1106.3 1368.8C1105.6 1364.1 1106.6 1358.4 1109.5 1353.3C1112.4 1348.2 1117 1342.2 1123.7 1337.9C1130.4 1333.6 1139.8 1330.2 1149.5 1327.6C1159.2 1325 1172 1323.3 1181.7 1322.4C1191.4 1321.5 1199.4 1322.3 1207.4 1322.2C1215.5 1322.1 1222.8 1321.5 1230 1321.6C1237.2 1321.7 1243.5 1321.6 1250.3 1322.9C1257.1 1324.2 1265.7 1326.6 1270.7 1329.5C1275.7 1332.4 1278.5 1336 1280.2 1340.3C1282 1344.6 1282.1 1350.3 1281.2 1355.3C1280.3 1360.3 1276.5 1365 1274.7 1370.2C1272.9 1375.4 1270.9 1381 1270.5 1386.4C1270.1 1391.8 1270.2 1397.8 1272.5 1402.7C1274.8 1407.6 1278.9 1412.9 1284.2 1415.8C1289.5 1418.7 1296.7 1420.7 1304.6 1420.3C1312.5 1419.9 1323.3 1417 1331.7 1413.6C1340.1 1410.2 1348.6 1405.2 1354.7 1400C1360.8 1394.8 1365.5 1388.7 1368.3 1382.4C1371.1 1376.1 1371.5 1368.6 1371.7 1362C1371.9 1355.4 1371.9 1349.3 1369.7 1343C1367.5 1336.7 1364 1330.4 1358.8 1324.1C1353.6 1317.8 1346.4 1311.4 1338.5 1305.1C1330.6 1298.8 1322.7 1293.1 1311.4 1286.1C1300.1 1279.1 1282.7 1268.5 1270.7 1263C1258.7 1257.5 1249.7 1255.2 1239.6 1253.2C1229.5 1251.2 1219.7 1250.4 1210 1250.8Z" fill="none" stroke="#e8200f" stroke-width="6.2"/><path d="M1338 1278.6L1475 1243.4" stroke="#000" stroke-width="4.3"/><path d="M1319 1332.7H1465.5" stroke="#e8200f" stroke-width="5.8"/><text class="h" x="1498" y="1254.5" font-size="28.6" textLength="182" lengthAdjust="spacingAndGlyphs">Renal cortex</text><text class="h r" x="1481.5" y="1341.5" font-size="28.6" textLength="211" lengthAdjust="spacingAndGlyphs">Renal medulla</text><rect x="1430" y="1443.5" width="136.5" height="12.5" fill="#000"/><text class="h" x="1461.5" y="1440" font-size="28.6" textLength="83" lengthAdjust="spacingAndGlyphs">3 mm</text>
</svg></body></html>
